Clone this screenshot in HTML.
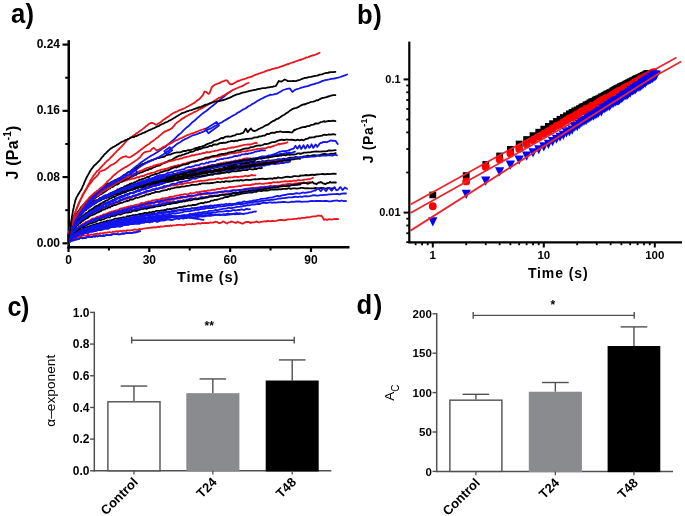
<!DOCTYPE html>
<html><head><meta charset="utf-8"><style>
html,body{margin:0;padding:0;background:#fff;}
svg{display:block;will-change:transform;}
text{font-family:"Liberation Sans",sans-serif;}
</style></head><body>
<svg width="685" height="516" viewBox="0 0 685 516">
<rect width="685" height="516" fill="#fff"/>
<text transform="translate(11.0,22.6) scale(0.9,1)" font-size="28.5" font-weight="bold" letter-spacing="0.4">a)</text>
<text transform="translate(357.0,23.8) scale(0.9,1)" font-size="28.5" font-weight="bold" letter-spacing="0.6">b)</text>
<text transform="translate(7.6,316.4) scale(0.88,1)" font-size="28.5" font-weight="bold" letter-spacing="-0.6">c)</text>
<text transform="translate(356.4,314.4) scale(0.9,1)" font-size="28.5" font-weight="bold" letter-spacing="1.8">d)</text>
<line x1="68.75" y1="40.20" x2="68.75" y2="248.50" stroke="#000" stroke-width="2.5" />
<line x1="67.50" y1="247.20" x2="349.50" y2="247.20" stroke="#000" stroke-width="2.5" />
<line x1="62.50" y1="243.30" x2="68.00" y2="243.30" stroke="#000" stroke-width="2.2" />
<text x="60.00" y="246.90" font-size="12" text-anchor="end" font-weight="bold" fill="#000" >0.00</text>
<line x1="62.50" y1="177.07" x2="68.00" y2="177.07" stroke="#000" stroke-width="2.2" />
<text x="60.00" y="180.67" font-size="12" text-anchor="end" font-weight="bold" fill="#000" >0.08</text>
<line x1="62.50" y1="110.84" x2="68.00" y2="110.84" stroke="#000" stroke-width="2.2" />
<text x="60.00" y="114.44" font-size="12" text-anchor="end" font-weight="bold" fill="#000" >0.16</text>
<line x1="62.50" y1="44.60" x2="68.00" y2="44.60" stroke="#000" stroke-width="2.2" />
<text x="60.00" y="48.20" font-size="12" text-anchor="end" font-weight="bold" fill="#000" >0.24</text>
<line x1="65.20" y1="210.18" x2="68.00" y2="210.18" stroke="#000" stroke-width="2" />
<line x1="65.20" y1="143.95" x2="68.00" y2="143.95" stroke="#000" stroke-width="2" />
<line x1="65.20" y1="77.72" x2="68.00" y2="77.72" stroke="#000" stroke-width="2" />
<line x1="68.50" y1="247.00" x2="68.50" y2="252.00" stroke="#000" stroke-width="2.2" />
<text x="68.50" y="264.20" font-size="12" text-anchor="middle" font-weight="bold" fill="#000" >0</text>
<line x1="149.32" y1="247.00" x2="149.32" y2="252.00" stroke="#000" stroke-width="2.2" />
<text x="149.32" y="264.20" font-size="12" text-anchor="middle" font-weight="bold" fill="#000" >30</text>
<line x1="230.14" y1="247.00" x2="230.14" y2="252.00" stroke="#000" stroke-width="2.2" />
<text x="230.14" y="264.20" font-size="12" text-anchor="middle" font-weight="bold" fill="#000" >60</text>
<line x1="310.96" y1="247.00" x2="310.96" y2="252.00" stroke="#000" stroke-width="2.2" />
<text x="310.96" y="264.20" font-size="12" text-anchor="middle" font-weight="bold" fill="#000" >90</text>
<line x1="108.91" y1="247.00" x2="108.91" y2="250.50" stroke="#000" stroke-width="2" />
<line x1="189.73" y1="247.00" x2="189.73" y2="250.50" stroke="#000" stroke-width="2" />
<line x1="270.55" y1="247.00" x2="270.55" y2="250.50" stroke="#000" stroke-width="2" />
<text x="208.00" y="282.40" font-size="14.6" text-anchor="middle" font-weight="bold" fill="#000" letter-spacing="0.8">Time (s)</text>
<text transform="translate(17.9,179.5) rotate(-90)" font-size="16" font-weight="bold" fill="#000" letter-spacing="0.2">J (Pa<tspan font-size="10" dy="-7">-1</tspan><tspan dy="7">)</tspan></text>
<line x1="409.30" y1="41.60" x2="409.30" y2="243.20" stroke="#000" stroke-width="2.2" />
<line x1="408.50" y1="242.40" x2="682.00" y2="242.40" stroke="#000" stroke-width="2.2" />
<line x1="403.60" y1="79.40" x2="409.00" y2="79.40" stroke="#000" stroke-width="2" />
<text x="400.60" y="82.80" font-size="11" text-anchor="end" font-weight="bold" fill="#000" >0.1</text>
<line x1="403.60" y1="212.60" x2="409.00" y2="212.60" stroke="#000" stroke-width="2" />
<text x="400.60" y="216.00" font-size="11" text-anchor="end" font-weight="bold" fill="#000" >0.01</text>
<line x1="406.30" y1="242.15" x2="409.00" y2="242.15" stroke="#000" stroke-width="1.8" />
<line x1="406.30" y1="233.23" x2="409.00" y2="233.23" stroke="#000" stroke-width="1.8" />
<line x1="406.30" y1="225.51" x2="409.00" y2="225.51" stroke="#000" stroke-width="1.8" />
<line x1="406.30" y1="218.69" x2="409.00" y2="218.69" stroke="#000" stroke-width="1.8" />
<line x1="406.30" y1="172.50" x2="409.00" y2="172.50" stroke="#000" stroke-width="1.8" />
<line x1="406.30" y1="149.05" x2="409.00" y2="149.05" stroke="#000" stroke-width="1.8" />
<line x1="406.30" y1="132.41" x2="409.00" y2="132.41" stroke="#000" stroke-width="1.8" />
<line x1="406.30" y1="119.50" x2="409.00" y2="119.50" stroke="#000" stroke-width="1.8" />
<line x1="406.30" y1="108.95" x2="409.00" y2="108.95" stroke="#000" stroke-width="1.8" />
<line x1="406.30" y1="100.03" x2="409.00" y2="100.03" stroke="#000" stroke-width="1.8" />
<line x1="406.30" y1="92.31" x2="409.00" y2="92.31" stroke="#000" stroke-width="1.8" />
<line x1="406.30" y1="85.49" x2="409.00" y2="85.49" stroke="#000" stroke-width="1.8" />
<line x1="432.80" y1="242.00" x2="432.80" y2="247.50" stroke="#000" stroke-width="2" />
<text x="432.80" y="259.20" font-size="11.5" text-anchor="middle" font-weight="bold" fill="#000" >1</text>
<line x1="543.80" y1="242.00" x2="543.80" y2="247.50" stroke="#000" stroke-width="2" />
<text x="543.80" y="259.20" font-size="11.5" text-anchor="middle" font-weight="bold" fill="#000" >10</text>
<line x1="654.80" y1="242.00" x2="654.80" y2="247.50" stroke="#000" stroke-width="2" />
<text x="654.80" y="259.20" font-size="11.5" text-anchor="middle" font-weight="bold" fill="#000" >100</text>
<line x1="415.61" y1="242.00" x2="415.61" y2="245.20" stroke="#000" stroke-width="1.8" />
<line x1="422.04" y1="242.00" x2="422.04" y2="245.20" stroke="#000" stroke-width="1.8" />
<line x1="427.72" y1="242.00" x2="427.72" y2="245.20" stroke="#000" stroke-width="1.8" />
<line x1="466.21" y1="242.00" x2="466.21" y2="245.20" stroke="#000" stroke-width="1.8" />
<line x1="485.76" y1="242.00" x2="485.76" y2="245.20" stroke="#000" stroke-width="1.8" />
<line x1="499.63" y1="242.00" x2="499.63" y2="245.20" stroke="#000" stroke-width="1.8" />
<line x1="510.39" y1="242.00" x2="510.39" y2="245.20" stroke="#000" stroke-width="1.8" />
<line x1="519.17" y1="242.00" x2="519.17" y2="245.20" stroke="#000" stroke-width="1.8" />
<line x1="526.61" y1="242.00" x2="526.61" y2="245.20" stroke="#000" stroke-width="1.8" />
<line x1="533.04" y1="242.00" x2="533.04" y2="245.20" stroke="#000" stroke-width="1.8" />
<line x1="538.72" y1="242.00" x2="538.72" y2="245.20" stroke="#000" stroke-width="1.8" />
<line x1="577.21" y1="242.00" x2="577.21" y2="245.20" stroke="#000" stroke-width="1.8" />
<line x1="596.76" y1="242.00" x2="596.76" y2="245.20" stroke="#000" stroke-width="1.8" />
<line x1="610.63" y1="242.00" x2="610.63" y2="245.20" stroke="#000" stroke-width="1.8" />
<line x1="621.39" y1="242.00" x2="621.39" y2="245.20" stroke="#000" stroke-width="1.8" />
<line x1="630.17" y1="242.00" x2="630.17" y2="245.20" stroke="#000" stroke-width="1.8" />
<line x1="637.61" y1="242.00" x2="637.61" y2="245.20" stroke="#000" stroke-width="1.8" />
<line x1="644.04" y1="242.00" x2="644.04" y2="245.20" stroke="#000" stroke-width="1.8" />
<line x1="649.72" y1="242.00" x2="649.72" y2="245.20" stroke="#000" stroke-width="1.8" />
<text x="558.20" y="277.90" font-size="14" text-anchor="middle" font-weight="bold" fill="#000" letter-spacing="0.9">Time (s)</text>
<text transform="translate(373.4,163.2) rotate(-90)" font-size="14" font-weight="bold" fill="#000" letter-spacing="0.6">J (Pa<tspan font-size="9" dy="-6" letter-spacing="0.2">-1</tspan><tspan dy="6">)</tspan></text>
<g fill="none" stroke-width="1.8" stroke-linejoin="round" stroke-linecap="round">
<path d="M68.5,243.3L68.6,242.4 68.8,241.5 69.1,240.5 69.3,240.8 69.4,240.5 69.6,240.2 69.8,239.8 70.0,239.6 70.3,238.5 70.3,239.0 70.5,238.5 70.8,238.7 71.1,238.1 71.4,238.0 71.7,237.7 72.0,237.5 72.4,237.5 72.7,237.3 72.8,236.7 73.1,236.9 73.5,236.7 73.9,236.1 74.4,235.6 74.8,235.6 75.3,235.6 75.8,235.2 76.3,234.6 76.8,234.8 77.3,234.3 77.7,234.6 77.9,233.9 78.4,234.0 79.0,233.6 79.6,233.9 80.2,232.9 80.9,233.3 81.5,232.6 82.2,232.4 82.9,232.0 83.6,232.0 84.3,232.1 85.0,232.0 85.8,231.7 86.5,231.1 87.0,230.7 87.3,230.8 88.1,230.7 88.9,230.1 89.7,230.5 90.6,229.5 91.5,229.4 92.3,229.1 93.2,228.9 94.2,228.5 95.1,228.5 96.0,228.3 97.0,228.6 98.0,228.0 99.0,227.9 100.0,227.4 101.0,227.0 102.1,227.1 102.3,227.2 103.1,226.5 104.2,226.8 105.3,226.1 106.4,226.3 107.6,225.8 108.7,225.4 109.9,225.2 111.0,225.5 112.2,225.1 113.5,224.5 114.7,225.0 115.9,224.2 117.2,224.0 118.5,223.5 119.8,223.5 121.1,223.5 122.4,223.6 123.8,222.9 125.1,222.8 126.5,222.2 127.9,222.5 129.3,221.9 130.0,221.9 130.7,221.7 132.2,221.9 133.6,221.8 135.1,220.7 136.6,220.7 138.1,220.1 139.7,220.4 141.2,220.2 142.8,219.1 144.3,219.3 145.9,218.7 147.5,218.5 149.2,218.3 150.8,217.8 152.5,217.8 154.2,217.2 155.9,217.1 157.6,216.7 159.3,216.6 161.0,216.1 162.8,216.2 164.6,215.8 166.4,216.2 168.2,215.9 170.0,215.9 170.0,216.4 171.8,215.7 173.7,216.1 175.6,216.2 177.5,216.4 179.4,216.6 181.3,216.4 183.3,217.1 185.2,217.1 187.2,216.8 189.2,217.5 191.2,217.7 193.2,218.4 195.3,218.5 197.3,218.8 199.4,219.2 201.5,219.6 203.6,219.8" stroke="#1414ee"/>
<path d="M68.5,243.3L68.6,238.9 68.6,238.2 68.6,237.8 68.7,236.3 68.8,235.6 68.9,233.7 69.2,232.5 69.5,230.5 70.0,228.7 70.8,225.9 72.0,223.5 73.9,220.1 75.2,217.9 76.7,216.9 78.2,215.4 79.6,213.1 81.1,212.3 82.5,210.9 84.0,209.6 85.5,208.7 86.9,207.7 88.4,206.3 89.9,205.4 91.3,204.7 92.8,204.3 94.2,203.4 95.7,202.4 97.2,201.3 98.6,201.0 100.1,200.4 101.5,199.5 103.0,198.2 104.5,197.7 105.9,196.9 107.4,196.4 108.8,196.2 110.3,195.3 111.8,194.5 113.2,193.7 114.7,193.1 116.2,193.3 117.6,192.8 119.1,192.2 120.5,190.8 122.0,190.6 123.5,189.9 124.9,189.7 126.4,189.0 127.8,188.8 129.3,188.3 130.8,188.0 132.2,187.4 133.7,186.9 135.2,186.0 136.6,186.5 138.1,185.5 139.5,185.5 141.0,184.6 142.5,183.9 143.9,184.4 145.4,183.5 146.8,182.7 148.3,183.1 149.8,182.7 151.2,181.5 152.7,181.9 154.2,180.7 155.6,180.4 157.1,180.0 158.5,180.4 160.0,179.7 161.5,179.3 162.9,179.1 164.4,178.3 165.8,177.7 167.3,177.4 168.8,177.2 170.2,177.2 171.7,176.4 173.2,176.0 174.6,175.8 176.1,175.3 177.5,175.0 179.0,174.8 180.5,174.4 181.9,174.3 183.4,174.5 184.8,174.0 186.3,173.1 187.8,172.8 189.2,172.8 190.7,172.6 192.2,172.3 193.6,172.1 195.1,171.9 196.5,171.6 198.0,170.9 199.5,170.6 200.9,171.0 202.4,170.3 203.8,170.4 205.3,170.1 206.8,169.7 208.2,169.3 209.7,169.1 211.2,168.4 212.6,168.0 214.1,167.9 215.5,167.4 217.0,167.2 218.5,166.8 219.9,166.6 221.4,166.2 222.8,166.1 224.3,166.4 225.8,165.4 227.2,165.8 228.7,165.6 230.2,164.8 231.6,164.9 233.1,164.7 234.5,164.8 236.0,164.2 237.5,163.5 238.9,163.2 240.4,163.1 241.8,162.8 243.3,163.2 244.8,163.0 246.2,162.0 247.7,162.4 249.2,162.3 250.6,161.4 252.1,161.5 253.5,161.0 255.0,160.9" stroke="#000"/>
<path d="M68.5,243.3L68.6,241.4 69.0,239.6 69.5,238.0 69.7,237.1 69.8,237.0 70.0,236.6 70.2,236.7 70.3,236.3 70.5,236.2 70.7,235.1 71.0,235.1 71.2,234.4 71.4,234.3 71.5,234.4 71.7,233.8 71.9,233.6 72.2,233.7 72.4,233.3 72.7,232.7 73.0,232.7 73.3,232.6 73.6,231.6 74.0,232.0 74.3,231.6 74.6,230.9 75.0,230.4 75.3,230.9 75.6,230.1 75.7,229.8 76.1,229.5 76.5,229.8 76.9,229.3 77.3,229.2 77.7,228.8 78.1,228.3 78.6,228.4 79.0,227.6 79.5,227.4 79.9,227.4 80.4,226.9 80.9,226.8 81.4,226.3 81.9,226.1 82.4,225.2 83.0,225.0 83.5,224.8 83.7,224.5 84.0,224.5 84.6,224.0 85.2,223.9 85.7,223.9 86.3,223.4 86.9,223.1 87.5,222.7 88.1,222.4 88.8,222.7 89.4,222.2 90.0,221.8 90.7,221.2 91.4,221.4 92.0,220.6 92.7,220.5 93.4,220.7 94.1,220.1 94.8,219.8 95.5,219.6 96.3,219.4 97.0,219.1 97.8,218.3 98.5,217.9 99.0,217.9 99.3,217.8 100.1,217.4 100.9,217.8 101.7,217.5 102.5,216.7 103.3,216.7 104.1,216.2 105.0,216.4 105.8,215.7 106.7,215.2 107.5,214.9 108.4,214.9 109.3,214.4 110.2,214.4 111.1,214.4 112.0,213.6 112.9,213.2 113.9,213.6 114.8,212.9 115.8,212.2 116.8,211.9 117.7,211.7 118.7,211.9 119.7,211.7 120.7,211.1 121.7,210.5 122.8,210.5 123.8,210.8 124.3,210.2 124.8,210.5 125.9,210.1 126.9,209.1 128.0,209.4 129.1,209.1 130.2,208.7 131.3,208.2 132.4,208.3 133.5,207.5 134.7,207.5 135.8,207.2 137.0,207.4 138.1,207.1 139.3,206.2 140.5,206.2 141.7,205.6 142.9,206.0 144.1,205.7 145.3,204.9 146.5,204.9 147.8,204.6 149.0,203.9 150.3,204.2 151.5,203.7 152.8,203.7 154.1,203.2 155.4,202.4 156.7,202.4 158.0,201.9 159.3,202.4 160.7,202.1 162.0,201.8 163.4,201.1 164.8,200.6 166.1,201.1 167.5,200.9 168.9,199.8 170.0,200.0 170.3,199.6 171.7,199.9 173.2,199.7 174.6,198.8 176.0,198.9 177.5,198.7 179.0,198.2 180.4,198.5 181.9,197.8 183.4,197.4 184.9,197.4 186.4,197.3 187.9,196.6 189.5,196.5 191.0,196.8 192.6,196.3 194.1,195.8 195.7,195.7 197.3,195.1 198.9,194.9 200.0,194.9 200.5,195.0 202.1,194.4 203.7,194.2 205.3,193.8 207.0,194.1 208.6,193.5 210.3,193.9 211.9,193.6 213.6,192.7 215.3,192.6 217.0,192.8 218.7,192.1 220.4,191.8 222.2,192.3 223.9,191.8 225.6,191.5 227.4,191.5 229.2,191.3 230.9,190.5 232.7,190.2 234.5,190.3 236.3,190.1 238.2,189.9 240.0,189.9 241.8,189.6 243.7,189.7 245.5,188.7 247.4,188.7 249.2,188.4 250.0,188.8 251.1,188.1 253.0,187.9 254.9,187.9 256.8,187.6 258.8,187.3 260.7,187.0 262.6,187.4 264.6,186.7 266.5,186.9 268.5,186.4 270.5,185.7 272.5,186.3 274.5,186.0 276.5,185.9 278.5,185.6 280.6,185.3 282.6,184.5 284.6,184.6 286.7,184.1 288.8,184.0 290.0,183.6 290.9,183.8 292.9,184.1 295.0,183.3 297.1,183.5 299.3,183.0 301.4,182.8 303.5,183.0 305.7,182.9 307.8,182.3 310.0,182.2" stroke="#e8141e"/>
<path d="M68.5,243.3L68.6,240.6 68.7,238.1 69.0,236.1 69.1,234.6 69.2,233.8 69.4,233.9 69.5,232.5 69.7,231.7 69.8,231.5 70.0,230.7 70.0,231.1 70.2,229.8 70.4,229.7 70.6,228.5 70.8,228.1 71.0,227.7 71.3,226.8 71.5,226.3 71.8,225.5 71.9,224.6 72.1,225.0 72.4,224.0 72.7,223.1 73.0,222.4 73.3,222.3 73.6,221.4 74.0,221.1 74.3,220.3 74.7,219.8 75.1,218.8 75.5,218.3 75.8,217.6 75.9,217.3 76.3,217.2 76.7,216.0 77.1,215.8 77.6,215.3 78.0,214.4 78.5,213.3 79.0,213.3 79.5,212.6 80.0,211.5 80.5,210.8 81.0,210.6 81.5,209.5 82.1,209.7 82.6,208.7 83.2,208.1 83.2,208.0 83.8,207.6 84.4,207.2 85.0,206.0 85.6,205.5 86.2,205.1 86.8,204.2 87.5,203.8 88.1,203.2 88.8,202.5 89.5,202.1 90.2,201.4 90.9,200.4 91.6,200.6 92.3,199.4 93.0,198.9 93.8,198.2 94.5,198.1 95.3,197.5 95.5,197.0 96.1,196.4 96.9,195.5 97.7,195.6 98.5,194.3 99.3,194.0 100.1,193.2 101.0,192.5 101.8,191.9 102.7,191.1 103.6,190.3 104.5,190.1 105.4,189.7 106.3,188.9 107.2,187.9 108.1,187.7 109.1,186.6 110.0,186.3 111.0,186.1 112.0,185.6 113.0,184.7 114.0,184.5 115.0,183.8 116.0,183.3 117.0,183.0 117.5,183.1 118.1,182.7 119.1,182.1 120.2,182.0 121.3,181.6 122.4,181.0 123.5,181.1 124.6,180.8 125.7,180.4 126.8,180.4 128.0,179.3 129.1,179.5 130.3,179.4 131.5,178.8 132.7,178.4 133.9,178.6 135.1,178.1 136.3,177.6 137.5,177.1 138.8,177.6 139.4,176.9 140.0,176.5 141.3,176.2 142.6,175.8 143.9,176.0 145.2,174.9 146.5,174.6 147.8,174.0 149.1,173.9 150.5,173.2 151.8,172.9 153.2,172.7 154.6,172.5 156.0,171.9 157.4,170.8 158.8,170.6 160.0,170.7 160.2,169.9 161.7,169.6 163.1,169.5 164.6,169.0 166.0,168.9 167.5,168.4 169.0,167.8 170.5,167.2 172.0,166.7 173.5,166.4 175.1,165.8 176.6,165.9 178.2,165.0 179.7,165.3 181.3,164.6 182.9,163.7 184.5,163.7 186.1,163.4 187.7,162.5 189.4,162.5 191.0,161.7 192.7,161.9 194.3,160.9 196.0,161.0 197.7,161.0 199.4,160.4 200.0,159.8 201.1,159.8 202.9,159.0 204.6,158.8 206.3,158.9 208.1,158.5 209.9,157.4 211.6,157.4 213.4,157.2 215.2,156.4 217.0,156.6 218.9,156.4 220.7,155.7 222.5,155.1 224.4,155.2 226.3,154.6 228.2,153.9 230.0,153.6 231.9,153.2 233.9,153.4 235.8,152.8 237.7,152.6 239.7,152.3 240.0,152.4 241.6,151.4 243.6,151.3 245.6,151.4 247.6,151.0 249.6,150.4 251.6,150.3 253.6,149.6 255.6,149.3 257.7,148.9 259.7,148.9 261.8,148.4 263.9,148.3 266.0,148.3 268.1,147.1 270.0,147.1 270.2,147.3 272.3,146.4 274.5,145.6 276.6,145.0 278.8,143.7 279.3,144.4 280.9,143.8 283.1,143.5 285.3,143.2 287.5,142.2" stroke="#e8141e"/>
<path d="M68.5,243.3L68.6,240.6 69.0,237.9 69.5,235.6 69.7,235.2 69.8,234.5 70.0,234.0 70.1,233.5 70.3,233.6 70.5,232.5 70.7,231.9 70.9,231.6 71.1,231.1 71.3,230.7 71.5,230.2 71.5,230.1 71.8,229.8 72.0,229.4 72.3,229.2 72.5,228.4 72.8,227.9 73.1,227.5 73.4,227.4 73.7,226.8 74.0,226.7 74.3,226.4 74.7,225.6 75.0,224.9 75.3,225.0 75.6,224.7 75.7,224.3 76.1,224.1 76.4,223.3 76.8,223.5 77.2,223.0 77.6,222.5 78.0,222.2 78.4,221.2 78.9,221.0 79.3,220.8 79.7,220.4 80.2,219.6 80.7,219.0 81.1,219.0 81.6,218.1 82.1,218.3 82.6,217.2 83.1,217.2 83.6,216.8 83.7,216.4 84.1,216.4 84.7,216.0 85.2,215.5 85.8,215.6 86.3,215.1 86.9,214.8 87.5,213.8 88.1,213.2 88.7,213.1 89.3,212.4 89.9,212.6 90.5,211.8 91.1,211.2 91.8,211.0 92.4,210.7 93.1,210.6 93.8,209.9 94.4,209.4 95.1,209.3 95.8,208.4 96.5,208.1 97.2,208.2 98.0,207.8 98.7,206.8 99.0,206.7 99.4,206.8 100.2,206.5 100.9,205.6 101.7,205.6 102.5,205.0 103.3,204.5 104.1,204.1 104.9,203.8 105.7,203.6 106.5,202.9 107.3,203.0 108.2,202.8 109.0,202.2 109.9,201.3 110.7,201.4 111.6,201.0 112.5,200.1 113.4,200.0 114.3,199.9 115.2,199.8 116.1,199.4 117.1,198.7 118.0,198.3 118.9,198.2 119.9,197.2 120.9,197.1 121.8,196.3 122.8,196.5 123.8,196.0 124.3,195.4 124.8,195.2 125.8,195.1 126.8,195.0 127.9,194.0 128.9,193.8 130.0,193.6 131.0,193.0 132.1,193.2 133.2,192.6 134.2,192.5 135.3,191.8 136.4,191.5 137.5,190.7 138.6,190.5 139.8,190.1 140.9,189.8 142.1,189.0 143.2,189.3 144.4,188.3 145.5,188.2 146.7,188.3 147.9,187.5 149.1,187.5 150.3,186.5 151.5,186.4 152.8,185.9 154.0,185.5 155.2,185.1 156.5,184.8 157.7,184.8 159.0,184.6 160.3,183.4 161.6,183.5 162.9,183.0 164.2,182.6 165.5,181.8 166.8,181.8 168.2,181.3 169.5,181.0 170.0,181.1 170.9,180.6 172.2,180.2 173.6,179.8 175.0,180.1 176.3,179.2 177.7,179.3 179.1,178.2 180.6,178.3 182.0,177.8 183.4,177.6 184.9,177.0 186.3,177.0 187.8,176.4 189.2,175.5 190.7,175.7 192.2,175.3 193.7,174.6 195.2,174.6 196.7,174.4 198.2,173.5 199.8,173.0 201.3,172.8 202.8,172.7 204.4,172.2 206.0,171.5 207.5,171.5 209.1,171.2 210.0,171.1 210.7,170.7 212.3,170.7 213.9,170.3 215.5,169.6 217.2,169.3 218.8,169.5 220.5,168.5 222.1,168.4 223.8,167.9 225.5,167.8 227.1,167.7 228.8,166.7 230.5,166.4 232.2,166.0 234.0,165.7 235.7,165.8 237.4,165.4 239.2,165.5 240.0,165.0 240.9,164.9 242.7,164.1 244.5,164.0 246.2,163.8 248.0,163.4 249.8,163.6 251.6,163.0 253.5,162.5 255.3,162.6 257.1,162.0 259.0,161.7 260.8,161.9 262.7,161.1 264.6,161.5 266.4,160.9 268.3,160.3 270.0,160.7 270.2,160.9 272.1,160.4 274.0,160.3 276.0,160.1 277.9,159.3 279.8,159.3 281.8,159.3 283.8,158.7 285.7,159.0 287.7,158.3 289.7,157.7 291.7,157.6 293.7,157.6 295.7,157.0 297.7,157.3 299.8,157.5 300.0,157.4 301.8,157.2 303.9,156.4 305.9,156.1 308.0,155.7 310.1,156.3 312.2,155.3 314.3,155.1 316.4,155.4 318.5,155.4 320.6,154.8 322.7,154.2 324.9,154.0 327.0,154.4 329.2,154.1 331.3,153.6 333.5,153.9 335.7,153.1" stroke="#000"/>
<path d="M68.5,243.3L68.6,240.8 69.0,238.4 69.5,236.1 69.7,235.8 69.9,235.5 70.0,234.4 70.2,234.3 70.5,233.8 70.7,233.3 70.9,232.3 71.2,231.7 71.4,231.6 71.5,231.7 71.7,231.0 72.0,230.7 72.3,230.1 72.6,230.1 72.9,229.7 73.3,228.8 73.6,228.8 74.0,227.5 74.3,227.7 74.7,227.3 75.1,226.2 75.5,226.3 75.6,226.0 75.9,226.0 76.4,224.9 76.8,224.7 77.3,224.6 77.7,223.9 78.2,223.2 78.7,222.5 79.2,222.9 79.7,222.0 80.3,222.0 80.8,220.8 81.4,221.0 81.9,220.5 82.5,220.2 83.1,218.9 83.7,218.8 83.7,218.5 84.3,218.7 85.0,217.9 85.6,218.0 86.3,217.0 86.9,217.0 87.6,216.6 88.3,215.6 89.0,215.5 89.7,215.4 90.4,214.6 91.2,214.0 91.9,213.5 92.7,213.5 93.5,212.5 94.2,212.5 95.0,212.0 95.9,211.6 96.7,210.8 97.5,210.8 98.4,210.6 99.0,209.8 99.2,209.7 100.1,209.8 101.0,209.1 101.9,208.4 102.8,207.7 103.7,207.9 104.6,207.2 105.6,206.8 106.5,206.2 107.5,206.2 108.5,205.8 109.5,205.0 110.5,204.4 111.5,204.8 112.6,204.3 113.6,203.1 114.7,203.2 115.7,202.9 116.8,202.2 117.9,202.1 119.0,201.9 120.1,201.1 121.3,200.5 122.4,199.9 123.5,199.6 124.3,199.2 124.7,199.0 125.9,198.7 127.1,198.9 128.3,198.2 129.5,198.0 130.7,197.6 132.0,197.1 133.2,196.0 134.5,196.4 135.8,195.2 137.0,195.4 138.4,195.0 139.7,194.4 141.0,193.7 142.3,193.0 143.7,192.6 145.0,192.7 146.4,191.9 147.8,191.7 149.2,191.1 150.6,190.6 152.0,190.3 153.5,190.2 154.9,189.6 156.4,189.1 157.8,188.8 159.3,188.5 160.8,188.1 162.3,187.7 163.9,187.8 165.4,187.2 166.9,186.4 168.5,186.2 170.0,185.7 170.1,185.9 171.6,185.2 173.2,185.6 174.8,185.1 176.5,184.7 178.1,184.8 179.7,184.0 181.4,183.9 183.1,184.0 184.7,183.3 186.4,183.1 188.1,182.6 189.9,182.9 191.6,182.4 193.3,181.8 195.1,181.6 196.8,181.5 198.6,181.2 200.0,181.0 200.4,180.7 202.2,180.8 204.0,180.6 205.9,180.5 207.7,180.0 209.5,179.7 211.4,179.5 213.3,179.4 215.2,179.1 217.1,178.5 219.0,178.5 220.9,178.9 222.8,178.5 224.8,178.0 226.8,178.1 228.7,177.4 230.0,177.3 230.7,177.4 232.7,177.4 234.7,176.6 236.7,176.8 238.8,177.0 240.8,176.5 242.9,176.7 245.0,175.7 247.0,176.2 249.1,176.0 251.2,175.0 253.4,175.3 255.5,175.3" stroke="#e8141e"/>
<path d="M68.5,243.3L68.6,239.5 68.6,238.8 68.6,238.3 68.7,237.5 68.8,235.6 68.9,235.3 69.2,233.7 69.5,231.2 70.0,230.0 70.8,227.6 72.0,224.2 73.9,221.8 75.2,219.2 76.7,217.4 78.2,216.0 79.6,214.5 81.1,213.1 82.6,211.4 84.1,210.4 85.5,208.9 87.0,207.9 88.5,207.1 89.9,205.7 91.4,205.0 92.9,204.6 94.4,203.1 95.8,202.5 97.3,201.2 98.8,201.2 100.2,199.7 101.7,199.1 103.2,198.9 104.7,197.9 106.1,197.3 107.6,196.7 109.1,195.9 110.5,195.2 112.0,194.3 113.5,193.7 115.0,193.1 116.4,192.6 117.9,192.1 119.4,192.1 120.8,190.8 122.3,190.2 123.8,189.8 125.2,189.1 126.7,189.3 128.2,188.9 129.7,188.2 131.1,187.9 132.6,187.0 134.1,186.4 135.5,185.8 137.0,185.6 138.5,184.8 140.0,184.6 141.4,184.0 142.9,183.8 144.4,183.6 145.8,182.9 147.3,182.0 148.8,182.0 150.3,181.7 151.7,181.1 153.2,180.2 154.7,179.8 156.1,179.9 157.6,179.6 159.1,179.0 160.6,178.8 162.0,178.3 163.5,178.2 165.0,177.2 166.4,177.4 167.9,176.9 169.4,175.9 170.8,175.7 172.3,175.4 173.8,175.5 175.3,175.0 176.7,174.1 178.2,174.4 179.7,173.6 181.1,173.8 182.6,172.9 184.1,172.4 185.6,172.3 187.0,172.1 188.5,171.7 190.0,171.5 191.4,170.7 192.9,170.5 194.4,170.0 195.9,170.6 197.3,169.8 198.8,169.3 200.3,168.8 201.7,169.0 203.2,168.1 204.7,167.9 206.2,168.1 207.6,167.7 209.1,167.5 210.6,167.4 212.0,166.5 213.5,166.7 215.0,166.4 216.5,166.2 217.9,165.6 219.4,165.5 220.9,164.5 222.3,164.4 223.8,164.5 225.3,164.2 226.7,163.9 228.2,163.5 229.7,162.8 231.2,162.8 232.6,162.4 234.1,162.6 235.6,161.9 237.0,162.2 238.5,161.7 240.0,161.3 241.5,161.2 242.9,161.2 244.4,160.4 245.9,159.9 247.3,160.4 248.8,159.6 250.3,159.9 251.8,159.3 253.2,158.9 254.7,159.1 256.2,158.1 257.6,158.6 259.1,157.8 260.6,158.0 262.1,158.0 263.5,157.6 265.0,156.9 266.5,157.2 267.9,156.6 269.4,156.1 270.9,155.9 272.3,155.4 273.8,155.7 275.3,155.3 276.8,155.2 278.2,155.2 279.7,154.6 281.2,153.9 282.6,154.3 284.1,153.5 285.6,153.8 287.1,153.5 288.5,153.2 290.0,153.2" stroke="#1414ee"/>
<path d="M68.5,243.3L68.6,239.9 69.0,236.7 69.6,233.8 69.8,233.3 69.9,232.2 70.1,232.3 70.2,231.1 70.4,231.0 70.6,229.9 70.8,230.0 71.0,228.9 71.2,228.9 71.5,228.4 71.7,227.9 71.8,227.3 71.9,227.5 72.2,227.0 72.5,225.7 72.7,225.6 73.0,225.5 73.3,224.7 73.6,224.0 73.9,223.3 74.2,223.4 74.5,222.1 74.9,222.2 75.2,221.8 75.6,220.7 75.9,220.3 76.3,219.8 76.3,220.0 76.7,219.3 77.1,219.3 77.4,218.8 77.9,217.8 78.3,217.8 78.7,216.6 79.1,216.1 79.6,216.1 80.0,215.8 80.5,215.3 80.9,214.9 81.4,214.3 81.9,213.3 82.4,213.3 82.9,212.9 83.4,211.7 83.9,211.6 84.4,210.8 85.0,210.3 85.2,210.4 85.5,210.3 86.1,210.1 86.6,208.8 87.2,208.7 87.8,208.6 88.4,208.0 89.0,207.3 89.6,206.5 90.2,206.4 90.8,205.6 91.5,205.5 92.1,205.0 92.8,204.3 93.4,204.2 94.1,203.3 94.8,202.9 95.5,202.8 96.2,201.8 96.9,201.3 97.6,201.1 98.3,200.5 99.0,200.5 99.8,199.4 100.5,199.1 101.3,198.3 101.9,198.3 102.1,198.1 102.8,197.7 103.6,197.6 104.4,196.4 105.2,196.8 106.0,196.1 106.9,195.8 107.7,195.0 108.5,194.6 109.4,194.0 110.2,193.5 111.1,192.9 112.0,192.5 112.9,192.1 113.8,191.6 114.7,191.7 115.6,191.1 116.5,190.5 117.4,189.5 118.4,189.3 119.3,189.1 120.3,188.7 121.2,188.0 122.2,187.8 123.2,187.6 124.2,186.5 125.2,186.2 126.2,186.1 127.2,185.2 128.2,185.1 129.3,184.4 129.8,183.8 130.3,184.0 131.4,183.2 132.4,183.4 133.5,183.0 134.6,182.2 135.7,182.1 136.8,181.1 137.9,180.8 139.0,180.1 140.1,179.6 141.3,179.8 142.4,178.7 143.5,179.0 144.7,178.2 145.9,177.9 147.1,176.9 148.2,177.2 149.4,176.7 150.6,175.6 151.9,175.2 153.1,174.8 154.3,174.6 155.6,173.8 156.8,174.0 158.1,173.3 159.3,173.0 160.6,172.2 161.9,172.1 163.2,171.5 164.5,171.2 165.8,170.6 167.1,170.6 168.5,170.1 169.8,169.6 171.1,168.7 172.5,168.1 173.9,167.7 175.2,167.2 176.6,167.5 178.0,166.4 179.4,166.5 180.0,165.8 180.8,165.8 182.2,165.1 183.7,164.7 185.1,164.6 186.6,164.0 188.0,163.9 189.5,162.8 190.9,162.3 192.4,161.7 193.9,161.4 195.4,161.6 196.9,160.8 198.4,160.2 200.0,159.7 201.5,159.6 203.0,159.1 204.6,158.2 206.2,157.6 207.7,157.3 209.3,157.5 210.0,157.2 210.9,156.5 212.5,156.1 214.1,155.8 215.7,155.7 217.3,155.4 219.0,154.5 220.6,154.2 222.3,153.8 223.9,154.0 225.6,153.3 227.3,153.3 229.0,152.3 230.6,152.2 232.4,151.8 234.1,151.7 235.8,150.8 237.5,150.3 239.3,150.5 240.0,150.4 241.0,149.8 242.8,149.2 244.5,148.6 246.3,148.5 248.1,148.5 249.9,147.5 251.7,147.2 253.5,146.9 255.3,146.1 257.1,145.6 259.0,145.5 260.8,145.5 262.7,145.0 264.5,144.0 266.4,144.1 268.3,143.7 270.0,143.1 270.2,142.8 272.1,142.2 274.0,142.1 275.9,141.6 277.8,140.6 279.8,140.1 281.7,139.6 283.7,140.0 285.6,139.9 286.4,139.5 287.6,139.6 289.6,139.9 291.6,139.6 293.4,140.0 293.6,140.0 295.6,140.3 297.6,139.7 299.6,140.3 301.7,139.7 302.7,140.1 303.7,140.3 305.7,139.0 307.8,138.6 309.9,137.4 310.9,137.6 312.0,137.3 314.0,137.3 316.1,136.4 318.2,136.3 320.4,135.8 322.5,135.6 322.6,135.2 324.6,134.7 326.7,135.0 328.9,134.4 331.1,134.7 333.2,134.2 335.4,134.6" stroke="#000"/>
<path d="M68.5,243.3L68.6,241.4 69.0,239.5 69.5,237.7 69.7,237.4 69.8,237.3 70.0,237.0 70.2,236.6 70.4,235.8 70.6,236.0 70.8,235.2 71.0,234.8 71.2,234.2 71.5,234.3 71.5,233.8 71.7,233.7 72.0,233.7 72.2,233.5 72.5,233.2 72.8,232.2 73.1,231.9 73.4,231.7 73.8,231.7 74.1,231.6 74.4,231.2 74.8,231.0 75.1,230.4 75.5,230.1 75.6,229.7 75.9,229.5 76.3,229.1 76.7,229.1 77.1,228.8 77.5,228.4 78.0,228.0 78.4,227.7 78.9,227.2 79.3,227.4 79.8,226.9 80.3,226.7 80.8,226.4 81.3,225.7 81.8,225.2 82.3,225.0 82.9,225.3 83.4,224.9 83.7,224.4 84.0,224.5 84.5,223.8 85.1,224.0 85.7,223.0 86.3,223.3 86.9,223.2 87.5,222.4 88.2,222.1 88.8,221.5 89.5,221.3 90.1,221.0 90.8,220.7 91.5,220.2 92.1,220.1 92.8,219.6 93.6,219.7 94.3,219.3 95.0,218.8 95.7,219.2 96.5,218.3 97.3,218.2 98.0,218.2 98.8,217.8 99.0,217.9 99.6,217.4 100.4,217.3 101.2,216.3 102.0,216.6 102.9,215.9 103.7,215.6 104.6,215.7 105.4,215.4 106.3,214.8 107.2,214.5 108.1,214.1 109.0,214.4 109.9,213.8 110.8,213.2 111.7,213.2 112.7,212.4 113.6,212.3 114.6,212.2 115.6,212.4 116.6,212.0 117.6,211.4 118.6,211.3 119.6,210.6 120.6,210.7 121.6,210.6 122.7,209.6 123.8,210.0 124.3,209.9 124.8,209.2 125.9,209.3 127.0,209.2 128.1,208.1 129.2,208.1 130.3,207.9 131.4,207.8 132.6,207.0 133.7,207.2 134.9,206.8 136.0,206.7 137.2,206.3 138.4,206.1 139.6,205.6 140.8,205.2 142.0,204.8 143.3,204.5 144.5,204.3 145.8,204.0 147.0,203.6 148.3,203.1 149.6,203.0 150.9,203.2 152.2,202.4 153.5,202.7 154.8,202.3 156.1,201.7 157.5,201.2 158.8,201.5 160.2,201.3 161.6,200.4 162.9,200.5 164.3,200.3 165.7,199.9 167.1,199.2 168.6,199.0 170.0,199.2 170.0,199.1 171.4,198.9 172.9,198.3 174.4,198.6 175.8,198.2 177.3,197.7 178.8,197.8 180.3,197.0 181.8,197.0 183.4,196.7 184.9,196.9 186.4,196.6 188.0,195.9 189.6,196.0 191.1,195.3 192.7,195.6 194.3,195.4 195.9,195.0 197.5,194.2 199.2,194.2 200.8,193.9 202.5,193.9 204.1,193.3 205.8,193.1 207.5,192.9 209.1,193.4 210.0,193.1 210.8,193.2 212.6,193.1 214.3,192.6 216.0,192.6 217.7,192.1 219.5,192.1 221.3,191.5 223.0,191.6 224.8,191.1 226.6,191.2 228.4,191.5 230.2,191.4 232.0,191.0 233.9,190.2 235.7,190.9 237.5,190.3 239.4,190.2 240.0,189.9 241.3,190.1 243.2,189.5 245.1,189.1 247.0,189.3 248.9,188.8 250.8,188.6 252.7,188.4 254.7,188.7 256.6,188.5 258.6,187.8 260.6,188.1 262.5,187.3 264.5,187.9 266.5,187.1 268.6,187.1 270.0,186.9 270.6,187.3 272.6,186.7 274.7,186.3 276.7,186.7 278.8,186.3 280.9,185.8 282.9,186.1 285.0,186.0 287.1,185.7 289.3,185.6 291.4,185.0 293.5,184.8 295.7,184.4 297.8,185.0 300.0,184.3" stroke="#1414ee"/>
<path d="M68.5,243.3L68.6,241.3 69.0,239.3 69.5,237.4 69.7,236.9 69.8,236.4 70.0,236.7 70.2,236.1 70.3,235.8 70.5,235.4 70.7,234.9 70.9,234.8 71.2,234.4 71.4,234.2 71.5,233.9 71.6,233.9 71.9,233.2 72.2,232.6 72.4,232.3 72.7,232.4 73.0,231.6 73.3,231.7 73.6,231.3 73.9,230.5 74.3,230.8 74.6,229.8 75.0,230.2 75.3,229.9 75.6,229.1 75.7,229.4 76.1,229.1 76.4,228.2 76.8,228.4 77.2,227.6 77.7,228.0 78.1,227.5 78.5,227.4 79.0,226.2 79.4,226.2 79.9,226.1 80.4,225.8 80.9,225.1 81.4,225.4 81.9,225.0 82.4,224.2 82.9,223.8 83.4,223.9 83.7,223.5 84.0,223.6 84.5,223.1 85.1,222.7 85.7,222.1 86.2,221.9 86.8,221.8 87.4,221.8 88.0,221.2 88.7,221.1 89.3,220.6 89.9,220.6 90.6,220.1 91.2,219.5 91.9,219.0 92.6,218.7 93.3,218.3 94.0,218.8 94.7,218.5 95.4,218.1 96.1,217.2 96.9,217.4 97.6,216.6 98.4,216.9 99.0,216.5 99.1,216.5 99.9,216.1 100.7,215.6 101.5,215.7 102.3,215.5 103.1,214.5 103.9,214.4 104.8,214.4 105.6,214.0 106.5,213.5 107.3,213.2 108.2,213.4 109.1,212.4 110.0,212.1 110.9,212.2 111.8,211.5 112.7,211.8 113.7,211.0 114.6,211.2 115.5,210.4 116.5,210.6 117.5,210.2 118.5,209.9 119.4,209.1 120.4,208.7 121.5,208.3 122.5,208.2 123.5,208.3 124.3,207.5 124.5,207.6 125.6,207.6 126.6,207.0 127.7,206.8 128.8,206.4 129.9,206.5 131.0,205.7 132.1,206.2 133.2,205.6 134.3,205.4 135.5,204.9 136.6,204.6 137.8,204.7 138.9,204.3 140.1,204.0 141.3,202.9 142.5,203.2 143.7,203.2 144.9,202.6 146.1,202.2 147.3,202.0 148.6,201.3 149.8,201.5 151.1,201.3 152.4,200.3 153.6,200.4 154.9,200.2 156.2,199.7 157.5,199.7 158.9,199.7 160.2,199.4 161.5,198.5 162.9,198.1 164.2,198.5 165.6,198.0 167.0,197.9 168.4,197.6 169.8,196.8 170.0,197.1 171.2,196.6 172.6,196.8 174.0,196.4 175.5,195.7 176.9,195.7 178.4,195.5 179.8,195.0 181.3,194.7 182.8,194.7 184.3,194.1 185.8,194.2 187.3,194.3 188.8,194.0 190.4,193.0 191.9,193.5 193.5,193.1 195.0,192.9 196.6,192.0 198.2,192.4 199.8,191.7 200.0,192.2 201.4,191.5 203.0,191.3 204.6,190.9 206.2,191.2 207.9,190.4 209.5,190.7 211.2,190.2 212.8,189.6 214.5,189.8 216.2,189.4 217.9,188.7 219.6,189.1 221.3,188.4 223.1,187.9 224.8,188.3 226.5,188.0 228.3,187.4 230.1,187.0 231.8,187.1 233.6,186.9 235.4,186.7 237.2,186.3 239.0,186.1 240.9,186.0 242.7,185.3 244.5,185.1 246.4,185.1 248.3,185.1 250.1,185.0 251.0,184.9 252.0,184.4 253.9,184.5 255.8,183.7 257.7,183.8 259.6,183.3 261.6,183.8 263.5,183.8 265.5,183.4 267.4,183.3 269.4,182.8 271.4,183.0 273.4,182.2 275.4,182.3 277.4,182.1 279.4,182.4 281.4,181.6 283.5,181.4 285.5,181.1 287.6,181.6 289.6,181.0 291.7,181.3 293.8,180.5 295.9,180.8 298.0,180.0 300.0,180.4 300.1,180.4 302.2,180.1 304.4,179.6 306.5,179.4 308.7,179.1 310.8,178.8 313.0,177.8" stroke="#e8141e"/>
<path d="M68.5,243.3L68.6,242.6 68.6,242.5 68.6,242.0 68.7,241.7 68.8,242.0 68.9,241.2 69.2,241.2 69.5,240.2 70.0,240.5 70.8,239.5 72.0,238.2 73.9,236.9 75.2,237.0 76.7,236.4 78.2,235.3 79.6,234.5 81.1,234.9 82.5,234.4 84.0,233.5 85.4,232.7 86.9,232.9 88.4,232.8 89.8,231.7 91.3,231.4 92.7,231.6 94.2,231.1 95.6,231.0 97.1,230.4 98.6,229.7 100.0,230.1 101.5,229.6 102.9,229.4 104.4,228.6 105.9,228.3 107.3,228.7 108.8,228.4 110.2,227.3 111.7,227.0 113.1,226.8 114.6,227.1 116.1,226.5 117.5,226.1 119.0,226.3 120.4,226.5 121.9,225.8 123.4,225.2 124.8,225.0 126.3,224.9 127.7,224.8 129.2,224.4 130.6,224.1 132.1,224.1 133.6,223.8 135.0,223.6 136.5,223.3 137.9,223.6 139.4,223.6 140.8,223.0 142.3,222.5 143.8,222.6 145.2,222.1 146.7,222.0 148.1,221.9 149.6,222.4 151.1,221.4 152.5,221.6 154.0,221.0 155.4,221.1 156.9,221.6 158.3,221.3 159.8,220.7 161.3,220.4 162.7,220.2 164.2,220.3 165.6,220.0 167.1,219.7 168.6,219.3 170.0,219.9 171.5,220.0 172.9,219.8 174.4,219.2 175.8,218.9 177.3,218.5 178.8,219.2 180.2,218.5 181.7,217.9 183.1,218.7 184.6,218.2 186.1,218.2 187.5,217.8 189.0,217.3 190.4,217.8 191.9,217.6 193.3,217.2 194.8,217.5 196.3,216.6 197.7,217.2 199.2,216.7 200.6,216.1 202.1,216.7 203.5,216.6 205.0,216.4 206.5,215.9 207.9,215.9 209.4,215.8 210.8,215.8 212.3,215.3 213.8,214.9 215.2,215.0 216.7,214.9 218.1,214.4 219.6,214.4 221.0,214.8 222.5,214.5 224.0,214.1 225.4,214.6 226.9,213.7 228.3,213.5 229.8,214.0 231.3,214.1 232.7,214.0 234.2,213.6 235.6,213.3 237.1,213.0 238.5,213.6 240.0,213.2" stroke="#1414ee"/>
<path d="M68.5,243.3L68.5,243.1 68.5,242.9 68.6,242.7 68.7,242.8 68.8,241.9 68.8,242.1 69.0,242.5 69.2,242.1 69.3,241.5 69.4,241.6 69.7,241.9 69.9,241.3 70.2,240.8 70.2,241.6 70.6,240.7 70.9,241.0 71.3,240.8 71.8,240.5 71.9,240.9 72.2,240.1 72.7,240.3 73.3,239.7 73.8,240.3 74.4,239.4 74.7,239.6 75.0,239.8 75.6,239.7 76.3,238.9 77.0,239.4 77.8,239.2 78.5,238.6 79.3,238.8 79.7,238.3 80.1,238.1 81.0,238.0 81.9,238.0 82.8,238.3 83.7,237.8 84.7,238.1 85.7,237.9 86.8,237.2 87.8,237.2 88.9,236.8 90.0,237.1 91.2,237.0 92.4,236.8 93.6,236.2 94.9,236.6 96.1,236.0 97.4,236.5 98.8,236.0 100.1,235.5 101.5,236.2 103.0,236.0 103.0,235.4 104.4,235.8 105.9,235.1 107.4,235.2 109.0,235.1 110.6,235.1 112.2,234.3 113.8,234.1 115.5,234.1 117.2,234.1 118.9,234.3 120.7,234.1 122.5,233.4 124.3,233.7 126.2,233.0 126.4,232.9 128.1,233.1 130.0,233.2 131.9,233.0 133.9,232.3 135.9,232.3 137.9,231.5 140.0,231.2" stroke="#1414ee"/>
<path d="M68.5,243.3L68.6,237.9 68.6,237.1 68.6,236.7 68.7,235.6 68.8,234.2 68.9,232.3 69.2,230.8 69.5,229.4 70.0,227.4 70.8,224.2 72.0,221.6 73.9,219.2 75.2,216.5 76.7,215.3 78.2,213.4 79.6,212.3 81.1,211.2 82.6,209.7 84.0,208.4 85.5,207.3 87.0,206.6 88.5,205.7 89.9,204.5 91.4,203.7 92.9,203.0 94.3,201.9 95.8,201.1 97.3,200.8 98.7,199.6 100.2,199.4 101.7,198.9 103.1,198.3 104.6,197.1 106.1,196.7 107.6,196.6 109.0,195.4 110.5,195.5 112.0,194.2 113.4,194.3 114.9,192.9 116.4,193.1 117.8,192.7 119.3,191.9 120.8,191.5 122.2,191.3 123.7,191.0 125.2,189.7 126.7,189.6 128.1,188.6 129.6,188.5 131.1,187.9 132.5,187.5 134.0,187.5 135.5,186.6 136.9,186.2 138.4,185.7 139.9,186.1 141.3,185.1 142.8,184.6 144.3,184.8 145.7,184.5 147.2,184.0 148.7,183.6 150.2,183.2 151.6,183.0 153.1,182.3 154.6,182.5 156.0,182.0 157.5,181.8 159.0,181.5 160.4,181.1 161.9,180.5 163.4,180.1 164.8,180.0 166.3,179.6 167.8,178.7 169.3,179.3 170.7,178.2 172.2,178.2 173.7,177.9 175.1,177.2 176.6,177.4 178.1,177.1 179.5,177.1 181.0,176.6 182.5,176.0 183.9,176.0 185.4,176.1 186.9,175.5 188.4,175.4 189.8,174.3 191.3,174.7 192.8,174.0 194.2,173.6 195.7,173.5 197.2,173.1 198.6,172.8 200.1,172.6 201.6,172.4 203.0,172.2 204.5,172.4 206.0,171.5 207.4,171.3 208.9,171.0 210.4,171.2 211.9,170.6 213.3,170.7 214.8,170.2 216.3,169.9 217.7,169.9 219.2,169.3 220.7,169.8 222.1,169.3 223.6,168.9 225.1,168.8 226.5,169.0 228.0,168.3 229.5,168.0 231.0,167.6 232.4,167.5 233.9,167.7 235.4,167.3 236.8,166.7 238.3,167.1 239.8,166.2 241.2,166.2 242.7,166.4 244.2,166.3 245.6,165.6 247.1,165.0 248.6,165.3 250.1,165.0 251.5,164.4 253.0,164.5 254.5,164.8 255.9,163.7 257.4,163.7 258.9,163.5 260.3,163.9 261.8,163.2 263.3,163.4 264.7,163.2 266.2,162.3 267.7,162.5 269.1,162.0 270.6,162.5 272.1,162.0 273.6,161.7 275.0,161.9 276.5,161.8 278.0,160.8 279.4,160.7 280.9,160.7 282.4,160.5 283.8,160.4 285.3,160.2 286.8,160.6 288.2,160.1 289.7,160.2 291.2,159.7 292.7,159.1 294.1,159.3 295.6,158.7 297.1,158.9 298.5,158.3 300.0,158.9" stroke="#000"/>
<path d="M68.5,243.3L68.6,240.7 69.0,238.3 69.5,236.0 69.7,235.6 69.8,235.3 70.0,234.3 70.2,234.2 70.4,233.9 70.6,233.5 70.8,232.4 71.0,232.4 71.3,231.9 71.5,231.3 71.5,231.7 71.8,230.9 72.0,230.4 72.3,230.4 72.6,229.7 72.9,228.9 73.2,228.5 73.5,228.2 73.9,227.4 74.2,227.4 74.6,227.1 74.9,226.4 75.3,226.4 75.6,226.1 75.7,225.7 76.1,225.3 76.5,224.4 76.9,223.9 77.3,224.3 77.8,223.3 78.2,222.8 78.7,223.0 79.1,222.4 79.6,221.4 80.1,221.2 80.6,220.7 81.1,220.3 81.6,219.6 82.2,219.7 82.7,219.1 83.3,218.7 83.7,218.2 83.8,218.1 84.4,217.6 85.0,217.9 85.6,217.4 86.2,216.8 86.8,216.0 87.4,215.6 88.1,215.2 88.7,214.9 89.4,214.3 90.0,214.1 90.7,213.6 91.4,213.2 92.1,213.2 92.8,212.6 93.5,212.2 94.3,211.7 95.0,211.5 95.8,211.3 96.5,210.5 97.3,209.8 98.1,209.8 98.9,209.3 99.0,209.6 99.7,208.7 100.5,209.0 101.3,207.8 102.2,207.9 103.0,207.4 103.9,206.9 104.7,207.0 105.6,206.4 106.5,205.5 107.4,205.4 108.3,205.1 109.2,204.2 110.2,203.9 111.1,203.9 112.1,203.7 113.0,203.0 114.0,202.6 115.0,202.3 116.0,201.7 117.0,201.8 118.0,201.5 119.0,200.7 120.1,199.9 121.1,199.8 122.2,199.8 123.3,199.0 124.3,198.4 124.3,198.5 125.4,198.5 126.5,198.1 127.7,197.4 128.8,197.3 129.9,197.0 131.0,196.8 132.2,196.3 133.4,195.6 134.5,195.6 135.7,195.3 136.9,194.8 138.1,194.4 139.4,193.8 140.6,193.4 141.8,193.3 143.1,192.7 144.3,192.4 145.6,191.6 146.9,191.1 148.2,190.9 149.5,190.8 150.8,190.4 152.1,189.7 153.4,189.3 154.8,189.6 156.1,188.4 157.5,188.8 158.9,188.3 160.3,187.7 161.7,187.7 163.1,187.0 164.5,186.0 165.9,186.5 167.4,185.6 168.8,185.7 170.0,185.3 170.3,184.6 171.7,184.1 173.2,183.7 174.7,184.0 176.2,183.6 177.7,182.7 179.3,182.2 180.8,182.0 182.3,182.0 183.9,181.5 185.5,181.2 187.0,180.9 188.6,180.3 190.2,180.0 191.8,178.9 193.4,178.4 195.1,178.8 196.7,178.2 198.4,177.5 200.0,176.9 201.7,176.7 203.4,176.4 205.1,176.1 206.8,175.7 208.5,175.1 210.0,174.6 210.2,174.7 211.9,174.2 213.7,173.8 215.5,173.7 217.2,173.1 219.0,173.3 220.8,172.7 222.6,172.3 224.4,172.1 226.2,171.3 228.0,170.8 229.9,170.5 231.7,170.3 233.6,170.0 235.5,169.6 237.3,169.3 239.2,169.4 240.0,168.6 241.1,168.8 243.1,168.4 245.0,168.0 246.9,168.1 248.9,167.3 250.8,166.8 252.8,166.6 254.8,167.1 256.8,166.2 258.8,165.7 260.8,166.2 262.8,165.6 264.8,165.6 266.9,164.7 268.9,164.9 271.0,163.9 273.0,163.8 275.1,164.0 277.2,163.5 279.3,163.5 281.4,162.9 283.6,163.1 285.7,162.1 287.8,162.4 290.0,161.7" stroke="#1414ee"/>
<path d="M68.5,243.3L68.6,242.5 68.6,242.4 68.6,241.7 68.7,242.3 68.8,241.9 68.9,240.8 69.2,240.9 69.5,240.0 70.0,240.0 70.8,239.2 72.0,237.7 73.9,236.8 75.2,236.0 76.7,235.1 78.1,234.6 79.6,234.0 81.1,233.5 82.5,233.5 84.0,232.7 85.4,231.6 86.9,231.5 88.3,231.6 89.8,231.0 91.3,230.5 92.7,230.1 94.2,229.8 95.6,228.9 97.1,228.8 98.5,228.4 100.0,227.9 101.4,228.1 102.9,227.1 104.4,227.0 105.8,227.2 107.3,227.1 108.7,226.2 110.2,226.5 111.6,226.2 113.1,225.2 114.6,225.7 116.0,224.7 117.5,224.7 118.9,224.1 120.4,223.9 121.8,224.2 123.3,224.1 124.8,223.1 126.2,223.1 127.7,223.2 129.1,222.9 130.6,222.2 132.0,222.6 133.5,221.7 134.9,222.3 136.4,221.9 137.9,221.6 139.3,221.7 140.8,220.8 142.2,220.5 143.7,220.8 145.1,220.8 146.6,220.7 148.1,220.3 149.5,219.9 151.0,219.5 152.4,219.7 153.9,219.4 155.3,219.4 156.8,219.1 158.2,218.7 159.7,218.6 161.2,218.0 162.6,217.9 164.1,218.2 165.5,218.0 167.0,217.1 168.4,217.1 169.9,217.1 171.4,217.1 172.8,216.7 174.3,216.6 175.7,217.0 177.2,216.2 178.6,216.1 180.1,216.4 181.6,215.7 183.0,215.7 184.5,215.2 185.9,215.7 187.4,215.5 188.8,214.8 190.3,215.0 191.7,214.4 193.2,214.9 194.7,214.4 196.1,214.0 197.6,214.5 199.0,213.9 200.5,213.8 201.9,214.1 203.4,213.3 204.9,213.3 206.3,213.6 207.8,212.9 209.2,213.2 210.7,212.8 212.1,213.0 213.6,212.5 215.0,212.7 216.5,212.1 218.0,211.7 219.4,211.7 220.9,211.7 222.3,211.7 223.8,211.4 225.2,211.1 226.7,210.9 228.2,211.0 229.6,211.1 231.1,210.9 232.5,210.1 234.0,210.2 235.4,210.5 236.9,210.2 238.3,209.8 239.8,210.0 241.3,209.3 242.7,209.7 244.2,210.0 245.6,209.2 247.1,208.9 248.5,209.3 250.0,209.1" stroke="#1414ee"/>
<path d="M68.5,243.3L68.6,240.6 69.0,237.9 69.5,235.2 69.7,235.1 69.8,234.6 70.0,234.0 70.1,233.3 70.3,233.4 70.5,233.0 70.7,232.3 70.9,231.8 71.1,231.1 71.3,230.5 71.5,230.4 71.5,230.5 71.8,229.6 72.0,229.9 72.3,228.9 72.5,228.5 72.8,227.9 73.1,228.3 73.4,227.6 73.7,227.3 74.0,226.7 74.3,225.7 74.6,225.5 75.0,225.3 75.3,224.5 75.6,224.9 75.7,224.3 76.0,223.7 76.4,223.9 76.8,222.8 77.1,223.1 77.5,222.3 78.0,221.9 78.4,221.3 78.8,221.0 79.2,220.4 79.7,219.8 80.1,220.1 80.6,219.2 81.0,219.2 81.5,218.3 82.0,218.6 82.5,218.1 83.0,217.6 83.5,217.2 83.7,216.8 84.0,216.7 84.6,215.8 85.1,215.7 85.6,215.6 86.2,214.6 86.8,214.9 87.3,214.4 87.9,213.6 88.5,213.2 89.1,212.8 89.7,212.4 90.3,212.5 91.0,211.6 91.6,210.9 92.3,210.5 92.9,210.7 93.6,210.5 94.2,209.7 94.9,209.3 95.6,208.9 96.3,208.7 97.0,207.9 97.7,207.8 98.5,207.4 99.0,207.2 99.2,206.6 99.9,206.2 100.7,206.0 101.5,206.1 102.2,205.2 103.0,205.0 103.8,204.4 104.6,203.8 105.4,203.4 106.2,203.7 107.0,203.3 107.9,202.5 108.7,202.4 109.6,202.0 110.4,201.8 111.3,201.5 112.2,200.6 113.0,200.7 113.9,200.3 114.8,199.6 115.8,199.5 116.7,198.7 117.6,198.3 118.5,197.8 119.5,197.9 120.4,196.9 121.4,196.4 122.4,196.7 123.4,196.3 124.3,195.7 124.4,196.0 125.4,194.9 126.4,194.7 127.4,194.4 128.4,194.1 129.5,193.5 130.5,193.0 131.6,192.9 132.6,193.1 133.7,192.8 134.8,192.2 135.9,191.6 137.0,191.0 138.1,191.3 139.2,190.6 140.3,190.4 141.4,189.4 142.6,189.2 143.7,189.4 144.9,189.0 146.1,188.7 147.2,188.1 148.4,187.6 149.6,187.4 150.8,187.2 152.1,186.4 153.3,186.2 154.5,185.6 155.7,185.7 157.0,184.6 158.3,184.8 159.5,184.7 160.8,183.4 162.1,183.6 163.4,183.2 164.7,183.0 166.0,182.3 167.3,181.6 168.6,181.3 170.0,181.4 170.0,181.4 171.3,180.2 172.7,179.8 174.1,179.3 175.4,178.8 176.8,178.7 178.2,177.9 179.6,178.1 181.0,177.4 182.4,176.4 183.9,176.2 185.3,175.5 186.7,175.2 188.2,174.4 189.7,173.9 191.1,173.4 192.6,173.1 194.1,172.9 195.6,172.3 197.1,171.4 198.6,171.6 200.0,171.3 200.2,171.2 201.7,170.8 203.2,169.7 204.8,169.7 206.3,169.0 207.9,169.2 209.5,168.3 211.1,168.4 212.7,167.6 214.3,167.7 215.9,167.0 217.5,166.4 219.2,166.3 220.8,165.9 222.4,166.1 224.1,165.2 225.8,165.0 227.4,164.7 229.1,164.7 230.8,163.6 232.5,163.7 234.2,163.2 236.0,163.1 237.7,162.9 239.4,162.0 240.0,162.2 241.2,161.8 242.9,161.4 244.7,160.6 246.5,160.9 248.3,160.7 250.0,159.8 251.8,159.4 253.7,159.7 255.5,158.5 257.3,158.1 259.1,157.7 261.0,158.0 262.8,157.5 264.7,156.8 266.6,156.5 268.5,155.5 270.0,155.6 270.3,155.4 272.2,154.8 274.2,154.0 276.1,153.3 278.0,152.5 279.9,151.6 281.7,151.4 281.9,151.2 283.8,151.2 285.8,151.0 287.8,150.6 289.7,149.9 291.7,149.2 293.4,148.6 293.7,148.4 295.5,145.7 295.7,146.2 297.2,148.6 297.7,148.5 299.5,145.4 299.8,145.8 301.2,149.0 301.8,148.3 303.5,145.1 303.8,145.6 305.2,148.6 305.9,147.9 307.5,144.9 307.9,145.4 309.2,147.8 310.0,147.3 311.5,144.3 312.1,145.4 313.2,147.9 314.2,146.7 315.5,144.5 316.3,145.0 317.2,147.0 318.4,145.5 319.5,143.7 320.5,143.0 322.6,142.6 322.6,142.2 324.7,141.9 326.9,142.1 328.0,141.7 329.0,141.2 331.2,140.4 333.1,140.9 333.3,140.7 335.5,141.0 336.0,141.4 337.7,144.1" stroke="#1414ee"/>
<path d="M68.5,243.3L68.6,240.7 68.7,238.2 69.0,235.7 69.1,235.6 69.2,234.8 69.3,233.6 69.4,233.6 69.6,232.7 69.7,231.6 69.9,231.8 70.0,230.8 70.1,230.6 70.2,230.1 70.4,229.6 70.6,228.6 70.8,228.5 71.0,228.0 71.2,227.1 71.5,226.8 71.7,226.0 71.9,225.7 72.0,225.0 72.2,224.6 72.5,224.1 72.8,223.2 73.1,223.4 73.3,222.5 73.7,221.4 74.0,221.3 74.3,220.5 74.6,219.8 75.0,219.2 75.3,218.8 75.7,217.9 75.8,218.1 76.1,217.7 76.4,216.8 76.8,216.9 77.2,215.6 77.6,215.2 78.0,215.2 78.5,214.1 78.9,213.7 79.4,213.3 79.8,212.6 80.3,212.1 80.7,211.5 81.2,211.0 81.7,210.0 82.2,210.1 82.7,209.1 83.2,208.4 83.3,208.7 83.8,208.5 84.3,207.8 84.9,207.1 85.4,206.5 86.0,205.7 86.6,205.6 87.2,204.8 87.7,204.0 88.4,203.5 89.0,202.9 89.6,202.9 90.2,202.5 90.9,201.9 91.5,200.8 92.2,200.2 92.8,200.4 93.5,199.4 94.2,198.6 94.9,198.5 95.5,198.1 95.6,197.9 96.3,197.3 97.1,196.6 97.8,196.3 98.5,195.7 99.3,195.4 100.0,194.6 100.8,194.0 101.6,194.1 102.4,192.7 103.2,192.8 104.0,192.0 104.8,191.8 105.6,191.2 106.5,190.5 107.3,190.0 108.2,189.2 109.0,188.4 109.9,188.6 110.8,187.6 111.7,187.0 112.6,187.1 113.5,186.3 114.4,185.3 115.4,185.2 116.3,184.4 117.3,184.5 117.5,183.8 118.2,184.0 119.2,183.2 120.2,182.2 121.1,181.9 122.1,181.9 123.1,181.1 124.2,180.1 125.2,179.7 126.2,179.1 127.3,178.4 128.3,178.3 129.4,177.9 130.4,176.9 131.5,176.7 132.6,176.4 133.7,176.0 134.8,174.8 135.0,174.6 135.9,175.0 137.1,173.9 138.2,173.3 139.3,173.4 140.5,172.4 141.6,172.4 142.8,171.9 144.0,171.1 145.2,170.8 146.4,170.1 147.6,170.2 148.8,169.2 150.1,168.7 151.3,168.8 152.5,167.8 153.8,167.4 155.1,167.0 156.3,166.1 157.6,165.8 158.9,165.7 160.0,165.4 160.2,164.8 161.5,164.3 162.9,163.4 164.2,163.1 165.5,162.4 166.9,161.9 168.2,161.1 169.6,160.4 171.0,160.3 172.4,159.5 173.8,158.5 175.2,157.6 176.6,156.9 178.0,156.3 179.4,155.7 180.9,155.6 182.1,155.0 182.3,154.6 183.8,154.7 185.3,153.9 186.8,153.4 188.2,153.1 189.7,152.0 191.2,152.0 192.8,151.6 194.3,151.0 195.8,149.7 197.4,150.0 198.2,149.8 198.9,148.8 200.5,149.0 202.1,148.5 203.7,147.3 205.2,147.5 206.8,147.1 208.5,146.6 210.1,145.6 211.7,146.0 213.3,144.7 215.0,144.3 216.7,144.7 218.3,143.9 220.0,143.2 221.7,143.0 222.3,143.1 223.4,142.6 225.1,142.8 226.8,142.3 228.5,141.7 230.2,141.4 232.0,140.9 233.7,141.4 235.5,140.6 237.3,140.9 239.0,140.2 240.8,140.0 242.6,139.4 244.4,139.4 246.3,138.8 248.1,138.8 249.9,138.7 251.8,138.6 253.6,137.7 255.5,137.3 257.4,137.4 259.2,136.4 260.0,136.3 261.1,136.3 263.0,135.6 264.9,135.5 266.9,134.0 268.8,134.1 270.0,133.5 270.7,133.0 272.7,132.7 274.6,132.9 276.6,131.9 278.6,131.9 280.5,131.4 281.7,131.8 282.5,132.0 284.5,132.1 286.6,131.8 288.6,132.0 290.6,132.4 292.2,132.4 292.6,131.9 294.5,129.6 294.7,130.3 296.8,129.0 298.8,128.5 300.9,127.6 303.0,127.2 305.0,126.8 305.1,127.1 307.2,126.2 309.3,126.1 311.4,124.8 313.6,124.6 315.7,123.4 316.7,123.5 317.8,123.7 320.0,122.4 322.2,121.9 324.4,121.2 324.9,121.9 326.6,121.4 328.7,121.0 331.0,121.1 333.2,120.7 335.4,121.2" stroke="#000"/>
<path d="M68.5,243.3L68.6,239.4 68.6,238.7 68.6,237.7 68.7,237.1 68.8,236.4 68.9,234.8 69.2,233.2 69.5,231.2 70.0,229.0 70.8,227.5 72.0,224.4 73.9,220.6 75.2,219.0 76.7,217.2 78.1,215.7 79.6,213.6 81.1,212.2 82.5,210.8 84.0,209.9 85.4,209.1 86.9,207.8 88.3,206.2 89.8,205.4 91.3,204.1 92.7,203.3 94.2,202.7 95.6,201.5 97.1,200.8 98.5,200.0 100.0,199.4 101.4,199.1 102.9,197.7 104.4,197.4 105.8,196.4 107.3,195.6 108.7,195.0 110.2,194.8 111.6,194.2 113.1,193.5 114.6,193.0 116.0,192.3 117.5,191.2 118.9,190.6 120.4,190.4 121.8,189.8 123.3,189.5 124.8,189.1 126.2,188.4 127.7,188.1 129.1,187.2 130.6,186.7 132.0,186.4 133.5,185.6 134.9,185.4 136.4,185.0 137.9,184.1 139.3,183.5 140.8,183.1 142.2,182.8 143.7,182.3 145.1,181.8 146.6,181.3 148.1,181.2 149.5,180.7 151.0,180.5 152.4,180.1 153.9,178.8 155.3,178.7 156.8,178.7 158.2,178.1 159.7,177.7 161.2,177.0 162.6,176.7 164.1,176.8 165.5,176.2 167.0,176.1 168.4,175.7 169.9,175.4 171.4,174.9 172.8,174.6 174.3,174.2 175.7,173.9 177.2,173.0 178.6,172.7 180.1,172.3 181.6,172.3 183.0,172.2 184.5,171.5 185.9,170.9 187.4,170.3 188.8,170.0 190.3,169.6 191.7,169.3 193.2,168.8 194.7,168.9 196.1,168.5 197.6,168.8 199.0,167.7 200.5,167.3 201.9,167.8 203.4,167.5 204.9,166.8 206.3,166.5 207.8,166.0 209.2,165.8 210.7,165.3 212.1,164.9 213.6,165.4 215.0,165.0 216.5,164.7 218.0,163.7 219.4,163.9 220.9,163.0 222.3,163.4 223.8,162.5 225.2,162.7 226.7,162.0 228.2,162.5 229.6,162.2 231.1,161.4 232.5,161.6 234.0,161.2 235.4,160.3 236.9,160.8 238.3,160.5 239.8,159.6 241.3,159.8 242.7,159.1 244.2,158.6 245.6,158.7 247.1,158.2 248.5,158.6 250.0,158.2" stroke="#e8141e"/>
<path d="M68.5,243.3L68.6,238.8 68.6,238.1 68.6,237.7 68.7,236.2 68.8,235.4 68.9,234.0 69.2,232.0 69.5,230.1 70.0,228.5 70.8,225.6 72.0,223.0 73.9,220.3 75.2,218.3 76.7,215.7 78.2,214.0 79.6,212.6 81.1,211.8 82.6,209.7 84.0,208.7 85.5,207.5 87.0,206.4 88.4,205.8 89.9,204.5 91.3,203.8 92.8,203.2 94.3,202.4 95.7,201.2 97.2,200.8 98.7,199.8 100.1,199.3 101.6,198.0 103.1,197.4 104.5,196.9 106.0,196.6 107.5,195.7 108.9,194.9 110.4,194.0 111.8,193.4 113.3,192.8 114.8,193.0 116.2,192.3 117.7,191.7 119.2,190.8 120.6,190.5 122.1,189.5 123.6,189.2 125.0,188.3 126.5,188.1 128.0,187.4 129.4,186.8 130.9,187.1 132.3,185.8 133.8,186.1 135.3,185.5 136.7,184.4 138.2,184.4 139.7,184.5 141.1,184.0 142.6,183.2 144.1,182.9 145.5,182.5 147.0,181.6 148.5,181.5 149.9,181.1 151.4,180.5 152.8,180.5 154.3,179.8 155.8,179.7 157.2,178.6 158.7,178.6 160.2,177.9 161.6,178.1 163.1,177.9 164.6,177.2 166.0,176.9 167.5,176.6 169.0,175.9 170.4,175.7 171.9,175.5 173.3,175.2 174.8,174.6 176.3,174.4 177.7,173.9 179.2,173.8 180.7,173.6 182.1,172.9 183.6,172.9 185.1,172.8 186.5,172.2 188.0,172.3 189.5,171.3 190.9,171.6 192.4,170.5 193.9,170.4 195.3,170.6 196.8,169.5 198.2,169.8 199.7,169.7 201.2,169.5 202.6,168.9 204.1,168.3 205.6,168.0 207.0,168.0 208.5,167.2 210.0,166.8 211.4,167.4 212.9,166.9 214.4,166.1 215.8,166.1 217.3,165.7 218.7,166.0 220.2,165.2 221.7,165.3 223.1,165.1 224.6,164.4 226.1,164.1 227.5,164.1 229.0,163.7 230.5,163.6 231.9,163.1 233.4,163.3 234.9,162.7 236.3,162.1 237.8,162.5 239.2,162.4 240.7,161.9 242.2,161.5 243.6,161.6 245.1,161.4 246.6,160.3 248.0,160.5 249.5,159.8 251.0,159.9 252.4,159.5 253.9,159.5 255.4,159.5 256.8,159.4 258.3,158.6 259.7,158.1 261.2,158.9 262.7,158.4 264.1,158.0 265.6,157.3 267.1,157.0 268.5,157.7 270.0,157.0" stroke="#1414ee"/>
<path d="M68.5,243.3L68.6,238.8 68.6,238.0 68.6,236.8 68.7,236.1 68.8,235.3 68.9,233.9 69.2,232.3 69.5,230.2 70.0,228.5 70.8,225.8 72.0,222.4 73.9,219.5 75.2,217.1 76.7,216.1 78.2,214.4 79.6,212.3 81.1,210.8 82.6,210.0 84.0,208.2 85.5,207.0 87.0,206.0 88.4,205.1 89.9,204.4 91.4,203.8 92.8,202.1 94.3,202.0 95.7,200.8 97.2,200.3 98.7,199.4 100.1,198.0 101.6,197.8 103.1,196.5 104.5,195.7 106.0,195.4 107.5,195.1 108.9,194.3 110.4,193.3 111.9,193.3 113.3,192.8 114.8,191.5 116.3,191.1 117.7,190.7 119.2,190.4 120.7,189.1 122.1,189.0 123.6,188.9 125.0,188.0 126.5,187.6 128.0,187.2 129.4,186.4 130.9,185.7 132.4,185.5 133.8,185.0 135.3,184.3 136.8,184.4 138.2,183.4 139.7,183.1 141.2,182.9 142.6,182.5 144.1,182.2 145.6,181.5 147.0,180.7 148.5,180.9 150.0,180.5 151.4,179.9 152.9,179.6 154.4,178.9 155.8,178.5 157.3,178.2 158.7,177.4 160.2,177.5 161.7,177.3 163.1,176.3 164.6,176.5 166.1,176.1 167.5,175.1 169.0,174.7 170.5,174.9 171.9,174.2 173.4,173.9 174.9,173.9 176.3,173.6 177.8,173.3 179.3,172.8 180.7,172.2 182.2,171.6 183.7,171.3 185.1,171.1 186.6,171.1 188.0,171.0 189.5,170.2 191.0,170.0 192.4,170.3 193.9,169.4 195.4,169.4 196.8,169.0 198.3,168.7 199.8,168.3 201.2,168.0 202.7,167.9 204.2,167.0 205.6,167.4 207.1,167.2 208.6,166.1 210.0,165.9 211.5,165.7 213.0,165.2 214.4,165.0 215.9,165.2 217.3,164.4 218.8,164.1 220.3,164.7 221.7,163.9 223.2,163.7 224.7,163.4 226.1,163.0 227.6,162.9 229.1,162.3 230.5,162.5 232.0,161.9 233.5,161.5 234.9,161.3 236.4,161.2 237.9,161.5 239.3,160.9 240.8,161.0 242.3,160.2 243.7,159.8 245.2,160.0 246.7,159.3 248.1,159.8 249.6,159.0 251.0,158.6 252.5,158.4 254.0,158.1 255.4,158.5 256.9,158.3 258.4,157.7 259.8,157.1 261.3,156.7 262.8,156.5 264.2,156.5 265.7,156.6 267.2,156.3 268.6,156.3 270.1,156.1 271.6,155.4 273.0,155.5 274.5,155.0 276.0,155.1 277.4,154.3 278.9,154.9 280.3,153.7 281.8,154.1 283.3,153.6 284.7,153.8 286.2,152.9 287.7,153.5 289.1,152.4 290.6,152.9 292.1,152.6 293.5,152.2 295.0,151.7" stroke="#1414ee"/>
<path d="M68.5,243.3L68.6,240.6 69.0,237.9 69.5,235.1 69.7,234.7 69.8,234.3 70.0,234.4 70.1,233.6 70.3,233.3 70.5,232.3 70.7,232.2 70.9,232.1 71.1,231.4 71.3,231.3 71.5,230.8 71.5,230.3 71.8,229.6 72.0,229.8 72.3,228.8 72.5,228.3 72.8,228.5 73.1,228.1 73.4,227.7 73.7,227.4 74.0,226.3 74.3,225.7 74.6,225.3 75.0,225.7 75.3,224.5 75.6,224.2 75.7,224.0 76.0,223.6 76.4,223.1 76.8,223.0 77.2,222.4 77.6,222.1 78.0,222.2 78.4,221.1 78.8,221.3 79.3,220.8 79.7,220.2 80.2,219.8 80.6,219.6 81.1,219.0 81.6,218.3 82.1,218.0 82.6,217.5 83.1,217.2 83.6,217.3 83.7,216.7 84.1,216.1 84.6,216.1 85.2,215.9 85.7,215.2 86.3,215.0 86.9,214.1 87.4,213.6 88.0,213.8 88.6,212.8 89.2,212.7 89.8,212.3 90.4,211.7 91.1,211.2 91.7,210.8 92.4,211.2 93.0,210.6 93.7,210.4 94.4,209.6 95.1,209.6 95.7,209.2 96.4,208.5 97.2,208.1 97.9,207.6 98.6,207.0 99.0,206.9 99.3,207.0 100.1,206.2 100.9,206.4 101.6,205.7 102.4,205.4 103.2,205.2 104.0,204.6 104.8,203.8 105.6,203.5 106.4,202.9 107.2,202.5 108.1,202.9 108.9,202.2 109.8,202.2 110.6,201.6 111.5,200.8 112.4,201.0 113.3,200.6 114.2,199.8 115.1,199.0 116.0,198.9 116.9,198.3 117.9,198.1 118.8,197.5 119.7,197.7 120.7,197.5 121.7,196.5 122.7,196.6 123.7,196.0 124.3,195.7 124.6,195.9 125.7,195.1 126.7,195.1 127.7,194.0 128.7,194.5 129.8,193.4 130.8,192.8 131.9,193.2 133.0,192.7 134.0,192.3 135.1,192.0 136.2,191.2 137.3,190.6 138.4,190.4 139.6,190.6 140.7,190.2 141.8,189.2 143.0,189.0 144.1,188.6 145.3,188.6 146.5,187.4 147.7,187.8 148.9,186.9 150.1,186.8 151.3,186.0 152.5,185.6 153.7,185.9 155.0,185.2 156.2,185.3 157.5,184.8 158.7,184.3 160.0,183.4 161.3,183.4 162.6,183.4 163.9,182.6 165.2,181.9 166.5,181.6 167.8,182.0 169.2,181.6 170.0,180.8 170.5,180.7 171.9,180.7 173.2,180.2 174.6,179.5 176.0,179.9 177.4,179.3 178.8,178.7 180.2,178.0 181.6,178.2 183.0,178.0 184.5,177.2 185.9,176.8 187.4,177.0 188.8,176.9 190.3,176.1 191.8,175.8 193.3,175.7 194.8,175.2 196.3,174.6 197.8,174.4 199.3,174.0 200.9,173.6 202.4,173.2 204.0,173.2 205.5,172.7 207.1,172.9 208.7,172.1 210.0,172.4 210.3,172.2 211.9,171.4 213.5,171.0 215.1,171.0 216.7,170.6 218.3,170.3 220.0,169.6 221.6,169.6 223.3,169.5 224.9,168.9 226.6,168.3 228.3,168.6 230.0,167.7 231.7,168.0 233.4,167.4 235.1,166.5 236.9,166.5 238.6,165.9 240.0,166.3 240.4,165.9 242.1,165.2 243.9,165.7 245.7,165.2 247.4,164.7 249.2,164.4 251.0,163.6 252.9,164.1 254.7,163.2 256.5,163.1 258.3,162.8 260.2,162.4 262.0,161.7 263.9,162.2 265.8,161.6 267.7,161.2 269.6,161.4 270.0,161.3 271.5,161.0 273.4,160.9 275.3,160.1 277.2,159.7 279.2,159.6 281.1,159.6 283.1,159.6 285.0,159.3 287.0,158.9 289.0,158.7 291.0,158.5 293.0,158.2 295.0,157.5 297.0,157.8 299.0,157.4 300.0,157.1 301.0,157.5 303.1,157.5 305.1,156.9 307.2,157.0 309.3,156.8 311.3,156.7 313.4,156.7 315.5,156.4 317.6,155.7 319.8,156.1 321.9,155.7 324.0,155.6 326.2,155.7 328.3,155.1 330.5,155.4 332.6,155.6 334.8,154.7 337.0,155.3" stroke="#1414ee"/>
<path d="M68.5,243.3L68.6,236.8 68.6,236.0 68.6,234.6 68.7,234.2 68.8,233.0 68.9,231.1 69.2,229.4 69.5,227.4 70.0,225.2 70.8,223.0 72.0,220.3 73.9,217.9 75.2,215.5 76.7,213.8 78.2,213.1 79.6,211.8 81.1,209.7 82.5,208.9 84.0,208.5 85.4,206.9 86.9,206.2 88.4,205.5 89.8,204.6 91.3,203.2 92.7,203.1 94.2,202.5 95.7,201.5 97.1,200.7 98.6,200.4 100.0,200.1 101.5,199.4 103.0,198.1 104.4,198.1 105.9,197.3 107.3,197.3 108.8,196.7 110.3,195.8 111.7,195.7 113.2,195.2 114.6,193.9 116.1,193.8 117.5,193.9 119.0,192.7 120.5,192.5 121.9,192.2 123.4,191.6 124.8,191.6 126.3,190.6 127.8,190.6 129.2,190.2 130.7,189.3 132.1,189.7 133.6,189.3 135.1,189.0 136.5,188.0 138.0,188.0 139.4,187.2 140.9,187.5 142.4,187.0 143.8,187.0 145.3,185.9 146.7,185.7 148.2,185.2 149.6,185.7 151.1,185.1 152.6,184.3 154.0,184.6 155.5,184.0 156.9,183.7 158.4,183.8 159.9,183.4 161.3,182.9 162.8,182.4 164.2,182.2 165.7,181.9 167.2,181.5 168.6,181.2 170.1,181.3 171.5,181.4 173.0,180.8 174.5,180.4 175.9,179.7 177.4,180.4 178.8,179.5 180.3,179.2 181.7,179.4 183.2,179.3 184.7,178.3 186.1,178.0 187.6,177.9 189.0,178.5 190.5,177.7 192.0,177.1 193.4,177.4 194.9,177.0 196.3,176.4 197.8,176.1 199.3,176.2 200.7,176.6 202.2,175.8 203.6,176.2 205.1,175.3 206.6,175.1 208.0,174.6 209.5,174.9 210.9,174.3 212.4,174.9 213.8,174.3 215.3,173.5 216.8,173.9 218.2,173.5 219.7,173.5 221.1,173.3 222.6,172.6 224.1,172.8 225.5,172.7 227.0,172.0 228.4,172.6 229.9,172.2 231.4,171.5 232.8,171.2 234.3,171.3 235.7,171.4 237.2,171.2 238.7,170.5 240.1,170.8 241.6,170.5 243.0,170.0 244.5,170.1 245.9,170.1 247.4,170.0 248.9,169.2 250.3,169.0 251.8,169.4 253.2,169.5 254.7,168.9 256.2,169.1 257.6,168.4 259.1,168.0 260.5,168.3 262.0,167.8" stroke="#000"/>
<path d="M68.5,243.3L68.6,241.8 69.0,240.4 69.5,239.4 69.7,238.3 69.8,238.7 70.0,237.9 70.1,238.4 70.3,237.3 70.5,237.8 70.7,237.4 70.9,237.3 71.1,237.2 71.3,236.2 71.5,236.1 71.5,236.4 71.8,235.8 72.0,235.5 72.3,235.2 72.6,235.6 72.8,235.3 73.1,235.0 73.4,234.3 73.7,234.7 74.0,234.1 74.3,233.6 74.7,233.5 75.0,233.3 75.4,232.7 75.6,233.0 75.7,232.7 76.1,232.7 76.5,232.8 76.8,232.3 77.2,231.8 77.6,232.0 78.0,231.9 78.5,231.2 78.9,231.4 79.3,230.3 79.8,230.2 80.2,230.0 80.7,230.5 81.2,230.0 81.7,229.8 82.1,229.2 82.6,229.2 83.2,229.3 83.7,228.4 83.7,228.3 84.2,228.1 84.7,228.2 85.3,228.3 85.8,227.9 86.4,227.5 87.0,227.4 87.6,226.9 88.1,227.3 88.7,226.6 89.4,226.2 90.0,226.1 90.6,226.3 91.2,225.6 91.9,225.9 92.5,225.2 93.2,225.1 93.9,224.5 94.5,225.1 95.2,224.7 95.9,224.2 96.6,223.7 97.4,223.8 98.1,223.5 98.8,223.7 99.0,223.7 99.6,223.4 100.3,222.8 101.1,222.3 101.9,222.9 102.6,222.7 103.4,221.8 104.2,221.9 105.0,221.6 105.8,221.9 106.7,220.8 107.5,220.6 108.3,221.1 109.2,220.6 110.1,220.3 110.9,220.4 111.8,220.0 112.7,219.9 113.6,219.3 114.5,218.9 115.4,218.6 116.3,218.7 117.3,218.8 118.2,218.3 119.2,218.1 120.1,218.1 121.1,218.0 122.1,217.7 123.1,217.2 124.1,217.4 124.3,217.4 125.1,217.3 126.1,217.1 127.1,216.1 128.1,216.5 129.2,216.0 130.2,215.8 131.3,215.7 132.4,215.2 133.4,215.1 134.5,215.5 135.6,214.7 136.7,215.1 137.8,214.7 139.0,214.1 140.1,213.9 141.2,214.0 142.4,213.9 143.5,213.3 144.7,212.9 145.9,212.8 147.1,213.2 148.3,212.9 149.5,212.1 150.7,212.6 151.9,212.1 153.1,211.7 154.4,212.0 155.6,211.1 156.9,210.9 158.2,210.9 159.4,211.0 160.7,210.6 162.0,210.3 163.3,210.5 164.6,209.8 166.0,210.0 167.3,209.0 168.6,209.5 170.0,208.7 170.0,209.1 171.3,209.1 172.7,208.7 174.1,208.4 175.5,208.1 176.8,208.0 178.3,207.5 179.7,207.1 181.1,207.1 182.5,206.9 184.0,206.2 185.4,206.4 186.9,206.0 188.3,205.5 189.8,205.7 191.3,205.5 192.8,204.9 194.3,205.0 195.8,204.9 197.3,204.3 198.8,203.7 200.0,203.4 200.4,203.2 201.9,203.0 203.5,203.3 205.0,202.1 206.6,202.5 208.2,201.9 209.8,201.6 211.4,200.6 213.0,200.7 214.6,199.9 216.2,199.9 217.9,199.5 219.5,199.0 221.2,198.4 222.8,198.3 224.5,197.3 226.2,196.8 227.9,197.0 229.6,195.9 231.3,195.8 233.0,195.4 234.8,195.5 236.5,194.6 238.2,194.5 240.0,194.1 241.7,193.7 243.5,193.4 243.8,193.4 245.3,193.2 247.1,192.8 248.9,192.5 250.7,192.7 252.5,192.5 254.3,191.6 256.2,191.9 258.0,190.9 259.9,190.9 261.7,191.2 263.6,190.3 265.5,190.6 267.4,190.7 269.3,190.2 270.0,190.0 271.2,189.5 273.1,189.7 275.0,189.5 277.0,189.7 278.9,189.1 280.9,189.4 282.8,188.9 284.8,188.9 286.8,188.9 288.8,188.2 290.8,188.8 292.8,188.3 294.8,188.3 296.8,188.7 298.8,188.3 300.0,188.2 300.9,187.9 302.9,187.9 305.0,188.4 307.1,188.2 309.1,188.3 311.2,188.4 313.3,188.4 315.4,188.0 317.6,188.5 319.7,188.2 321.8,187.9 324.0,188.5 326.1,188.6 328.3,187.9 330.4,188.5 332.6,188.4 334.8,188.0" stroke="#000"/>
<path d="M68.5,243.3L68.6,238.4 68.6,237.6 68.6,236.4 68.7,235.8 68.8,234.2 68.9,233.5 69.2,231.8 69.5,229.8 70.0,228.0 70.8,225.6 72.0,222.3 73.9,219.7 75.2,217.9 76.7,216.1 78.2,214.9 79.6,213.3 81.1,211.6 82.5,210.3 84.0,209.1 85.5,208.7 86.9,207.6 88.4,206.6 89.9,205.5 91.3,204.7 92.8,203.6 94.2,203.1 95.7,202.0 97.2,201.7 98.6,201.0 100.1,200.3 101.6,199.3 103.0,198.5 104.5,198.1 105.9,197.8 107.4,197.0 108.9,196.7 110.3,195.8 111.8,195.2 113.3,195.2 114.7,193.9 116.2,193.4 117.7,193.3 119.1,192.8 120.6,192.1 122.0,191.8 123.5,191.2 125.0,190.9 126.4,190.7 127.9,190.2 129.4,189.6 130.8,189.0 132.3,189.0 133.7,188.1 135.2,187.8 136.7,187.7 138.1,187.1 139.6,186.4 141.1,186.3 142.5,185.8 144.0,185.7 145.4,185.1 146.9,184.6 148.4,184.7 149.8,183.9 151.3,183.4 152.8,183.6 154.2,183.2 155.7,182.1 157.1,181.6 158.6,182.1 160.1,181.8 161.5,180.9 163.0,180.5 164.5,180.6 165.9,180.5 167.4,179.5 168.8,179.4 170.3,179.3 171.8,178.5 173.2,178.4 174.7,177.8 176.2,177.9 177.6,177.3 179.1,176.9 180.5,176.9 182.0,176.3 183.5,176.0 184.9,175.8 186.4,175.7 187.9,175.4 189.3,175.5 190.8,174.9 192.2,174.5 193.7,174.1 195.2,174.0 196.6,174.1 198.1,173.3 199.6,173.3 201.0,173.4 202.5,173.2 203.9,172.5 205.4,172.7 206.9,172.2 208.3,171.5 209.8,171.1 211.3,171.0 212.7,171.3 214.2,170.7 215.6,170.9 217.1,170.8 218.6,170.5 220.0,169.8 221.5,169.1 223.0,169.1 224.4,168.8 225.9,169.0 227.3,168.8 228.8,168.8 230.3,168.4 231.7,168.4 233.2,167.8 234.7,167.5 236.1,167.6 237.6,166.8 239.0,167.1 240.5,166.8 242.0,166.7 243.4,165.7 244.9,165.6 246.4,166.2 247.8,165.1 249.3,165.2 250.7,165.2 252.2,164.8 253.7,165.0 255.1,164.9 256.6,164.1 258.1,163.6 259.5,164.2 261.0,163.5 262.4,163.1 263.9,162.8 265.4,162.5 266.8,162.9 268.3,162.4 269.8,162.4 271.2,162.6 272.7,162.0 274.1,162.2 275.6,161.2 277.1,161.6 278.5,161.4 280.0,161.5" stroke="#e8141e"/>
<path d="M68.5,243.3L68.6,242.2 68.6,242.0 68.6,241.7 68.7,241.6 68.8,241.1 68.9,240.7 69.2,240.4 69.5,239.5 70.0,238.1 70.8,237.2 72.0,236.2 73.9,234.7 75.2,234.3 76.7,233.2 78.1,232.2 79.6,231.3 81.0,230.6 82.5,230.3 83.9,230.0 85.4,228.7 86.8,228.5 88.3,227.8 89.7,227.6 91.2,226.8 92.6,226.1 94.1,226.3 95.5,225.5 96.9,225.4 98.4,225.3 99.8,224.5 101.3,224.5 102.7,224.0 104.2,222.9 105.6,222.7 107.1,222.8 108.5,222.2 110.0,221.4 111.4,221.9 112.9,221.4 114.3,220.9 115.8,220.6 117.2,220.0 118.7,220.1 120.1,219.4 121.6,219.6 123.0,219.6 124.5,218.6 125.9,218.3 127.4,218.3 128.8,218.4 130.2,217.4 131.7,217.4 133.1,217.3 134.6,216.6 136.0,216.2 137.5,216.7 138.9,216.3 140.4,216.0 141.8,215.7 143.3,215.0 144.7,215.2 146.2,214.9 147.6,214.7 149.1,214.1 150.5,213.8 152.0,214.0 153.4,214.0 154.9,213.7 156.3,213.8 157.8,213.0 159.2,212.8 160.6,212.5 162.1,212.5 163.5,212.4 165.0,212.4 166.4,211.4 167.9,211.7 169.3,211.7 170.8,211.5 172.2,210.9 173.7,210.4 175.1,210.4 176.6,210.5 178.0,210.5 179.5,209.7 180.9,209.6 182.4,209.5 183.8,209.0 185.3,209.7 186.7,208.9 188.2,208.8 189.6,209.1 191.0,208.8 192.5,208.1 193.9,208.6 195.4,208.3 196.8,207.8 198.3,207.5 199.7,207.7 201.2,207.6 202.6,207.2 204.1,206.7 205.5,207.1 207.0,206.7 208.4,206.8 209.9,206.5 211.3,206.2 212.8,206.2 214.2,205.6 215.7,205.6 217.1,205.6 218.6,205.1 220.0,204.6" stroke="#1414ee"/>
<path d="M68.5,243.3L68.6,240.9 69.0,238.6 69.5,236.2 69.7,236.2 69.8,235.5 70.0,235.0 70.1,234.8 70.3,234.4 70.5,234.0 70.7,233.6 70.9,233.0 71.1,232.6 71.3,232.7 71.5,231.9 71.5,232.2 71.8,232.0 72.0,231.7 72.3,231.3 72.6,230.3 72.8,229.9 73.1,230.0 73.4,229.5 73.7,228.8 74.0,228.8 74.3,228.6 74.7,228.2 75.0,227.3 75.3,227.0 75.6,226.4 75.7,227.2 76.1,226.2 76.4,226.3 76.8,225.7 77.2,225.4 77.6,225.0 78.0,224.9 78.4,224.3 78.9,223.7 79.3,223.1 79.7,223.1 80.2,223.1 80.7,222.1 81.1,222.2 81.6,221.8 82.1,221.0 82.6,220.7 83.1,220.8 83.6,220.2 83.7,220.1 84.1,219.9 84.7,219.2 85.2,219.4 85.8,218.9 86.3,218.5 86.9,218.0 87.5,218.0 88.1,217.7 88.7,217.1 89.3,216.3 89.9,216.0 90.5,215.7 91.2,215.3 91.8,215.4 92.5,215.0 93.1,214.3 93.8,214.6 94.5,214.0 95.1,213.8 95.8,213.5 96.5,213.0 97.3,212.5 98.0,212.6 98.7,211.5 99.0,211.9 99.5,211.8 100.2,211.1 101.0,211.1 101.7,210.2 102.5,210.0 103.3,209.6 104.1,209.3 104.9,209.3 105.7,208.4 106.5,208.2 107.4,208.4 108.2,207.5 109.1,207.0 109.9,207.5 110.8,206.7 111.7,205.9 112.5,206.1 113.4,205.3 114.3,205.0 115.2,205.2 116.2,204.8 117.1,204.3 118.0,204.0 119.0,203.7 119.9,203.3 120.9,202.6 121.9,202.9 122.9,202.5 123.9,201.9 124.3,201.7 124.9,201.7 125.9,201.3 126.9,200.9 127.9,201.0 129.0,200.6 130.0,199.6 131.1,199.3 132.1,199.5 133.2,199.3 134.3,198.8 135.4,198.0 136.5,197.5 137.6,197.8 138.7,197.5 139.8,197.0 141.0,196.7 142.1,196.5 143.3,195.8 144.4,195.8 145.6,194.9 146.8,194.4 148.0,194.7 149.2,194.2 150.4,194.0 151.6,193.1 152.8,192.9 154.1,192.8 155.3,192.0 156.6,191.9 157.8,191.9 159.1,191.9 160.4,191.4 161.7,190.8 163.0,190.5 164.3,190.3 165.6,190.2 166.9,190.1 168.2,188.9 169.6,189.5 170.0,189.3 170.9,188.4 172.3,188.3 173.7,188.1 175.0,187.7 176.4,187.4 177.8,187.1 179.2,187.3 180.6,186.8 182.1,186.3 183.5,186.7 184.9,186.4 186.4,185.7 187.8,185.9 189.3,185.6 190.8,185.2 192.3,184.6 193.8,184.9 195.3,184.8 196.8,184.6 198.3,184.5 199.8,183.6 200.0,184.3 201.4,183.4 202.9,183.4 204.5,183.4 206.1,183.4 207.6,183.1 209.2,183.3 210.8,183.0 212.4,183.0 214.0,182.7 215.7,182.3 217.3,181.8 218.9,182.2 220.6,182.3 222.2,181.5 223.9,182.1 225.6,181.1 227.3,181.3 229.0,181.5 230.7,181.4 232.4,181.1 234.1,180.7 235.8,180.6 237.6,180.4 239.3,180.7 240.0,180.1 241.1,180.1 242.8,180.5 244.6,180.1 246.4,179.6 248.2,179.9 250.0,180.2 251.8,179.7 253.6,179.4 255.4,179.2 257.3,179.4 259.1,179.0 261.0,178.9 262.8,178.6 264.7,179.0 266.6,179.0 268.5,178.6 270.0,178.6 270.4,178.3 272.3,178.8 274.2,178.0 276.1,178.4 278.1,177.4 280.0,177.8 282.0,177.8 283.9,177.3 285.9,176.8 287.9,176.6 289.9,177.1 291.9,176.9 293.9,176.1 295.9,176.1 297.9,176.3 299.9,176.1 300.0,175.4 302.0,175.7 304.0,175.3 306.1,175.0 308.2,175.4 310.2,175.0 312.3,174.7 314.4,175.0 316.5,174.5 318.7,174.3 320.8,174.2 322.9,174.0 325.1,174.4 327.2,173.8 329.4,174.2 331.5,173.9 333.7,173.6 335.9,173.9" stroke="#000"/>
<path d="M68.5,243.3L68.6,242.0 69.0,240.8 69.5,239.6 69.7,239.5 69.8,239.3 70.0,238.6 70.1,238.3 70.3,238.4 70.5,238.1 70.7,238.4 70.9,238.1 71.1,237.8 71.3,237.6 71.5,237.4 71.5,236.9 71.7,237.0 72.0,236.6 72.2,237.0 72.5,236.1 72.7,236.6 73.0,235.7 73.3,236.0 73.6,235.5 73.9,235.4 74.2,235.6 74.5,234.6 74.9,234.5 75.2,235.1 75.5,234.5 75.6,234.1 75.9,234.7 76.2,234.5 76.6,233.6 77.0,233.6 77.4,233.2 77.8,233.1 78.2,233.2 78.6,232.6 79.0,232.9 79.4,232.1 79.9,232.1 80.3,232.4 80.8,231.9 81.3,231.7 81.7,231.7 82.2,231.4 82.7,231.1 83.2,230.6 83.7,231.0 83.7,231.2 84.2,231.1 84.8,230.6 85.3,230.1 85.8,229.9 86.4,230.1 87.0,229.9 87.5,229.2 88.1,229.1 88.7,229.0 89.3,229.0 89.9,229.0 90.5,228.6 91.1,228.0 91.7,228.5 92.4,228.0 93.0,227.9 93.7,227.4 94.4,227.4 95.0,227.2 95.7,227.3 96.4,226.6 97.1,226.8 97.8,226.3 98.5,226.5 99.0,225.8 99.2,226.0 100.0,225.9 100.7,225.9 101.5,225.2 102.2,225.4 103.0,225.0 103.8,224.9 104.6,224.9 105.4,225.1 106.2,224.5 107.0,224.8 107.8,223.9 108.6,224.4 109.5,223.7 110.3,223.4 111.2,223.7 112.0,223.7 112.9,222.7 113.8,222.7 114.7,223.0 115.6,222.4 116.5,222.2 117.4,221.8 118.3,221.6 119.2,222.0 120.2,222.1 121.1,221.9 122.1,221.3 123.1,220.7 124.0,220.8 124.3,221.2 125.0,221.1 126.0,220.7 127.0,220.2 128.0,220.3 129.0,220.1 130.1,220.0 131.1,219.5 132.1,220.0 133.2,219.8 134.3,218.9 135.3,218.9 136.4,219.2 137.5,218.5 138.6,219.0 139.7,218.4 140.8,218.4 141.9,218.3 143.1,217.6 144.2,217.5 145.4,217.3 146.5,217.6 147.7,217.4 148.9,216.7 150.0,217.2 151.2,216.6 152.4,216.3 153.6,216.3 154.9,216.6 156.1,216.1 157.3,216.0 158.6,216.0 159.8,215.9 161.1,215.5 162.4,215.0 163.6,215.0 164.9,215.1 166.2,214.8 167.5,214.4 168.8,214.0 170.0,213.9 170.2,214.2 171.5,213.8 172.8,213.1 174.2,213.6 175.5,213.5 176.9,213.2 178.3,213.1 179.6,212.9 181.0,212.3 182.4,212.3 183.8,211.7 185.3,211.3 186.7,211.3 188.1,211.0 189.6,211.4 191.0,210.9 192.5,210.6 193.9,210.4 195.4,209.7 196.9,209.9 198.4,209.8 199.9,209.3 200.0,209.2 201.4,209.1 202.9,208.8 204.5,208.9 206.0,208.2 207.6,208.0 209.1,208.0 210.7,208.1 212.2,208.0 213.8,207.7 215.4,207.7 217.0,207.0 218.6,206.5 220.2,206.7 221.9,206.4 223.5,206.0 225.1,206.2 226.8,205.7 228.4,205.4 230.1,205.2 231.8,205.6 233.5,204.5 235.2,204.6 236.9,204.3 238.6,204.0 240.0,204.0 240.3,203.8 242.0,204.2 243.8,203.6 245.5,203.5 247.3,202.8 249.0,202.8 250.8,202.7 252.6,202.6 254.4,201.8 256.2,201.8 258.0,201.8 259.8,201.6 261.6,200.8 263.4,200.8 265.3,200.7 267.1,200.1 269.0,200.1 270.9,199.8 272.7,199.9 274.6,199.3 276.5,199.1 278.4,198.6 280.3,198.7 282.2,198.1 284.2,198.1 286.1,197.8 288.0,197.5 288.2,197.4 290.0,197.3 292.0,197.4 293.9,197.0 295.9,196.6 297.9,197.1 299.9,196.5 301.9,196.9 303.9,196.4 305.9,196.1 308.0,196.3 310.0,196.2 312.1,195.5 314.1,195.2 316.2,195.5 318.2,195.6 320.3,195.2 322.4,195.2 324.5,194.8 326.6,194.8 328.7,194.4 330.9,194.4 333.0,194.2 335.2,194.1 337.3,194.0 339.5,194.3 341.6,193.6 343.8,193.5 346.0,193.5" stroke="#1414ee"/>
<path d="M68.5,243.3L68.6,242.2 69.0,241.1 69.5,240.1 69.7,240.0 69.8,240.1 70.0,239.5 70.1,239.4 70.3,239.3 70.5,238.7 70.7,238.8 70.9,238.8 71.1,238.7 71.3,237.9 71.5,237.9 71.5,237.7 71.7,238.2 72.0,237.9 72.2,237.2 72.5,237.8 72.7,237.7 73.0,237.2 73.3,237.0 73.6,236.4 73.9,236.1 74.2,236.4 74.5,235.8 74.9,235.8 75.2,235.6 75.5,235.3 75.6,235.6 75.9,235.5 76.2,235.7 76.6,235.2 77.0,235.1 77.4,234.8 77.8,234.8 78.2,234.5 78.6,234.1 79.0,234.6 79.4,234.5 79.9,234.2 80.3,233.9 80.8,233.3 81.3,233.1 81.7,233.0 82.2,232.6 82.7,233.1 83.2,232.6 83.7,232.8 83.7,232.4 84.2,232.8 84.8,232.5 85.3,231.6 85.8,231.6 86.4,232.1 87.0,231.5 87.5,231.8 88.1,231.1 88.7,230.7 89.3,231.0 89.9,231.0 90.5,230.4 91.1,230.1 91.7,230.1 92.4,230.5 93.0,230.2 93.7,229.4 94.4,229.4 95.0,229.1 95.7,228.9 96.4,229.4 97.1,228.7 97.8,228.9 98.5,228.6 99.0,228.3 99.2,228.7 100.0,228.0 100.7,228.3 101.5,227.7 102.2,227.8 103.0,227.5 103.8,227.4 104.6,227.8 105.4,227.5 106.2,226.9 107.0,227.3 107.8,226.5 108.6,226.5 109.5,226.8 110.3,226.5 111.2,225.8 112.0,226.5 112.9,225.6 113.8,225.5 114.7,225.8 115.6,225.2 116.5,225.1 117.4,224.7 118.3,224.6 119.2,224.9 120.2,224.4 121.1,224.6 122.1,224.2 123.1,224.1 124.0,224.4 124.3,224.0 125.0,223.9 126.0,224.0 127.0,223.3 128.0,223.1 129.0,223.6 130.1,223.4 131.1,222.8 132.1,222.6 133.2,222.9 134.3,223.0 135.3,222.2 136.4,222.7 137.5,222.5 138.6,222.1 139.7,221.8 140.8,221.4 141.9,221.2 143.1,221.9 144.2,221.1 145.4,221.4 146.5,220.9 147.7,221.2 148.9,220.9 150.0,220.5 151.2,220.2 152.4,220.5 153.6,219.8 154.9,219.8 156.1,219.9 157.3,220.1 158.6,219.7 159.8,219.2 161.1,219.6 162.4,218.8 163.6,218.5 164.9,218.5 166.2,218.5 167.5,218.0 168.8,217.9 170.0,217.9 170.2,218.0 171.5,217.4 172.8,217.4 174.2,217.7 175.5,217.5 176.9,217.0 178.3,216.8 179.6,216.4 181.0,215.7 182.4,215.4 183.8,215.1 185.3,215.6 186.7,215.1 188.1,215.1 189.6,214.0 191.0,214.2 192.5,213.8 193.9,213.8 195.4,213.1 196.9,213.5 198.4,212.4 199.9,212.6 200.0,212.7 201.4,212.6 202.9,212.2 204.5,211.9 206.0,211.8 207.6,211.6 209.1,210.9 210.7,210.9 212.2,210.9 213.8,210.6 215.4,210.0 217.0,210.1 218.6,209.9 220.2,209.4 221.9,209.2 223.5,208.7 225.1,208.7 226.8,208.4 228.4,207.7 230.1,208.0 231.8,208.1 233.5,207.7 235.2,207.4 236.9,206.8 238.6,206.9 240.0,206.6 240.3,206.4 242.0,206.5 243.8,205.6 245.5,205.9 247.3,205.0 249.0,205.3 250.8,204.9 252.6,204.4 254.4,204.5 256.2,204.1 258.0,203.9 259.8,204.0 261.6,203.2 263.4,202.7 265.3,202.8 267.1,203.0 269.0,202.4 270.9,202.3 272.0,202.9 272.7,202.6 274.6,202.3 276.5,202.7 278.4,202.1 280.3,202.3 282.2,201.8 284.2,202.0 286.1,202.2 288.0,202.3 290.0,202.2 292.0,201.7 293.9,201.8 295.9,201.5 297.9,201.3 299.9,201.5 301.9,201.8 303.9,201.7 305.9,201.6 308.0,201.7 310.0,201.1 312.1,200.9 314.1,201.2 316.2,201.0 318.2,200.9 320.3,201.0 322.4,201.2 324.5,201.0 326.6,200.8 328.7,201.3 330.9,201.4 333.0,200.9 335.2,200.6 337.3,200.5 339.5,201.2 341.6,200.5 343.8,201.1 346.0,201.0" stroke="#1414ee"/>
<path d="M68.5,243.3L68.6,240.3 68.6,239.7 68.6,238.8 68.7,238.2 68.8,237.3 68.9,235.7 69.2,234.8 69.5,233.6 70.0,231.2 70.8,228.8 72.0,226.3 73.9,222.7 75.2,220.5 76.7,219.1 78.2,216.6 79.6,215.8 81.1,214.3 82.5,212.6 84.0,211.2 85.5,209.5 86.9,208.5 88.4,207.9 89.8,206.8 91.3,205.7 92.8,204.2 94.2,203.8 95.7,203.1 97.1,202.1 98.6,201.0 100.1,200.0 101.5,199.1 103.0,198.0 104.4,197.1 105.9,197.3 107.3,196.0 108.8,195.2 110.3,194.6 111.7,194.4 113.2,193.6 114.6,192.7 116.1,192.1 117.6,191.2 119.0,190.7 120.5,190.2 121.9,189.5 123.4,188.2 124.9,188.0 126.3,187.6 127.8,187.1 129.2,186.7 130.7,186.0 132.2,185.1 133.6,184.6 135.1,184.4 136.5,183.8 138.0,182.9 139.5,182.4 140.9,182.1 142.4,181.4 143.8,181.1 145.3,180.8 146.8,179.8 148.2,179.5 149.7,178.6 151.1,178.8 152.6,178.2 154.1,177.6 155.5,176.9 157.0,176.2 158.4,175.9 159.9,175.4 161.4,175.5 162.8,174.8 164.3,174.7 165.7,174.3 167.2,173.2 168.7,172.7 170.1,172.8 171.6,172.1 173.0,172.1 174.5,171.3 176.0,170.6 177.4,170.9 178.9,170.3 180.3,170.0 181.8,169.5 183.3,169.3 184.7,168.8 186.2,167.6 187.6,167.3 189.1,166.8 190.6,167.2 192.0,166.5 193.5,166.4 194.9,165.4 196.4,165.1 197.9,165.4 199.3,164.8 200.8,163.9 202.2,163.5 203.7,163.9 205.2,163.5 206.6,162.5 208.1,163.0 209.5,161.8 211.0,161.7 212.4,161.6 213.9,161.4 215.4,161.1 216.8,159.9 218.3,159.8 219.7,159.4 221.2,159.0 222.7,159.2 224.1,158.3 225.6,158.3 227.0,158.2 228.5,158.0 230.0,157.4 231.4,157.3 232.9,156.9 234.3,156.1 235.8,155.8 237.3,156.2 238.7,155.2 240.2,155.6 241.6,154.4 243.1,154.3 244.6,154.4 246.0,153.6 247.5,154.1 248.9,153.4 250.4,153.4 251.9,152.8 253.3,152.7 254.8,151.7 256.2,151.6 257.7,151.2 259.2,151.1 260.6,150.5 262.1,150.2 263.5,150.3 265.0,150.4" stroke="#1414ee"/>
<path d="M68.5,243.3L68.6,240.4 69.0,237.6 69.5,235.3 69.7,234.6 69.8,234.2 70.0,233.8 70.1,232.7 70.3,232.6 70.5,232.4 70.7,231.8 70.9,231.1 71.1,230.3 71.3,230.0 71.5,230.1 71.5,229.3 71.8,229.0 72.0,229.1 72.3,228.2 72.5,227.5 72.8,227.1 73.1,227.2 73.4,226.2 73.7,225.8 74.0,225.5 74.3,225.2 74.7,224.5 75.0,223.7 75.3,223.7 75.6,222.8 75.7,222.8 76.1,222.4 76.4,222.4 76.8,221.6 77.2,221.5 77.6,220.6 78.0,220.1 78.4,219.6 78.9,219.7 79.3,219.4 79.7,218.4 80.2,218.0 80.7,217.4 81.1,217.5 81.6,216.7 82.1,216.1 82.6,216.2 83.1,215.7 83.6,215.1 83.7,214.8 84.1,214.8 84.7,214.3 85.2,213.8 85.8,213.1 86.3,213.4 86.9,212.9 87.5,212.3 88.1,212.1 88.7,211.3 89.3,210.7 89.9,210.1 90.5,210.1 91.1,209.6 91.8,209.1 92.4,209.1 93.1,208.6 93.8,207.5 94.4,207.8 95.1,206.5 95.8,206.7 96.5,206.0 97.2,205.9 98.0,205.7 98.7,204.9 99.0,205.0 99.4,204.1 100.2,204.2 100.9,203.3 101.7,203.2 102.5,202.6 103.3,202.0 104.1,202.2 104.9,201.2 105.7,200.9 106.5,200.3 107.3,200.4 108.2,199.7 109.0,199.0 109.9,198.6 110.7,198.4 111.6,198.2 112.5,197.3 113.4,196.9 114.3,197.1 115.2,196.6 116.1,195.8 117.1,195.5 118.0,195.0 118.9,194.7 119.9,194.4 120.9,193.8 121.8,193.4 122.8,193.0 123.8,192.7 124.3,192.7 124.8,192.8 125.8,192.2 126.8,191.6 127.9,190.8 128.9,190.5 130.0,190.5 131.0,189.9 132.1,189.9 133.2,189.5 134.2,188.6 135.3,188.2 136.4,187.8 137.5,187.7 138.6,186.8 139.8,186.5 140.9,186.6 142.1,185.8 143.2,185.9 144.4,185.0 145.5,185.0 146.7,184.2 147.9,183.5 149.1,183.5 150.3,182.8 151.5,183.0 152.8,182.4 154.0,181.9 155.2,181.8 156.5,181.1 157.7,181.1 159.0,180.5 160.3,179.6 161.6,179.3 162.9,179.4 164.2,178.3 165.5,178.7 166.8,177.5 168.2,177.8 169.5,177.2 170.0,176.9 170.9,176.8 172.2,176.5 173.6,175.9 175.0,175.4 176.3,174.8 177.7,175.0 179.1,174.8 180.6,174.0 182.0,174.1 183.4,173.3 184.9,172.8 186.3,172.9 187.8,172.6 189.2,171.5 190.7,171.8 192.2,171.0 193.7,171.0 195.2,170.2 196.7,170.5 198.2,169.5 199.8,169.1 201.3,168.6 202.8,168.3 204.4,167.9 206.0,168.2 207.5,167.1 209.1,166.8 210.0,166.8 210.7,166.5 212.3,166.7 213.9,165.7 215.5,165.9 217.2,165.3 218.8,164.8 220.5,164.5 222.1,164.4 223.8,163.8 225.5,163.6 227.1,163.2 228.8,163.0 230.5,162.9 232.2,162.2 234.0,162.1 235.7,161.9 237.4,161.2 239.2,161.4 240.0,160.6 240.9,160.8 242.7,160.4 244.5,160.0 246.2,160.2 248.0,160.1 249.8,159.5 251.6,159.2 253.5,159.4 255.3,159.3 257.1,158.7 259.0,158.4 260.8,158.3 262.7,158.1 264.6,157.8 266.4,157.5 268.3,157.4 270.0,157.2 270.2,157.1 272.1,156.8 274.0,156.4 276.0,156.0 277.9,156.0 279.8,155.6 281.8,155.5 283.8,155.0 285.7,155.5 287.7,154.5 289.7,155.0 291.7,154.5 293.7,154.5 295.7,154.3 297.7,153.4 299.8,153.3 300.0,153.9 301.8,153.5 303.9,152.7 305.9,152.7 308.0,152.3 310.1,152.3 312.2,151.9 314.3,151.7 316.4,151.5 318.5,151.7 320.6,151.7 322.7,151.3 324.9,151.3 327.0,151.1 329.2,150.4 331.3,150.7 333.5,150.4 335.7,150.1" stroke="#000"/>
<path d="M68.5,243.3L68.6,238.0 68.6,237.2 68.6,236.7 68.7,235.2 68.8,234.4 68.9,233.2 69.2,231.0 69.5,229.7 70.0,227.2 70.8,224.7 72.0,222.2 73.9,219.4 75.2,217.0 76.7,215.8 78.2,213.9 79.6,212.3 81.1,211.3 82.6,210.1 84.0,209.1 85.5,208.4 87.0,207.5 88.5,205.9 89.9,205.8 91.4,204.6 92.9,204.1 94.3,203.2 95.8,202.1 97.3,201.1 98.7,201.1 100.2,200.5 101.7,199.5 103.1,198.4 104.6,198.5 106.1,197.8 107.5,197.3 109.0,196.9 110.5,196.3 112.0,195.5 113.4,194.7 114.9,194.3 116.4,193.7 117.8,193.5 119.3,192.9 120.8,192.6 122.2,191.8 123.7,191.4 125.2,191.4 126.6,190.7 128.1,190.4 129.6,189.8 131.1,188.8 132.5,188.7 134.0,188.1 135.5,187.7 136.9,187.2 138.4,186.7 139.9,186.7 141.3,186.7 142.8,186.4 144.3,186.1 145.7,185.3 147.2,184.4 148.7,184.2 150.1,183.7 151.6,184.2 153.1,183.3 154.6,183.4 156.0,182.8 157.5,182.6 159.0,182.5 160.4,182.0 161.9,181.1 163.4,181.3 164.8,180.7 166.3,181.0 167.8,180.0 169.2,179.7 170.7,180.1 172.2,179.2 173.6,178.6 175.1,179.0 176.6,178.9 178.1,178.1 179.5,177.5 181.0,178.0 182.5,177.1 183.9,176.8 185.4,176.3 186.9,176.9 188.3,175.9 189.8,175.5 191.3,175.5 192.7,175.6 194.2,175.6 195.7,174.6 197.2,174.7 198.6,174.1 200.1,174.5 201.6,173.8 203.0,173.8 204.5,173.7 206.0,173.1 207.4,172.8 208.9,172.1 210.4,172.0 211.8,172.3 213.3,172.1 214.8,171.7 216.2,170.9 217.7,171.4 219.2,171.3 220.7,171.1 222.1,170.7 223.6,170.4 225.1,169.9 226.5,169.6 228.0,169.3 229.5,169.5 230.9,169.0 232.4,169.2 233.9,168.4 235.3,168.2 236.8,167.8 238.3,167.8 239.7,168.1 241.2,167.9 242.7,167.8 244.2,166.7 245.6,167.2 247.1,166.8 248.6,166.4 250.0,166.8 251.5,166.3 253.0,165.7 254.4,166.1 255.9,165.5 257.4,165.3 258.8,165.1 260.3,164.9 261.8,164.3 263.2,164.9 264.7,164.1 266.2,164.1 267.7,163.6 269.1,163.8 270.6,163.1 272.1,162.9 273.5,162.9 275.0,163.4" stroke="#000"/>
<path d="M68.5,243.3L68.6,241.6 68.6,241.2 68.6,241.2 68.7,240.1 68.8,240.3 68.9,239.2 69.2,238.3 69.5,237.5 70.0,235.9 70.8,234.6 72.0,233.2 73.9,231.1 75.2,230.4 76.7,229.0 78.2,228.0 79.6,226.9 81.1,226.0 82.6,225.7 84.0,225.1 85.5,223.9 87.0,223.6 88.4,222.5 89.9,222.3 91.4,221.2 92.8,221.0 94.3,220.2 95.8,220.2 97.2,219.5 98.7,218.4 100.2,217.9 101.6,217.8 103.1,217.0 104.6,216.6 106.0,216.9 107.5,216.4 109.0,215.1 110.4,214.7 111.9,214.9 113.4,214.8 114.8,214.3 116.3,213.7 117.8,213.4 119.2,212.8 120.7,212.4 122.2,212.4 123.6,211.3 125.1,211.5 126.6,211.2 128.0,210.3 129.5,210.6 131.0,209.7 132.4,210.1 133.9,209.6 135.4,209.0 136.8,208.8 138.3,208.9 139.8,208.0 141.2,207.5 142.7,207.7 144.2,207.6 145.6,206.6 147.1,206.9 148.6,206.2 150.0,206.3 151.5,205.8 153.0,206.0 154.4,205.3 155.9,205.4 157.4,205.2 158.8,204.1 160.3,204.6 161.8,204.2 163.2,203.3 164.7,203.5 166.2,202.9 167.6,202.4 169.1,202.2 170.6,202.2 172.0,202.5 173.5,201.5 174.9,201.7 176.4,201.8 177.9,201.0 179.3,201.2 180.8,200.8 182.3,200.7 183.7,200.2 185.2,200.5 186.7,199.7 188.1,199.3 189.6,199.0 191.1,198.9 192.5,198.5 194.0,199.1 195.5,198.1 196.9,198.6 198.4,198.3 199.9,197.8 201.3,197.1 202.8,197.1 204.3,197.6 205.7,196.9 207.2,197.0 208.7,196.2 210.1,195.9 211.6,196.0 213.1,195.8 214.5,195.4 216.0,195.7 217.5,195.4 218.9,195.2 220.4,194.8 221.9,194.7 223.3,194.3 224.8,194.4 226.3,194.1 227.7,194.1 229.2,194.2 230.7,193.4 232.1,193.5 233.6,192.8 235.1,193.4 236.5,192.9 238.0,192.8 239.5,192.5 240.9,191.9 242.4,192.5 243.9,191.4 245.3,191.4 246.8,191.6 248.3,191.8 249.7,191.4 251.2,191.4 252.7,190.7 254.1,190.7 255.6,190.6 257.1,190.1 258.5,189.8 260.0,189.8" stroke="#1414ee"/>
<path d="M68.5,243.3L68.5,240.8 68.7,238.4 68.9,236.3 68.9,235.1 69.0,234.4 69.1,234.0 69.3,232.8 69.4,232.7 69.5,232.0 69.6,231.1 69.7,231.2 69.8,230.4 70.0,229.8 70.2,229.4 70.3,228.8 70.5,227.6 70.7,227.3 70.9,226.5 71.0,226.5 71.2,225.2 71.4,225.3 71.6,224.0 71.9,223.3 72.1,223.0 72.4,222.6 72.7,222.0 73.0,220.8 73.3,220.6 73.6,219.2 73.9,219.4 73.9,218.8 74.2,218.4 74.5,217.4 74.9,216.7 75.2,216.0 75.6,215.9 76.0,215.2 76.3,214.8 76.7,214.2 77.1,213.2 77.5,212.9 77.9,211.7 78.4,211.7 78.8,210.5 79.3,210.5 79.3,210.0 79.7,209.4 80.2,208.9 80.6,207.8 81.1,207.2 81.6,207.0 82.1,206.6 82.6,205.3 83.2,205.1 83.7,204.4 84.2,204.2 84.8,203.7 85.3,202.3 85.9,202.1 86.5,201.1 87.1,201.1 87.7,200.6 88.2,199.9 88.3,199.7 88.9,198.6 89.5,198.0 90.2,197.6 90.8,196.8 91.5,196.2 92.1,196.3 92.8,195.2 93.5,195.1 94.2,194.3 94.9,193.7 95.6,193.2 96.3,192.4 97.0,191.5 97.8,191.0 98.5,190.3 99.3,189.4 100.0,188.8 100.8,188.7 101.6,188.1 102.4,188.0 103.2,187.1 104.0,186.7 104.4,186.2 104.8,186.0 105.7,185.7 106.5,184.5 107.4,184.0 108.2,183.9 109.1,183.4 110.0,183.0 110.9,182.3 111.8,181.9 112.7,181.4 113.6,181.4 114.5,180.4 115.5,179.9 116.4,180.0 117.4,179.2 117.5,178.8 118.3,179.1 119.3,178.1 120.3,177.9 121.3,177.1 122.3,176.3 123.3,175.6 124.3,174.7 125.4,174.8 126.4,173.6 127.4,172.8 128.5,172.0 129.6,171.8 130.7,171.5 131.7,170.3 132.8,170.0 134.0,169.3 135.0,168.5 135.1,168.6 136.2,168.1 137.3,167.6 138.5,166.2 139.6,165.7 140.8,165.1 142.0,164.4 143.1,163.9 144.3,163.5 145.5,162.7 146.8,162.4 148.0,161.4 149.2,161.7 150.0,161.2 150.4,160.5 151.7,160.1 153.0,160.1 154.2,159.1 155.5,159.2 156.8,158.1 158.1,158.2 159.4,157.8 160.7,157.3 162.0,157.1 163.4,156.8 164.7,156.5 166.1,155.2 167.4,155.2 168.8,154.5 170.2,154.7 171.6,153.8 173.0,153.4 174.1,153.0 174.4,152.9 175.8,152.7 177.2,152.3 178.7,152.3 180.1,152.3 181.6,151.8 183.0,151.2 184.5,150.8 186.0,151.0 187.5,150.2 189.0,150.2 190.5,150.2 192.0,149.5 193.6,149.0 195.1,148.2 196.6,148.0 198.2,148.2 198.2,147.4 199.8,146.9 201.4,146.8 202.9,146.0 204.5,145.6 206.2,144.6 207.8,143.9 209.4,143.2 211.0,142.8 212.7,142.1 214.3,140.8 216.0,140.7 217.7,140.0 219.4,139.1 221.0,138.2 222.3,137.8 222.8,138.5 224.5,137.2 226.2,136.7 227.9,136.3 229.7,136.7 231.4,136.4 233.2,135.7 234.9,135.4 235.0,135.3 236.7,134.2 238.5,134.1 240.3,133.9 242.1,133.2 243.1,132.8 243.9,131.9 245.7,128.7 246.0,128.9 247.6,132.1 248.0,132.1 249.4,130.1 251.0,128.4 251.3,129.0 253.0,130.8 253.1,130.6 255.0,131.0 256.9,130.1 258.8,128.9 260.0,128.5 260.7,128.0 262.6,127.4 264.5,126.0 266.4,125.1 268.4,124.3 270.0,123.1 270.3,122.7 272.3,121.4 274.3,120.7 276.2,119.2 278.2,118.7 279.3,117.8 280.2,117.2 282.2,115.8 284.2,114.8 286.3,113.2 288.3,111.9 290.3,110.4 292.4,109.1 293.4,108.6 294.4,108.3 296.5,107.8 298.6,106.9 300.7,105.6 302.8,104.7 304.9,104.1 305.0,104.5 307.0,103.3 309.1,102.8 311.3,101.8 313.4,101.7 315.6,100.8 316.7,100.2 317.7,100.4 319.9,99.1 322.1,98.0 324.3,97.6 326.5,97.1 328.4,96.3 328.7,96.5 330.9,95.7 333.2,95.1 335.4,95.1" stroke="#000"/>
<path d="M68.5,243.3L68.6,242.2 68.9,241.1 69.3,240.2 69.5,240.1 69.6,239.8 69.8,239.7 70.0,238.9 70.2,239.3 70.4,238.7 70.6,238.6 70.8,238.4 70.9,238.5 71.1,237.7 71.3,237.6 71.6,237.7 71.9,237.3 72.2,237.2 72.5,236.7 72.8,237.0 73.2,235.9 73.5,236.3 73.9,235.8 74.2,235.2 74.2,235.8 74.6,235.0 75.0,234.9 75.4,234.8 75.8,234.4 76.3,234.2 76.7,233.9 77.2,234.4 77.6,233.5 78.1,233.3 78.6,233.0 79.1,233.6 79.6,233.0 80.2,233.0 80.7,233.0 80.7,232.5 81.2,232.2 81.8,232.0 82.4,231.7 83.0,231.8 83.6,231.9 84.2,231.2 84.8,231.3 85.5,231.2 86.1,230.9 86.8,230.5 87.5,230.2 88.2,229.6 88.9,229.6 89.6,229.9 90.3,229.3 91.0,229.3 91.8,228.7 92.6,228.8 93.0,228.3 93.3,228.7 94.1,228.6 94.9,227.6 95.7,228.0 96.6,227.3 97.4,227.8 98.2,226.9 99.1,226.7 100.0,227.2 100.9,226.7 101.8,226.0 102.7,226.2 103.6,226.3 104.5,225.5 105.5,225.8 106.4,225.2 107.4,225.1 108.4,224.9 109.4,224.3 110.4,224.4 111.4,224.4 112.5,224.2 113.3,224.0 113.5,223.6 114.6,223.8 115.6,223.3 116.7,223.7 117.8,222.7 118.9,223.1 120.1,222.3 121.2,222.5 122.3,222.0 123.5,221.9 124.7,221.9 125.8,221.8 127.0,220.8 128.2,221.4 129.5,220.9 130.7,220.2 131.9,220.5 133.2,220.4 134.5,219.8 135.7,220.1 137.0,219.2 138.3,219.3 139.7,218.9 141.0,219.3 142.3,218.6 143.7,218.4 145.1,218.9 146.4,218.2 147.8,218.2 149.2,218.2 150.0,217.7 150.6,218.2 152.1,218.0 153.5,217.7 155.0,217.9 156.4,217.9 157.9,217.1 159.4,217.8 160.9,217.3 162.4,217.4 163.9,217.2 165.5,217.4 167.0,217.2 168.6,216.6 170.2,216.4 171.8,216.6 173.4,216.4 175.0,216.3 176.6,216.5 178.2,216.4 179.9,216.2 181.6,216.5 183.2,215.9 184.9,216.1 186.6,216.0 188.3,216.1 190.1,216.3 191.8,215.9 193.5,215.3 195.3,215.8 197.1,215.5 198.9,215.5 200.0,215.6 200.7,215.2 202.5,215.7 204.3,215.2 206.1,215.1 208.0,215.2 209.8,214.7 211.7,214.9 213.6,215.5 215.5,214.7 217.4,214.8 219.3,215.1 221.2,214.8 223.2,214.9 225.2,215.0 227.1,214.9 229.1,214.5 231.1,214.3 233.1,214.0 235.1,214.5 237.2,213.9 239.2,214.0 241.3,213.6 243.3,214.0 244.8,213.7 245.4,213.3 247.5,213.4 249.6,212.5 251.7,212.3 253.9,211.7 256.0,211.5" stroke="#1414ee"/>
<path d="M68.5,243.3L68.6,241.9 69.0,240.6 69.5,239.0 69.7,239.3 69.8,239.0 70.0,239.1 70.1,238.2 70.3,238.0 70.5,238.2 70.7,237.9 70.8,237.4 71.1,237.5 71.3,237.0 71.5,237.1 71.5,236.5 71.7,236.4 72.0,236.8 72.2,236.1 72.5,235.8 72.7,236.1 73.0,235.7 73.3,235.1 73.6,235.2 73.9,235.1 74.2,234.4 74.5,234.7 74.8,234.0 75.2,234.0 75.5,233.5 75.6,233.6 75.9,234.1 76.2,233.4 76.6,233.7 77.0,233.0 77.4,233.0 77.8,233.0 78.2,232.6 78.6,231.9 79.0,232.1 79.4,231.9 79.9,231.3 80.3,231.1 80.8,231.5 81.2,231.0 81.7,230.5 82.2,230.6 82.7,230.1 83.2,230.5 83.7,230.0 83.7,229.6 84.2,230.1 84.7,229.2 85.2,229.2 85.8,228.8 86.3,229.2 86.9,228.4 87.5,228.6 88.0,228.0 88.6,228.2 89.2,228.2 89.8,227.8 90.4,227.6 91.0,227.4 91.7,227.1 92.3,227.1 92.9,226.4 93.6,226.6 94.3,226.2 94.9,226.5 95.6,226.4 96.3,225.4 97.0,225.3 97.7,225.6 98.4,225.3 99.0,224.7 99.1,225.2 99.9,225.2 100.6,224.6 101.3,224.3 102.1,224.3 102.9,224.5 103.6,223.7 104.4,223.5 105.2,223.2 106.0,223.4 106.8,223.1 107.6,222.7 108.5,222.6 109.3,222.1 110.1,222.2 111.0,222.6 111.9,222.0 112.7,221.6 113.6,222.0 114.5,221.3 115.4,221.0 116.3,220.6 117.2,220.5 118.1,220.3 119.0,220.2 120.0,220.6 120.9,219.8 121.9,219.6 122.8,219.8 123.8,219.9 124.3,219.2 124.8,219.5 125.8,219.0 126.8,219.0 127.8,218.8 128.8,218.9 129.8,218.6 130.9,218.2 131.9,218.3 132.9,217.7 134.0,217.5 135.1,217.9 136.1,217.3 137.2,217.3 138.3,216.8 139.4,217.1 140.5,216.7 141.6,216.2 142.8,216.6 143.9,216.0 145.1,215.7 146.2,215.4 147.4,215.1 148.5,215.0 149.7,215.3 150.9,214.6 152.1,214.5 153.3,214.5 154.5,214.4 155.7,214.1 157.0,214.3 158.2,213.6 159.5,213.5 160.7,213.4 162.0,212.9 163.2,212.8 164.5,212.5 165.8,212.9 167.1,212.1 168.4,212.4 169.7,211.8 170.0,212.1 171.1,212.0 172.4,211.5 173.7,211.8 175.1,211.3 176.4,211.0 177.8,210.3 179.2,210.4 180.6,210.1 182.0,210.0 183.4,210.2 184.8,209.9 186.2,208.9 187.6,209.2 189.1,209.2 190.5,208.7 192.0,208.0 193.4,208.5 194.9,207.9 196.4,208.1 197.9,207.8 199.4,207.6 200.0,207.6 200.9,206.7 202.4,207.1 203.9,206.5 205.4,206.2 207.0,206.2 208.5,206.2 210.1,205.5 211.6,205.7 213.2,205.9 214.8,205.4 216.4,205.3 218.0,204.9 219.6,205.3 221.2,204.5 222.8,204.7 224.5,204.5 226.1,203.7 227.8,204.5 229.4,203.6 231.1,204.1 232.8,203.8 234.5,203.6 236.2,203.3 237.9,202.7 239.6,202.5 240.0,202.4 241.3,202.7 243.0,201.7 244.8,201.5 246.5,202.0 248.3,201.6 250.0,201.2 251.8,201.1 253.6,200.4 255.4,200.4 257.2,199.8 259.0,199.9 260.8,198.8 262.6,198.8 264.5,198.6 266.3,198.5 268.1,197.8 270.0,197.7 271.9,197.7 273.7,196.8 275.6,196.3 277.5,195.8 279.4,196.3 281.3,195.6 283.3,195.2 285.2,195.0 287.1,194.3 288.2,194.2 289.1,194.1 291.0,193.9 293.0,194.2 294.9,193.5 296.9,193.1 298.9,193.6 300.9,193.2 302.9,192.5 304.9,192.8 306.9,192.5 309.0,192.1 311.0,191.8 313.1,191.0 315.1,190.3 315.5,190.6 317.2,188.8 318.0,188.4 319.3,189.4 320.5,191.1 321.3,190.7 323.4,187.7 323.5,187.9 325.5,190.7 326.0,191.2 327.6,188.9 329.0,187.6 329.8,188.6 331.5,190.6 331.9,190.4 334.0,187.8 334.5,187.1 336.2,190.0 337.0,190.3 338.3,189.5 340.0,187.2 340.5,187.1 342.5,190.0 342.6,190.1 344.8,187.5 345.0,187.6 347.0,188.7" stroke="#1414ee"/>
<path d="M68.5,243.3L68.5,243.0 68.6,242.7 68.6,242.2 68.7,242.5 68.7,242.3 68.8,242.3 68.8,241.6 68.9,241.6 69.0,241.4 69.1,241.3 69.2,241.6 69.3,240.9 69.3,241.3 69.4,240.8 69.6,240.8 69.7,240.8 69.9,241.0 70.0,240.6 70.2,240.0 70.2,240.2 70.4,239.9 70.6,240.5 70.8,240.3 71.0,240.1 71.3,240.0 71.5,239.8 71.7,239.9 72.0,239.6 72.0,239.1 72.3,239.5 72.5,239.0 72.8,239.1 73.1,238.8 73.4,238.6 73.7,238.4 74.1,238.3 74.4,238.1 74.7,237.8 74.8,238.4 75.1,238.3 75.5,238.3 75.8,237.9 76.2,237.7 76.6,237.7 77.0,237.0 77.4,237.4 77.8,237.0 78.3,236.7 78.7,236.6 79.2,236.7 79.6,236.4 80.0,236.5 80.1,236.6 80.6,236.3 81.0,235.9 81.5,236.2 82.1,235.8 82.6,235.7 83.1,235.6 83.6,235.6 84.2,235.3 84.7,235.7 85.3,235.9 85.9,235.3 86.5,235.5 87.1,235.6 87.7,234.7 88.3,234.7 88.9,235.2 89.5,235.1 90.2,234.9 90.8,234.4 91.5,234.5 92.2,234.8 92.9,234.7 93.5,234.6 94.3,233.9 95.0,234.4 95.7,233.9 96.4,234.1 97.2,233.5 97.9,234.2 98.7,233.8 99.4,233.8 100.0,233.2 100.2,233.6 101.0,233.4 101.8,233.4 102.6,233.1 103.4,233.3 104.3,232.9 105.1,232.7 105.9,232.5 106.8,232.9 107.7,232.3 108.5,232.3 109.4,232.0 110.3,232.5 111.2,232.3 112.1,232.2 113.1,231.6 114.0,231.9 115.0,231.7 115.9,231.4 116.9,231.2 117.8,232.0 118.8,231.1 119.8,231.2 120.8,231.0 121.8,231.2 122.9,230.7 123.9,230.9 124.9,230.7 126.0,231.0 127.0,230.2 128.1,230.4 129.2,230.4 130.0,230.7 130.3,230.3 131.4,230.1 132.5,230.2 133.6,229.7 134.7,229.3 135.9,229.6 137.0,229.9 138.2,229.6 139.3,229.0 140.5,229.2 141.7,229.2 142.9,228.6 144.1,228.7 145.3,228.4 146.6,228.1 147.8,228.0 149.0,227.8 150.3,227.8 151.6,227.3 152.8,227.5 154.1,227.1 155.4,227.5 156.7,227.2 158.0,226.6 159.3,227.1 160.7,226.4 162.0,226.6 163.4,226.5 164.7,226.2 166.1,226.0 167.5,226.0 168.0,225.7 168.9,226.2 170.3,225.4 171.7,226.0 173.1,225.3 174.5,225.3 176.0,225.2 177.4,224.8 178.9,224.8 180.4,224.9 181.8,224.8 183.3,225.1 184.8,225.1 186.3,224.1 187.8,224.5 189.4,224.0 190.9,224.5 192.4,223.9 194.0,224.3 195.6,223.9 197.1,223.4 198.7,223.2 200.0,223.3 200.3,223.8 201.9,223.0 203.5,223.2 205.2,223.0 206.8,222.9 208.4,223.2 210.1,222.5 211.8,222.7 212.0,222.6 213.4,222.6 215.1,221.7 216.0,222.0 216.8,221.8 218.5,222.9 219.0,223.0 220.2,223.0 221.9,222.4 223.0,221.5 223.7,221.6 225.4,222.7 227.0,223.5 227.1,223.2 228.9,222.3 230.7,222.1 231.0,221.5 232.5,221.7 234.2,222.5 235.0,222.6 236.0,222.9 237.8,221.6 238.0,222.1 239.7,222.6 241.5,223.4 243.0,223.6 243.3,223.2 245.2,222.4 247.0,221.9 247.0,221.8 248.9,222.0 250.8,223.1 251.0,222.5 252.7,222.4 254.6,222.3 256.0,221.6 256.5,221.4 258.4,222.4 260.0,222.4 260.3,221.9 262.2,221.7 264.2,221.4 266.0,221.1 266.1,221.7 268.1,220.9 270.0,221.3 270.1,221.3 272.0,220.8 274.0,221.1 276.0,220.8 278.0,220.4 280.1,220.0 282.1,220.0 284.1,220.3 286.2,219.8 288.2,219.3 290.3,219.3 292.4,219.2 294.5,218.8 296.6,218.9 298.7,218.2 300.0,218.8 300.8,218.1 302.9,217.8 305.1,217.9 307.2,217.2 309.4,217.3 311.5,216.6 313.7,216.3 315.9,216.3 318.1,215.5 320.3,215.8 321.4,215.7 322.5,217.1 324.0,219.9 324.7,219.1 327.0,219.8 329.2,219.2 331.5,219.7 333.7,219.1 336.0,218.9 338.3,219.1" stroke="#e8141e"/>
<path d="M68.5,243.3L68.6,237.5 68.6,236.7 68.6,235.8 68.7,234.3 68.8,233.8 68.9,232.4 69.2,230.3 69.5,228.6 70.0,226.0 70.8,223.6 72.0,220.9 73.9,218.1 75.2,215.8 76.7,214.8 78.2,212.3 79.6,211.0 81.1,209.6 82.6,209.1 84.1,207.6 85.5,206.6 87.0,205.5 88.5,204.9 89.9,203.7 91.4,202.7 92.9,202.1 94.4,201.2 95.8,200.3 97.3,200.3 98.8,199.4 100.2,198.7 101.7,198.3 103.2,197.2 104.7,196.5 106.1,196.0 107.6,195.4 109.1,195.1 110.5,193.9 112.0,193.8 113.5,193.3 115.0,192.6 116.4,191.8 117.9,192.0 119.4,190.8 120.8,190.9 122.3,190.0 123.8,189.4 125.2,189.1 126.7,188.5 128.2,188.2 129.7,188.3 131.1,187.9 132.6,187.1 134.1,187.0 135.5,186.4 137.0,186.1 138.5,186.1 140.0,185.1 141.4,185.3 142.9,184.7 144.4,184.4 145.8,183.3 147.3,183.0 148.8,182.6 150.3,182.6 151.7,182.8 153.2,182.4 154.7,182.1 156.1,181.0 157.6,181.3 159.1,181.0 160.6,180.7 162.0,180.4 163.5,179.4 165.0,179.1 166.4,179.4 167.9,179.1 169.4,178.9 170.8,178.2 172.3,178.3 173.8,177.3 175.3,177.8 176.7,177.4 178.2,176.6 179.7,176.1 181.1,176.3 182.6,176.1 184.1,175.5 185.6,174.9 187.0,174.9 188.5,175.2 190.0,174.2 191.4,174.7 192.9,173.8 194.4,173.5 195.9,173.1 197.3,173.7 198.8,173.4 200.3,172.6 201.7,172.1 203.2,172.4 204.7,172.4 206.2,171.3 207.6,171.7 209.1,171.6 210.6,171.0 212.0,170.9 213.5,170.9 215.0,170.1 216.5,169.9 217.9,170.0 219.4,169.7 220.9,169.4 222.3,169.0 223.8,169.4 225.3,168.5 226.7,168.7 228.2,168.7 229.7,168.0 231.2,167.4 232.6,167.3 234.1,167.0 235.6,166.8 237.0,166.6 238.5,166.6 240.0,166.4 241.5,166.3 242.9,166.3 244.4,166.1 245.9,165.9 247.3,165.4 248.8,165.5 250.3,165.2 251.8,164.5 253.2,164.7 254.7,164.3 256.2,164.5 257.6,164.3 259.1,163.6 260.6,163.6 262.1,163.5 263.5,163.1 265.0,162.7 266.5,162.5 267.9,163.2 269.4,162.8 270.9,162.3 272.3,162.4 273.8,161.8 275.3,162.0 276.8,162.1 278.2,161.7 279.7,161.2 281.2,161.6 282.6,161.3 284.1,160.3 285.6,160.4 287.1,160.3 288.5,160.0 290.0,160.1" stroke="#000"/>
<path d="M68.5,243.3L68.6,241.6 69.0,239.9 69.5,238.2 69.7,238.0 69.8,237.7 70.0,237.4 70.1,237.1 70.3,237.0 70.5,236.4 70.7,236.4 70.9,235.6 71.1,235.6 71.3,235.3 71.5,234.9 71.5,235.4 71.8,234.7 72.0,234.9 72.3,234.8 72.6,233.9 72.8,234.2 73.1,233.8 73.4,233.4 73.7,232.6 74.0,232.7 74.3,232.5 74.7,232.0 75.0,231.6 75.3,231.5 75.6,231.2 75.7,231.6 76.1,230.9 76.4,230.7 76.8,230.7 77.2,230.7 77.6,229.8 78.0,229.3 78.4,229.9 78.9,229.5 79.3,229.2 79.7,228.7 80.2,228.2 80.7,227.9 81.1,227.7 81.6,227.6 82.1,227.0 82.6,227.3 83.1,227.1 83.6,226.2 83.7,226.9 84.1,226.3 84.7,226.5 85.2,225.8 85.8,225.8 86.3,225.3 86.9,225.2 87.5,224.8 88.1,224.1 88.7,224.0 89.3,223.8 89.9,223.7 90.5,223.4 91.2,223.3 91.8,223.2 92.5,222.7 93.1,222.4 93.8,222.3 94.5,222.4 95.1,222.0 95.8,221.7 96.5,221.6 97.3,220.8 98.0,220.4 98.7,220.2 99.0,220.1 99.5,219.8 100.2,220.1 101.0,220.1 101.7,219.2 102.5,219.4 103.3,219.4 104.1,219.0 104.9,218.2 105.7,218.4 106.5,217.8 107.4,217.5 108.2,217.1 109.1,217.3 109.9,217.4 110.8,216.4 111.7,216.2 112.5,216.2 113.4,215.6 114.3,215.8 115.2,215.8 116.2,215.3 117.1,214.7 118.0,214.4 119.0,214.3 119.9,214.5 120.9,214.5 121.9,213.9 122.9,213.3 123.9,213.1 124.3,213.2 124.9,212.8 125.9,212.6 126.9,212.6 127.9,212.7 129.0,211.9 130.0,212.3 131.1,212.0 132.1,211.4 133.2,211.0 134.3,210.7 135.4,210.9 136.5,210.8 137.6,210.6 138.7,209.8 139.8,209.8 141.0,209.2 142.1,209.2 143.3,208.9 144.4,208.6 145.6,208.3 146.8,208.9 148.0,208.0 149.2,208.0 150.4,207.7 151.6,207.5 152.8,207.3 154.1,207.0 155.3,206.8 156.6,206.2 157.8,206.4 159.1,206.2 160.4,206.0 161.7,205.4 163.0,205.3 164.3,205.4 165.6,205.0 166.9,204.2 168.2,204.2 169.6,203.8 170.0,204.2 170.9,203.7 172.3,203.5 173.7,203.1 175.0,203.0 176.4,203.0 177.8,202.6 179.2,202.0 180.6,201.9 182.1,201.8 183.5,201.1 184.9,201.5 186.4,200.5 187.8,200.8 189.3,200.1 190.8,200.5 192.3,200.0 193.8,199.3 195.3,199.3 196.8,199.4 198.3,199.1 199.8,198.7 200.0,198.6 201.4,198.5 202.9,198.4 204.5,197.8 206.1,197.6 207.6,197.5 209.2,197.0 210.8,196.5 212.4,196.6 214.0,196.1 215.7,196.2 217.3,196.0 218.9,195.9 220.6,194.9 222.2,194.6 223.9,195.1 225.6,194.7 227.3,194.7 229.0,194.3 230.7,194.2 232.4,193.2 234.1,193.0 235.8,193.1 237.6,193.0 239.3,192.2 241.1,192.7 242.8,191.8 244.6,191.5 246.4,191.5 248.2,191.0 250.0,190.6 250.0,190.6 251.8,190.3 253.6,190.2 255.4,190.4 257.3,190.2 259.1,190.0 261.0,189.4 262.8,189.5 264.7,188.6 266.6,189.0 268.5,188.4 270.4,187.9 272.3,187.8 274.2,187.4 276.1,187.6 278.1,187.1 280.0,186.5 282.0,186.4 283.9,186.0 285.9,186.5 287.9,185.7 289.9,185.8 290.0,185.6 291.9,185.2 293.9,185.2 295.9,184.8 297.9,184.0 299.9,184.5 300.0,183.9 302.0,183.3 304.0,182.4 304.0,182.9 306.1,183.1 308.0,183.8 308.2,183.8 310.2,182.8 312.0,182.3 312.3,182.0 314.4,183.7 316.0,183.7 316.5,184.3 318.7,182.4 320.0,182.5 320.8,182.0 322.9,183.3 325.0,183.9 325.1,184.2 327.2,183.1 329.4,182.7 330.0,181.9 331.5,182.7 333.7,182.4 335.9,182.5" stroke="#000"/>
<path d="M68.5,243.3L68.6,239.9 68.9,236.7 69.3,234.1 69.5,233.3 69.6,232.5 69.8,231.1 70.0,230.8 70.2,229.9 70.4,229.3 70.6,228.2 70.8,227.6 70.9,227.5 71.1,226.9 71.4,226.4 71.6,225.3 71.9,224.6 72.2,224.5 72.5,223.5 72.8,222.9 73.2,222.4 73.5,221.4 73.9,220.5 74.2,220.5 74.2,220.2 74.6,219.6 75.0,218.9 75.4,218.6 75.9,217.3 76.3,217.0 76.7,216.0 77.2,215.5 77.7,214.9 78.1,213.9 78.6,213.1 79.1,212.8 79.7,212.3 80.2,211.5 80.7,210.8 80.7,210.9 81.3,209.9 81.9,209.2 82.4,208.7 83.0,208.5 83.6,207.2 84.3,206.5 84.9,205.9 85.5,205.2 86.2,204.7 86.9,204.4 87.5,203.9 88.2,202.8 88.9,202.2 89.7,201.5 90.4,200.9 91.1,200.7 91.9,199.8 92.6,198.9 93.0,198.6 93.4,198.8 94.2,198.1 95.0,197.6 95.8,196.4 96.7,196.0 97.5,195.7 98.4,194.8 99.2,194.5 100.1,193.2 101.0,193.3 101.9,191.8 102.8,191.5 103.7,190.6 104.7,190.6 105.6,189.9 106.6,189.5 107.6,188.8 108.6,188.3 109.6,187.3 110.6,187.1 111.6,186.2 112.6,185.3 113.3,185.4 113.7,184.7 114.8,183.9 115.8,183.2 116.9,182.9 118.0,182.0 119.1,182.0 120.3,181.4 121.4,180.1 122.5,179.3 123.7,179.1 124.9,178.1 126.1,177.8 127.3,177.4 128.5,176.3 129.7,175.8 130.9,175.6 132.2,174.5 133.5,173.8 134.7,173.7 136.0,173.0 137.3,172.5 138.6,171.7 140.0,170.9 141.3,170.5 142.6,170.1 144.0,169.4 145.4,168.5 146.8,168.0 148.2,167.6 149.6,167.4 150.0,167.1 151.0,166.7 152.4,166.5 153.9,165.4 155.3,165.4 156.8,164.7 158.3,164.5 159.8,164.3 161.3,163.4 162.8,163.6 164.3,162.4 165.9,162.4 167.4,162.0 169.0,161.3 170.6,161.2 172.2,160.7 173.8,160.3 175.0,160.2 175.4,159.4 177.1,159.3 178.7,159.3 180.4,158.3 182.0,158.5 183.7,157.5 185.4,157.4 187.1,156.6 188.8,156.4 190.6,155.9 192.3,155.2 194.1,155.3 195.8,154.7 197.6,154.5 198.2,154.2 199.4,154.0 201.2,153.6 203.0,153.0 204.9,153.1 206.7,152.0 208.6,152.4 210.4,152.0 212.3,151.3 214.2,151.2 216.1,150.7 218.0,150.3 220.0,149.7 221.9,149.3 222.3,149.3 223.8,148.9 225.8,149.1 227.8,148.2 229.8,147.9 231.8,147.5 233.8,147.5 235.8,146.8 237.9,146.5 239.9,145.8 242.0,145.5 244.1,144.9 246.2,144.7 248.3,144.3 250.4,144.5 252.5,143.8 254.6,143.0 256.8,143.0" stroke="#e8141e"/>
<path d="M68.5,243.3L68.6,242.4 68.8,241.5 69.1,240.5 69.3,240.8 69.4,240.5 69.6,240.2 69.8,239.8 70.0,239.6 70.3,238.5 70.3,239.0 70.5,238.5 70.8,238.7 71.1,238.1 71.4,238.0 71.7,237.7 72.0,237.5 72.4,237.5 72.7,237.3 72.8,236.7 73.1,236.9 73.5,236.7 73.9,236.1 74.4,235.6 74.8,235.6 75.3,235.6 75.8,235.2 76.3,234.6 76.8,234.8 77.3,234.3 77.7,234.6 77.9,233.9 78.4,234.0 79.0,233.6 79.6,233.9 80.2,232.9 80.9,233.3 81.5,232.6 82.2,232.4 82.9,232.0 83.6,232.0 84.3,232.1 85.0,232.0 85.8,231.7 86.5,231.1 87.0,230.7 87.3,230.8 88.1,230.7 88.9,230.1 89.7,230.5 90.6,229.5 91.5,229.4 92.3,229.1 93.2,228.9 94.2,228.5 95.1,228.5 96.0,228.3 97.0,228.6 98.0,228.0 99.0,227.9 100.0,227.4 101.0,227.0 102.1,227.1 102.3,227.2 103.1,226.5 104.2,226.8 105.3,226.1 106.4,226.3 107.6,225.8 108.7,225.4 109.9,225.2 111.0,225.5 112.2,225.1 113.5,224.5 114.7,225.0 115.9,224.2 117.2,224.0 118.5,223.5 119.8,223.5 121.1,223.5 122.4,223.6 123.8,222.9 125.1,222.8 126.5,222.2 127.9,222.5 129.3,221.9 130.0,221.9 130.7,221.7 132.2,221.9 133.6,221.8 135.1,220.7 136.6,220.7 138.1,220.1 139.7,220.4 141.2,220.2 142.8,219.1 144.3,219.3 145.9,218.7 147.5,218.5 149.2,218.3 150.8,217.8 152.5,217.8 154.2,217.2 155.9,217.1 157.6,216.7 159.3,216.6 161.0,216.1 162.8,216.2 164.6,215.8" stroke="#1414ee"/>
<path d="M68.5,243.3L68.6,239.5 68.6,238.8 68.6,238.3 68.7,237.5 68.8,235.6 68.9,235.3 69.2,233.7 69.5,231.2 70.0,230.0 70.8,227.6 72.0,224.2 73.9,221.8 75.2,219.2 76.7,217.4 78.2,216.0 79.6,214.5 81.1,213.1 82.6,211.4 84.1,210.4 85.5,208.9 87.0,207.9 88.5,207.1 89.9,205.7 91.4,205.0 92.9,204.6 94.4,203.1 95.8,202.5 97.3,201.2 98.8,201.2 100.2,199.7 101.7,199.1 103.2,198.9 104.7,197.9 106.1,197.3 107.6,196.7 109.1,195.9 110.5,195.2 112.0,194.3 113.5,193.7 115.0,193.1 116.4,192.6 117.9,192.1 119.4,192.1 120.8,190.8 122.3,190.2 123.8,189.8 125.2,189.1 126.7,189.3 128.2,188.9 129.7,188.2 131.1,187.9 132.6,187.0 134.1,186.4 135.5,185.8 137.0,185.6 138.5,184.8 140.0,184.6 141.4,184.0 142.9,183.8 144.4,183.6 145.8,182.9 147.3,182.0 148.8,182.0 150.3,181.7 151.7,181.1 153.2,180.2 154.7,179.8 156.1,179.9 157.6,179.6 159.1,179.0 160.6,178.8 162.0,178.3 163.5,178.2 165.0,177.2" stroke="#1414ee"/>
<path d="M68.5,243.3L68.6,241.4 69.0,239.5 69.5,237.7 69.7,237.4 69.8,237.3 70.0,237.0 70.2,236.6 70.4,235.8 70.6,236.0 70.8,235.2 71.0,234.8 71.2,234.2 71.5,234.3 71.5,233.8 71.7,233.7 72.0,233.7 72.2,233.5 72.5,233.2 72.8,232.2 73.1,231.9 73.4,231.7 73.8,231.7 74.1,231.6 74.4,231.2 74.8,231.0 75.1,230.4 75.5,230.1 75.6,229.7 75.9,229.5 76.3,229.1 76.7,229.1 77.1,228.8 77.5,228.4 78.0,228.0 78.4,227.7 78.9,227.2 79.3,227.4 79.8,226.9 80.3,226.7 80.8,226.4 81.3,225.7 81.8,225.2 82.3,225.0 82.9,225.3 83.4,224.9 83.7,224.4 84.0,224.5 84.5,223.8 85.1,224.0 85.7,223.0 86.3,223.3 86.9,223.2 87.5,222.4 88.2,222.1 88.8,221.5 89.5,221.3 90.1,221.0 90.8,220.7 91.5,220.2 92.1,220.1 92.8,219.6 93.6,219.7 94.3,219.3 95.0,218.8 95.7,219.2 96.5,218.3 97.3,218.2 98.0,218.2 98.8,217.8 99.0,217.9 99.6,217.4 100.4,217.3 101.2,216.3 102.0,216.6 102.9,215.9 103.7,215.6 104.6,215.7 105.4,215.4 106.3,214.8 107.2,214.5 108.1,214.1 109.0,214.4 109.9,213.8 110.8,213.2 111.7,213.2 112.7,212.4 113.6,212.3 114.6,212.2 115.6,212.4 116.6,212.0 117.6,211.4 118.6,211.3 119.6,210.6 120.6,210.7 121.6,210.6 122.7,209.6 123.8,210.0 124.3,209.9 124.8,209.2 125.9,209.3 127.0,209.2 128.1,208.1 129.2,208.1 130.3,207.9 131.4,207.8 132.6,207.0 133.7,207.2 134.9,206.8 136.0,206.7 137.2,206.3 138.4,206.1 139.6,205.6 140.8,205.2 142.0,204.8 143.3,204.5 144.5,204.3 145.8,204.0 147.0,203.6 148.3,203.1 149.6,203.0 150.9,203.2 152.2,202.4 153.5,202.7 154.8,202.3 156.1,201.7 157.5,201.2 158.8,201.5 160.2,201.3 161.6,200.4 162.9,200.5 164.3,200.3" stroke="#1414ee"/>
<path d="M68.5,243.3L68.6,242.6 68.6,242.5 68.6,242.0 68.7,241.7 68.8,242.0 68.9,241.2 69.2,241.2 69.5,240.2 70.0,240.5 70.8,239.5 72.0,238.2 73.9,236.9 75.2,237.0 76.7,236.4 78.2,235.3 79.6,234.5 81.1,234.9 82.5,234.4 84.0,233.5 85.4,232.7 86.9,232.9 88.4,232.8 89.8,231.7 91.3,231.4 92.7,231.6 94.2,231.1 95.6,231.0 97.1,230.4 98.6,229.7 100.0,230.1 101.5,229.6 102.9,229.4 104.4,228.6 105.9,228.3 107.3,228.7 108.8,228.4 110.2,227.3 111.7,227.0 113.1,226.8 114.6,227.1 116.1,226.5 117.5,226.1 119.0,226.3 120.4,226.5 121.9,225.8 123.4,225.2 124.8,225.0 126.3,224.9 127.7,224.8 129.2,224.4 130.6,224.1 132.1,224.1 133.6,223.8 135.0,223.6 136.5,223.3 137.9,223.6 139.4,223.6 140.8,223.0 142.3,222.5 143.8,222.6 145.2,222.1 146.7,222.0 148.1,221.9 149.6,222.4 151.1,221.4 152.5,221.6 154.0,221.0 155.4,221.1 156.9,221.6 158.3,221.3 159.8,220.7 161.3,220.4 162.7,220.2 164.2,220.3" stroke="#1414ee"/>
<path d="M68.5,243.3L68.5,243.1 68.5,242.9 68.6,242.7 68.7,242.8 68.8,241.9 68.8,242.1 69.0,242.5 69.2,242.1 69.3,241.5 69.4,241.6 69.7,241.9 69.9,241.3 70.2,240.8 70.2,241.6 70.6,240.7 70.9,241.0 71.3,240.8 71.8,240.5 71.9,240.9 72.2,240.1 72.7,240.3 73.3,239.7 73.8,240.3 74.4,239.4 74.7,239.6 75.0,239.8 75.6,239.7 76.3,238.9 77.0,239.4 77.8,239.2 78.5,238.6 79.3,238.8 79.7,238.3 80.1,238.1 81.0,238.0 81.9,238.0 82.8,238.3 83.7,237.8 84.7,238.1 85.7,237.9 86.8,237.2 87.8,237.2 88.9,236.8 90.0,237.1 91.2,237.0 92.4,236.8 93.6,236.2 94.9,236.6 96.1,236.0 97.4,236.5 98.8,236.0 100.1,235.5 101.5,236.2 103.0,236.0 103.0,235.4 104.4,235.8 105.9,235.1 107.4,235.2 109.0,235.1 110.6,235.1 112.2,234.3 113.8,234.1 115.5,234.1 117.2,234.1 118.9,234.3 120.7,234.1 122.5,233.4 124.3,233.7 126.2,233.0 126.4,232.9 128.1,233.1 130.0,233.2 131.9,233.0 133.9,232.3 135.9,232.3 137.9,231.5 140.0,231.2" stroke="#1414ee"/>
<path d="M68.5,243.3L68.6,240.7 69.0,238.3 69.5,236.0 69.7,235.6 69.8,235.3 70.0,234.3 70.2,234.2 70.4,233.9 70.6,233.5 70.8,232.4 71.0,232.4 71.3,231.9 71.5,231.3 71.5,231.7 71.8,230.9 72.0,230.4 72.3,230.4 72.6,229.7 72.9,228.9 73.2,228.5 73.5,228.2 73.9,227.4 74.2,227.4 74.6,227.1 74.9,226.4 75.3,226.4 75.6,226.1 75.7,225.7 76.1,225.3 76.5,224.4 76.9,223.9 77.3,224.3 77.8,223.3 78.2,222.8 78.7,223.0 79.1,222.4 79.6,221.4 80.1,221.2 80.6,220.7 81.1,220.3 81.6,219.6 82.2,219.7 82.7,219.1 83.3,218.7 83.7,218.2 83.8,218.1 84.4,217.6 85.0,217.9 85.6,217.4 86.2,216.8 86.8,216.0 87.4,215.6 88.1,215.2 88.7,214.9 89.4,214.3 90.0,214.1 90.7,213.6 91.4,213.2 92.1,213.2 92.8,212.6 93.5,212.2 94.3,211.7 95.0,211.5 95.8,211.3 96.5,210.5 97.3,209.8 98.1,209.8 98.9,209.3 99.0,209.6 99.7,208.7 100.5,209.0 101.3,207.8 102.2,207.9 103.0,207.4 103.9,206.9 104.7,207.0 105.6,206.4 106.5,205.5 107.4,205.4 108.3,205.1 109.2,204.2 110.2,203.9 111.1,203.9 112.1,203.7 113.0,203.0 114.0,202.6 115.0,202.3 116.0,201.7 117.0,201.8 118.0,201.5 119.0,200.7 120.1,199.9 121.1,199.8 122.2,199.8 123.3,199.0 124.3,198.4 124.3,198.5 125.4,198.5 126.5,198.1 127.7,197.4 128.8,197.3 129.9,197.0 131.0,196.8 132.2,196.3 133.4,195.6 134.5,195.6 135.7,195.3 136.9,194.8 138.1,194.4 139.4,193.8 140.6,193.4 141.8,193.3 143.1,192.7 144.3,192.4 145.6,191.6 146.9,191.1 148.2,190.9 149.5,190.8 150.8,190.4 152.1,189.7 153.4,189.3 154.8,189.6 156.1,188.4 157.5,188.8 158.9,188.3 160.3,187.7 161.7,187.7 163.1,187.0 164.5,186.0" stroke="#1414ee"/>
<path d="M68.5,243.3L68.6,242.5 68.6,242.4 68.6,241.7 68.7,242.3 68.8,241.9 68.9,240.8 69.2,240.9 69.5,240.0 70.0,240.0 70.8,239.2 72.0,237.7 73.9,236.8 75.2,236.0 76.7,235.1 78.1,234.6 79.6,234.0 81.1,233.5 82.5,233.5 84.0,232.7 85.4,231.6 86.9,231.5 88.3,231.6 89.8,231.0 91.3,230.5 92.7,230.1 94.2,229.8 95.6,228.9 97.1,228.8 98.5,228.4 100.0,227.9 101.4,228.1 102.9,227.1 104.4,227.0 105.8,227.2 107.3,227.1 108.7,226.2 110.2,226.5 111.6,226.2 113.1,225.2 114.6,225.7 116.0,224.7 117.5,224.7 118.9,224.1 120.4,223.9 121.8,224.2 123.3,224.1 124.8,223.1 126.2,223.1 127.7,223.2 129.1,222.9 130.6,222.2 132.0,222.6 133.5,221.7 134.9,222.3 136.4,221.9 137.9,221.6 139.3,221.7 140.8,220.8 142.2,220.5 143.7,220.8 145.1,220.8 146.6,220.7 148.1,220.3 149.5,219.9 151.0,219.5 152.4,219.7 153.9,219.4 155.3,219.4 156.8,219.1 158.2,218.7 159.7,218.6 161.2,218.0 162.6,217.9 164.1,218.2" stroke="#1414ee"/>
<path d="M68.5,243.3L68.6,240.6 69.0,237.9 69.5,235.2 69.7,235.1 69.8,234.6 70.0,234.0 70.1,233.3 70.3,233.4 70.5,233.0 70.7,232.3 70.9,231.8 71.1,231.1 71.3,230.5 71.5,230.4 71.5,230.5 71.8,229.6 72.0,229.9 72.3,228.9 72.5,228.5 72.8,227.9 73.1,228.3 73.4,227.6 73.7,227.3 74.0,226.7 74.3,225.7 74.6,225.5 75.0,225.3 75.3,224.5 75.6,224.9 75.7,224.3 76.0,223.7 76.4,223.9 76.8,222.8 77.1,223.1 77.5,222.3 78.0,221.9 78.4,221.3 78.8,221.0 79.2,220.4 79.7,219.8 80.1,220.1 80.6,219.2 81.0,219.2 81.5,218.3 82.0,218.6 82.5,218.1 83.0,217.6 83.5,217.2 83.7,216.8 84.0,216.7 84.6,215.8 85.1,215.7 85.6,215.6 86.2,214.6 86.8,214.9 87.3,214.4 87.9,213.6 88.5,213.2 89.1,212.8 89.7,212.4 90.3,212.5 91.0,211.6 91.6,210.9 92.3,210.5 92.9,210.7 93.6,210.5 94.2,209.7 94.9,209.3 95.6,208.9 96.3,208.7 97.0,207.9 97.7,207.8 98.5,207.4 99.0,207.2 99.2,206.6 99.9,206.2 100.7,206.0 101.5,206.1 102.2,205.2 103.0,205.0 103.8,204.4 104.6,203.8 105.4,203.4 106.2,203.7 107.0,203.3 107.9,202.5 108.7,202.4 109.6,202.0 110.4,201.8 111.3,201.5 112.2,200.6 113.0,200.7 113.9,200.3 114.8,199.6 115.8,199.5 116.7,198.7 117.6,198.3 118.5,197.8 119.5,197.9 120.4,196.9 121.4,196.4 122.4,196.7 123.4,196.3 124.3,195.7 124.4,196.0 125.4,194.9 126.4,194.7 127.4,194.4 128.4,194.1 129.5,193.5 130.5,193.0 131.6,192.9 132.6,193.1 133.7,192.8 134.8,192.2 135.9,191.6 137.0,191.0 138.1,191.3 139.2,190.6 140.3,190.4 141.4,189.4 142.6,189.2 143.7,189.4 144.9,189.0 146.1,188.7 147.2,188.1 148.4,187.6 149.6,187.4 150.8,187.2 152.1,186.4 153.3,186.2 154.5,185.6 155.7,185.7 157.0,184.6 158.3,184.8 159.5,184.7 160.8,183.4 162.1,183.6 163.4,183.2 164.7,183.0" stroke="#1414ee"/>
<path d="M68.5,243.3L68.6,238.8 68.6,238.1 68.6,237.7 68.7,236.2 68.8,235.4 68.9,234.0 69.2,232.0 69.5,230.1 70.0,228.5 70.8,225.6 72.0,223.0 73.9,220.3 75.2,218.3 76.7,215.7 78.2,214.0 79.6,212.6 81.1,211.8 82.6,209.7 84.0,208.7 85.5,207.5 87.0,206.4 88.4,205.8 89.9,204.5 91.3,203.8 92.8,203.2 94.3,202.4 95.7,201.2 97.2,200.8 98.7,199.8 100.1,199.3 101.6,198.0 103.1,197.4 104.5,196.9 106.0,196.6 107.5,195.7 108.9,194.9 110.4,194.0 111.8,193.4 113.3,192.8 114.8,193.0 116.2,192.3 117.7,191.7 119.2,190.8 120.6,190.5 122.1,189.5 123.6,189.2 125.0,188.3 126.5,188.1 128.0,187.4 129.4,186.8 130.9,187.1 132.3,185.8 133.8,186.1 135.3,185.5 136.7,184.4 138.2,184.4 139.7,184.5 141.1,184.0 142.6,183.2 144.1,182.9 145.5,182.5 147.0,181.6 148.5,181.5 149.9,181.1 151.4,180.5 152.8,180.5 154.3,179.8 155.8,179.7 157.2,178.6 158.7,178.6 160.2,177.9 161.6,178.1 163.1,177.9 164.6,177.2" stroke="#1414ee"/>
<path d="M68.5,243.3L68.6,238.8 68.6,238.0 68.6,236.8 68.7,236.1 68.8,235.3 68.9,233.9 69.2,232.3 69.5,230.2 70.0,228.5 70.8,225.8 72.0,222.4 73.9,219.5 75.2,217.1 76.7,216.1 78.2,214.4 79.6,212.3 81.1,210.8 82.6,210.0 84.0,208.2 85.5,207.0 87.0,206.0 88.4,205.1 89.9,204.4 91.4,203.8 92.8,202.1 94.3,202.0 95.7,200.8 97.2,200.3 98.7,199.4 100.1,198.0 101.6,197.8 103.1,196.5 104.5,195.7 106.0,195.4 107.5,195.1 108.9,194.3 110.4,193.3 111.9,193.3 113.3,192.8 114.8,191.5 116.3,191.1 117.7,190.7 119.2,190.4 120.7,189.1 122.1,189.0 123.6,188.9 125.0,188.0 126.5,187.6 128.0,187.2 129.4,186.4 130.9,185.7 132.4,185.5 133.8,185.0 135.3,184.3 136.8,184.4 138.2,183.4 139.7,183.1 141.2,182.9 142.6,182.5 144.1,182.2 145.6,181.5 147.0,180.7 148.5,180.9 150.0,180.5 151.4,179.9 152.9,179.6 154.4,178.9 155.8,178.5 157.3,178.2 158.7,177.4 160.2,177.5 161.7,177.3 163.1,176.3 164.6,176.5" stroke="#1414ee"/>
<path d="M68.5,243.3L68.6,240.6 69.0,237.9 69.5,235.1 69.7,234.7 69.8,234.3 70.0,234.4 70.1,233.6 70.3,233.3 70.5,232.3 70.7,232.2 70.9,232.1 71.1,231.4 71.3,231.3 71.5,230.8 71.5,230.3 71.8,229.6 72.0,229.8 72.3,228.8 72.5,228.3 72.8,228.5 73.1,228.1 73.4,227.7 73.7,227.4 74.0,226.3 74.3,225.7 74.6,225.3 75.0,225.7 75.3,224.5 75.6,224.2 75.7,224.0 76.0,223.6 76.4,223.1 76.8,223.0 77.2,222.4 77.6,222.1 78.0,222.2 78.4,221.1 78.8,221.3 79.3,220.8 79.7,220.2 80.2,219.8 80.6,219.6 81.1,219.0 81.6,218.3 82.1,218.0 82.6,217.5 83.1,217.2 83.6,217.3 83.7,216.7 84.1,216.1 84.6,216.1 85.2,215.9 85.7,215.2 86.3,215.0 86.9,214.1 87.4,213.6 88.0,213.8 88.6,212.8 89.2,212.7 89.8,212.3 90.4,211.7 91.1,211.2 91.7,210.8 92.4,211.2 93.0,210.6 93.7,210.4 94.4,209.6 95.1,209.6 95.7,209.2 96.4,208.5 97.2,208.1 97.9,207.6 98.6,207.0 99.0,206.9 99.3,207.0 100.1,206.2 100.9,206.4 101.6,205.7 102.4,205.4 103.2,205.2 104.0,204.6 104.8,203.8 105.6,203.5 106.4,202.9 107.2,202.5 108.1,202.9 108.9,202.2 109.8,202.2 110.6,201.6 111.5,200.8 112.4,201.0 113.3,200.6 114.2,199.8 115.1,199.0 116.0,198.9 116.9,198.3 117.9,198.1 118.8,197.5 119.7,197.7 120.7,197.5 121.7,196.5 122.7,196.6 123.7,196.0 124.3,195.7 124.6,195.9 125.7,195.1 126.7,195.1 127.7,194.0 128.7,194.5 129.8,193.4 130.8,192.8 131.9,193.2 133.0,192.7 134.0,192.3 135.1,192.0 136.2,191.2 137.3,190.6 138.4,190.4 139.6,190.6 140.7,190.2 141.8,189.2 143.0,189.0 144.1,188.6 145.3,188.6 146.5,187.4 147.7,187.8 148.9,186.9 150.1,186.8 151.3,186.0 152.5,185.6 153.7,185.9 155.0,185.2 156.2,185.3 157.5,184.8 158.7,184.3 160.0,183.4 161.3,183.4 162.6,183.4 163.9,182.6" stroke="#1414ee"/>
<path d="M68.5,243.3L68.6,242.2 68.6,242.0 68.6,241.7 68.7,241.6 68.8,241.1 68.9,240.7 69.2,240.4 69.5,239.5 70.0,238.1 70.8,237.2 72.0,236.2 73.9,234.7 75.2,234.3 76.7,233.2 78.1,232.2 79.6,231.3 81.0,230.6 82.5,230.3 83.9,230.0 85.4,228.7 86.8,228.5 88.3,227.8 89.7,227.6 91.2,226.8 92.6,226.1 94.1,226.3 95.5,225.5 96.9,225.4 98.4,225.3 99.8,224.5 101.3,224.5 102.7,224.0 104.2,222.9 105.6,222.7 107.1,222.8 108.5,222.2 110.0,221.4 111.4,221.9 112.9,221.4 114.3,220.9 115.8,220.6 117.2,220.0 118.7,220.1 120.1,219.4 121.6,219.6 123.0,219.6 124.5,218.6 125.9,218.3 127.4,218.3 128.8,218.4 130.2,217.4 131.7,217.4 133.1,217.3 134.6,216.6 136.0,216.2 137.5,216.7 138.9,216.3 140.4,216.0 141.8,215.7 143.3,215.0 144.7,215.2 146.2,214.9 147.6,214.7 149.1,214.1 150.5,213.8 152.0,214.0 153.4,214.0 154.9,213.7 156.3,213.8 157.8,213.0 159.2,212.8 160.6,212.5 162.1,212.5 163.5,212.4 165.0,212.4" stroke="#1414ee"/>
<path d="M68.5,243.3L68.6,242.0 69.0,240.8 69.5,239.6 69.7,239.5 69.8,239.3 70.0,238.6 70.1,238.3 70.3,238.4 70.5,238.1 70.7,238.4 70.9,238.1 71.1,237.8 71.3,237.6 71.5,237.4 71.5,236.9 71.7,237.0 72.0,236.6 72.2,237.0 72.5,236.1 72.7,236.6 73.0,235.7 73.3,236.0 73.6,235.5 73.9,235.4 74.2,235.6 74.5,234.6 74.9,234.5 75.2,235.1 75.5,234.5 75.6,234.1 75.9,234.7 76.2,234.5 76.6,233.6 77.0,233.6 77.4,233.2 77.8,233.1 78.2,233.2 78.6,232.6 79.0,232.9 79.4,232.1 79.9,232.1 80.3,232.4 80.8,231.9 81.3,231.7 81.7,231.7 82.2,231.4 82.7,231.1 83.2,230.6 83.7,231.0 83.7,231.2 84.2,231.1 84.8,230.6 85.3,230.1 85.8,229.9 86.4,230.1 87.0,229.9 87.5,229.2 88.1,229.1 88.7,229.0 89.3,229.0 89.9,229.0 90.5,228.6 91.1,228.0 91.7,228.5 92.4,228.0 93.0,227.9 93.7,227.4 94.4,227.4 95.0,227.2 95.7,227.3 96.4,226.6 97.1,226.8 97.8,226.3 98.5,226.5 99.0,225.8 99.2,226.0 100.0,225.9 100.7,225.9 101.5,225.2 102.2,225.4 103.0,225.0 103.8,224.9 104.6,224.9 105.4,225.1 106.2,224.5 107.0,224.8 107.8,223.9 108.6,224.4 109.5,223.7 110.3,223.4 111.2,223.7 112.0,223.7 112.9,222.7 113.8,222.7 114.7,223.0 115.6,222.4 116.5,222.2 117.4,221.8 118.3,221.6 119.2,222.0 120.2,222.1 121.1,221.9 122.1,221.3 123.1,220.7 124.0,220.8 124.3,221.2 125.0,221.1 126.0,220.7 127.0,220.2 128.0,220.3 129.0,220.1 130.1,220.0 131.1,219.5 132.1,220.0 133.2,219.8 134.3,218.9 135.3,218.9 136.4,219.2 137.5,218.5 138.6,219.0 139.7,218.4 140.8,218.4 141.9,218.3 143.1,217.6 144.2,217.5 145.4,217.3 146.5,217.6 147.7,217.4 148.9,216.7 150.0,217.2 151.2,216.6 152.4,216.3 153.6,216.3 154.9,216.6 156.1,216.1 157.3,216.0 158.6,216.0 159.8,215.9 161.1,215.5 162.4,215.0 163.6,215.0 164.9,215.1" stroke="#1414ee"/>
<path d="M68.5,243.3L68.6,242.2 69.0,241.1 69.5,240.1 69.7,240.0 69.8,240.1 70.0,239.5 70.1,239.4 70.3,239.3 70.5,238.7 70.7,238.8 70.9,238.8 71.1,238.7 71.3,237.9 71.5,237.9 71.5,237.7 71.7,238.2 72.0,237.9 72.2,237.2 72.5,237.8 72.7,237.7 73.0,237.2 73.3,237.0 73.6,236.4 73.9,236.1 74.2,236.4 74.5,235.8 74.9,235.8 75.2,235.6 75.5,235.3 75.6,235.6 75.9,235.5 76.2,235.7 76.6,235.2 77.0,235.1 77.4,234.8 77.8,234.8 78.2,234.5 78.6,234.1 79.0,234.6 79.4,234.5 79.9,234.2 80.3,233.9 80.8,233.3 81.3,233.1 81.7,233.0 82.2,232.6 82.7,233.1 83.2,232.6 83.7,232.8 83.7,232.4 84.2,232.8 84.8,232.5 85.3,231.6 85.8,231.6 86.4,232.1 87.0,231.5 87.5,231.8 88.1,231.1 88.7,230.7 89.3,231.0 89.9,231.0 90.5,230.4 91.1,230.1 91.7,230.1 92.4,230.5 93.0,230.2 93.7,229.4 94.4,229.4 95.0,229.1 95.7,228.9 96.4,229.4 97.1,228.7 97.8,228.9 98.5,228.6 99.0,228.3 99.2,228.7 100.0,228.0 100.7,228.3 101.5,227.7 102.2,227.8 103.0,227.5 103.8,227.4 104.6,227.8 105.4,227.5 106.2,226.9 107.0,227.3 107.8,226.5 108.6,226.5 109.5,226.8 110.3,226.5 111.2,225.8 112.0,226.5 112.9,225.6 113.8,225.5 114.7,225.8 115.6,225.2 116.5,225.1 117.4,224.7 118.3,224.6 119.2,224.9 120.2,224.4 121.1,224.6 122.1,224.2 123.1,224.1 124.0,224.4 124.3,224.0 125.0,223.9 126.0,224.0 127.0,223.3 128.0,223.1 129.0,223.6 130.1,223.4 131.1,222.8 132.1,222.6 133.2,222.9 134.3,223.0 135.3,222.2 136.4,222.7 137.5,222.5 138.6,222.1 139.7,221.8 140.8,221.4 141.9,221.2 143.1,221.9 144.2,221.1 145.4,221.4 146.5,220.9 147.7,221.2 148.9,220.9 150.0,220.5 151.2,220.2 152.4,220.5 153.6,219.8 154.9,219.8 156.1,219.9 157.3,220.1 158.6,219.7 159.8,219.2 161.1,219.6 162.4,218.8 163.6,218.5 164.9,218.5" stroke="#1414ee"/>
<path d="M68.5,243.3L68.6,240.3 68.6,239.7 68.6,238.8 68.7,238.2 68.8,237.3 68.9,235.7 69.2,234.8 69.5,233.6 70.0,231.2 70.8,228.8 72.0,226.3 73.9,222.7 75.2,220.5 76.7,219.1 78.2,216.6 79.6,215.8 81.1,214.3 82.5,212.6 84.0,211.2 85.5,209.5 86.9,208.5 88.4,207.9 89.8,206.8 91.3,205.7 92.8,204.2 94.2,203.8 95.7,203.1 97.1,202.1 98.6,201.0 100.1,200.0 101.5,199.1 103.0,198.0 104.4,197.1 105.9,197.3 107.3,196.0 108.8,195.2 110.3,194.6 111.7,194.4 113.2,193.6 114.6,192.7 116.1,192.1 117.6,191.2 119.0,190.7 120.5,190.2 121.9,189.5 123.4,188.2 124.9,188.0 126.3,187.6 127.8,187.1 129.2,186.7 130.7,186.0 132.2,185.1 133.6,184.6 135.1,184.4 136.5,183.8 138.0,182.9 139.5,182.4 140.9,182.1 142.4,181.4 143.8,181.1 145.3,180.8 146.8,179.8 148.2,179.5 149.7,178.6 151.1,178.8 152.6,178.2 154.1,177.6 155.5,176.9 157.0,176.2 158.4,175.9 159.9,175.4 161.4,175.5 162.8,174.8 164.3,174.7" stroke="#1414ee"/>
<path d="M68.5,243.3L68.6,241.6 68.6,241.2 68.6,241.2 68.7,240.1 68.8,240.3 68.9,239.2 69.2,238.3 69.5,237.5 70.0,235.9 70.8,234.6 72.0,233.2 73.9,231.1 75.2,230.4 76.7,229.0 78.2,228.0 79.6,226.9 81.1,226.0 82.6,225.7 84.0,225.1 85.5,223.9 87.0,223.6 88.4,222.5 89.9,222.3 91.4,221.2 92.8,221.0 94.3,220.2 95.8,220.2 97.2,219.5 98.7,218.4 100.2,217.9 101.6,217.8 103.1,217.0 104.6,216.6 106.0,216.9 107.5,216.4 109.0,215.1 110.4,214.7 111.9,214.9 113.4,214.8 114.8,214.3 116.3,213.7 117.8,213.4 119.2,212.8 120.7,212.4 122.2,212.4 123.6,211.3 125.1,211.5 126.6,211.2 128.0,210.3 129.5,210.6 131.0,209.7 132.4,210.1 133.9,209.6 135.4,209.0 136.8,208.8 138.3,208.9 139.8,208.0 141.2,207.5 142.7,207.7 144.2,207.6 145.6,206.6 147.1,206.9 148.6,206.2 150.0,206.3 151.5,205.8 153.0,206.0 154.4,205.3 155.9,205.4 157.4,205.2 158.8,204.1 160.3,204.6 161.8,204.2 163.2,203.3 164.7,203.5" stroke="#1414ee"/>
<path d="M68.5,243.3L68.6,242.2 68.9,241.1 69.3,240.2 69.5,240.1 69.6,239.8 69.8,239.7 70.0,238.9 70.2,239.3 70.4,238.7 70.6,238.6 70.8,238.4 70.9,238.5 71.1,237.7 71.3,237.6 71.6,237.7 71.9,237.3 72.2,237.2 72.5,236.7 72.8,237.0 73.2,235.9 73.5,236.3 73.9,235.8 74.2,235.2 74.2,235.8 74.6,235.0 75.0,234.9 75.4,234.8 75.8,234.4 76.3,234.2 76.7,233.9 77.2,234.4 77.6,233.5 78.1,233.3 78.6,233.0 79.1,233.6 79.6,233.0 80.2,233.0 80.7,233.0 80.7,232.5 81.2,232.2 81.8,232.0 82.4,231.7 83.0,231.8 83.6,231.9 84.2,231.2 84.8,231.3 85.5,231.2 86.1,230.9 86.8,230.5 87.5,230.2 88.2,229.6 88.9,229.6 89.6,229.9 90.3,229.3 91.0,229.3 91.8,228.7 92.6,228.8 93.0,228.3 93.3,228.7 94.1,228.6 94.9,227.6 95.7,228.0 96.6,227.3 97.4,227.8 98.2,226.9 99.1,226.7 100.0,227.2 100.9,226.7 101.8,226.0 102.7,226.2 103.6,226.3 104.5,225.5 105.5,225.8 106.4,225.2 107.4,225.1 108.4,224.9 109.4,224.3 110.4,224.4 111.4,224.4 112.5,224.2 113.3,224.0 113.5,223.6 114.6,223.8 115.6,223.3 116.7,223.7 117.8,222.7 118.9,223.1 120.1,222.3 121.2,222.5 122.3,222.0 123.5,221.9 124.7,221.9 125.8,221.8 127.0,220.8 128.2,221.4 129.5,220.9 130.7,220.2 131.9,220.5 133.2,220.4 134.5,219.8 135.7,220.1 137.0,219.2 138.3,219.3 139.7,218.9 141.0,219.3 142.3,218.6 143.7,218.4 145.1,218.9 146.4,218.2 147.8,218.2 149.2,218.2 150.0,217.7 150.6,218.2 152.1,218.0 153.5,217.7 155.0,217.9 156.4,217.9 157.9,217.1 159.4,217.8 160.9,217.3 162.4,217.4 163.9,217.2" stroke="#1414ee"/>
<path d="M68.5,243.3L68.6,241.9 69.0,240.6 69.5,239.0 69.7,239.3 69.8,239.0 70.0,239.1 70.1,238.2 70.3,238.0 70.5,238.2 70.7,237.9 70.8,237.4 71.1,237.5 71.3,237.0 71.5,237.1 71.5,236.5 71.7,236.4 72.0,236.8 72.2,236.1 72.5,235.8 72.7,236.1 73.0,235.7 73.3,235.1 73.6,235.2 73.9,235.1 74.2,234.4 74.5,234.7 74.8,234.0 75.2,234.0 75.5,233.5 75.6,233.6 75.9,234.1 76.2,233.4 76.6,233.7 77.0,233.0 77.4,233.0 77.8,233.0 78.2,232.6 78.6,231.9 79.0,232.1 79.4,231.9 79.9,231.3 80.3,231.1 80.8,231.5 81.2,231.0 81.7,230.5 82.2,230.6 82.7,230.1 83.2,230.5 83.7,230.0 83.7,229.6 84.2,230.1 84.7,229.2 85.2,229.2 85.8,228.8 86.3,229.2 86.9,228.4 87.5,228.6 88.0,228.0 88.6,228.2 89.2,228.2 89.8,227.8 90.4,227.6 91.0,227.4 91.7,227.1 92.3,227.1 92.9,226.4 93.6,226.6 94.3,226.2 94.9,226.5 95.6,226.4 96.3,225.4 97.0,225.3 97.7,225.6 98.4,225.3 99.0,224.7 99.1,225.2 99.9,225.2 100.6,224.6 101.3,224.3 102.1,224.3 102.9,224.5 103.6,223.7 104.4,223.5 105.2,223.2 106.0,223.4 106.8,223.1 107.6,222.7 108.5,222.6 109.3,222.1 110.1,222.2 111.0,222.6 111.9,222.0 112.7,221.6 113.6,222.0 114.5,221.3 115.4,221.0 116.3,220.6 117.2,220.5 118.1,220.3 119.0,220.2 120.0,220.6 120.9,219.8 121.9,219.6 122.8,219.8 123.8,219.9 124.3,219.2 124.8,219.5 125.8,219.0 126.8,219.0 127.8,218.8 128.8,218.9 129.8,218.6 130.9,218.2 131.9,218.3 132.9,217.7 134.0,217.5 135.1,217.9 136.1,217.3 137.2,217.3 138.3,216.8 139.4,217.1 140.5,216.7 141.6,216.2 142.8,216.6 143.9,216.0 145.1,215.7 146.2,215.4 147.4,215.1 148.5,215.0 149.7,215.3 150.9,214.6 152.1,214.5 153.3,214.5 154.5,214.4 155.7,214.1 157.0,214.3 158.2,213.6 159.5,213.5 160.7,213.4 162.0,212.9 163.2,212.8 164.5,212.5" stroke="#1414ee"/>
<path d="M68.5,243.3L68.5,242.0 68.6,240.9 68.6,239.8 68.7,239.2 68.8,238.7 68.8,238.0 68.8,237.8 68.9,237.5 69.0,236.8 69.1,236.2 69.2,236.1 69.2,235.6 69.3,235.4 69.5,234.6 69.6,233.9 69.8,233.7 69.8,233.3 69.9,232.9 70.1,232.6 70.3,232.1 70.4,231.6 70.6,231.0 70.8,230.6 71.0,229.9 71.0,230.1 71.3,229.5 71.5,228.8 71.7,228.5 72.0,227.9 72.3,227.5 72.5,227.0 72.8,226.4 73.0,225.8 73.1,225.8 73.4,225.2 73.7,224.7 74.0,224.2 74.3,223.5 74.7,222.8 75.0,222.0 75.4,221.5 75.7,220.7 76.1,220.3 76.5,219.3 76.9,219.0 77.3,217.9 77.7,217.6 78.0,216.9 78.1,216.9 78.5,216.2 79.0,215.5 79.4,215.0 79.9,214.5 80.3,213.7 80.8,213.2 81.3,212.7 81.8,211.9 82.3,211.4 82.8,210.9 83.3,210.3 83.9,209.5 84.4,209.1 84.9,208.4 85.5,207.6 86.1,207.1 86.7,206.3 87.2,205.8 87.8,205.0 88.0,204.9 88.4,204.5 89.1,203.8 89.7,202.9 90.3,202.2 91.0,201.4 91.6,200.6 92.3,199.9 92.9,198.8 93.6,198.2 94.3,197.3 95.0,196.6 95.7,195.7 96.4,194.7 97.2,193.9 97.9,193.5 98.6,192.6 99.4,192.0 100.0,191.3 100.2,191.4 100.9,190.7 101.7,190.2 102.5,189.5 103.3,189.3 104.1,188.8 104.9,188.2 105.8,187.7 106.6,187.0 107.5,186.5 108.3,186.3 109.2,185.7 110.1,185.2 110.9,184.9 111.8,184.2 112.7,184.0 113.7,183.1 114.6,182.9 115.0,182.4 115.5,182.1 116.4,181.6 117.4,181.3 118.4,180.4 119.3,180.1 120.3,179.6 121.3,178.7 122.3,178.4 123.3,177.7 124.3,177.2 125.3,176.8 126.4,176.0 127.4,175.3 128.5,174.7 129.5,174.3 130.6,173.4 130.6,173.6 131.7,173.0 132.8,172.2 133.9,171.5 135.0,170.4 136.1,169.8 137.2,169.0 138.4,167.9 139.5,167.3 140.7,166.4 141.8,165.5 143.0,164.9 144.2,164.0 145.4,163.6 145.5,163.3 146.6,162.8 147.8,162.3 149.0,161.4 150.3,161.2 151.5,160.6 152.7,159.9 154.0,159.4 155.3,158.9 156.5,158.2 157.8,157.4 159.1,157.1 160.0,156.3 160.4,156.2 161.7,155.4 163.1,154.7 164.4,153.6 165.7,152.8 167.1,151.7 168.5,150.9 169.3,150.1 169.8,149.7 171.2,148.7 172.6,147.5 174.0,146.4 175.0,145.7 175.4,145.2 176.8,144.1 178.2,143.3 179.7,142.4 181.1,141.5 182.6,140.4 184.0,139.8 185.5,138.8 187.0,138.3 188.5,137.6 190.0,136.7 190.1,136.6 191.5,136.0 193.0,135.2 194.6,134.8 196.1,134.3 197.6,133.8 199.2,133.2 200.8,132.6 202.3,132.2 203.9,131.3 205.5,130.7 207.0,130.3 207.1,129.9 208.7,129.2 210.4,128.6 212.0,127.8 213.6,126.8 215.3,125.7 216.9,125.0 218.6,123.8 219.0,123.7 220.3,123.0 222.0,122.2 223.7,121.0 225.4,120.1 227.1,119.1 228.8,118.1 230.3,117.2 230.5,117.1 232.3,116.0 234.0,115.0 235.8,114.2 237.6,112.8 239.4,111.9 241.2,110.7 243.0,109.6 244.8,108.8 246.4,107.8 246.6,107.8 248.4,106.3 250.2,105.5 252.1,104.1 253.9,103.2 255.8,102.0 257.7,100.8 259.6,99.9 260.0,99.5 261.5,98.8 263.4,97.9 265.3,96.8 267.2,96.0 269.1,95.4 270.1,94.7 271.1,94.8 273.0,94.6 275.0,94.1 276.9,93.7 277.0,93.8 278.9,92.6 280.9,91.4 282.8,90.3 282.9,90.0 284.9,89.5 286.9,88.9 288.9,88.6 289.9,88.5 291.0,89.9 292.2,91.8 293.0,91.6 295.1,89.8 295.7,89.5 297.1,89.1 299.2,88.5 301.3,87.6 303.4,87.2 305.0,86.7 305.5,86.6 307.6,86.1 309.7,85.3 311.8,84.7 313.9,84.1 316.1,83.3 316.7,83.2 318.2,82.8 320.4,81.9 322.6,80.9 324.8,80.3 324.9,80.2 327.0,79.8 329.2,79.4 331.4,78.9 333.6,78.6 334.2,78.7 335.8,78.1 338.1,77.6 340.3,77.0 342.6,76.1 344.8,75.3 347.1,74.5" stroke="#1414ee"/>
<path d="M68.5,243.3L68.5,242.0 68.6,240.9 68.6,239.6 68.7,238.8 68.8,238.3 68.8,237.9 68.9,237.3 69.0,236.8 69.1,236.0 69.2,235.8 69.3,235.3 69.5,234.8 69.6,233.8 69.8,233.2 69.8,233.0 70.0,232.5 70.3,231.8 70.5,231.4 70.8,230.5 71.0,230.3 71.0,229.8 71.3,229.4 71.6,228.6 71.9,228.1 72.3,227.4 72.6,226.6 73.0,225.9 73.0,226.1 73.4,225.1 73.8,224.3 74.2,223.9 74.6,223.0 75.0,222.1 75.5,221.4 76.0,220.7 76.5,219.6 77.0,218.7 77.5,218.0 78.0,217.0 78.6,216.2 79.1,215.2 79.7,214.6 80.0,214.1 80.3,213.5 80.9,212.6 81.5,211.6 82.2,210.9 82.8,209.9 83.5,208.8 84.2,207.6 84.9,206.5 85.6,205.8 86.3,204.5 87.1,203.7 87.8,202.6 88.6,201.5 89.4,200.6 90.0,200.2 90.2,199.7 91.1,198.9 91.9,197.9 92.8,196.9 93.6,196.0 94.5,195.2 95.4,194.2 96.3,193.2 97.3,192.3 98.2,191.5 99.2,190.6 100.0,190.1 100.1,189.8 101.1,189.3 102.1,188.4 103.2,187.7 104.2,187.3 105.3,186.3 106.3,185.8 107.4,185.2 108.5,184.6 109.6,184.1 110.8,183.4 111.9,182.6 113.0,181.8 113.1,182.1 114.3,181.2 115.5,180.5 116.7,179.7 117.9,179.0 119.1,178.2 120.4,177.5 121.7,176.9 122.9,176.0 124.2,175.3 125.6,174.5 126.3,173.7 126.9,173.6 128.2,172.4 129.6,171.7 131.0,170.6 132.4,169.4 133.8,168.2 135.2,167.1 136.6,166.1 138.1,165.0 139.6,163.7 141.0,162.5 142.5,161.4 143.8,160.6 144.1,160.2 145.6,159.4 147.1,158.2 148.7,157.3 150.3,156.3 151.9,155.3 153.5,154.5 155.1,153.5 156.7,152.5 158.4,151.4 160.1,150.3 161.8,149.1 163.5,148.0 165.2,147.0 166.0,146.3 166.9,145.4 168.6,144.0 170.4,142.4 172.2,140.9 174.0,139.5 175.8,137.7 177.6,135.8 179.4,134.3 181.3,132.6 182.1,131.8 183.2,130.6 185.1,128.9 187.0,127.2 188.9,125.8 190.8,123.8 192.7,121.9 194.7,120.5 196.7,118.6 198.2,117.2 198.7,116.9 200.7,115.1 202.7,113.4 204.7,112.1 206.8,110.5 208.9,108.7 211.0,107.1 213.1,105.6 214.2,104.3 215.2,103.9 217.3,101.9 219.4,100.2 221.6,98.4 223.8,96.7 226.0,94.9 228.2,93.1 230.4,91.4" stroke="#1414ee"/>
<path d="M68.5,243.3L68.5,241.8 68.6,240.3 68.6,238.9 68.7,237.8 68.8,237.1 68.8,236.8 68.9,236.0 69.1,234.9 69.2,234.2 69.2,234.2 69.4,233.0 69.6,232.2 69.8,231.2 69.8,230.8 70.0,230.6 70.2,229.4 70.5,228.6 70.7,227.7 71.0,227.1 71.0,226.8 71.3,225.8 71.7,225.1 72.0,224.2 72.4,223.5 72.8,222.5 73.0,221.9 73.2,221.7 73.6,220.7 74.0,219.9 74.5,218.9 74.9,218.1 75.4,217.4 75.9,216.4 76.4,215.6 77.0,214.7 77.5,213.8 78.1,212.9 78.7,211.9 79.3,211.0 80.0,210.2 80.0,209.8 80.6,209.3 81.3,208.1 82.0,207.0 82.7,206.0 83.4,205.1 84.1,203.9 84.9,203.1 85.6,202.1 86.4,201.1 87.2,200.1 88.1,199.3 88.9,198.2 89.8,197.2 90.0,197.1 90.6,196.4 91.5,195.7 92.4,194.8 93.4,194.1 94.3,193.0 95.3,192.3 96.3,191.8 97.3,190.7 98.3,190.2 99.3,189.4 100.4,188.2 101.5,187.3 102.6,186.7 102.6,186.7 103.7,185.6 104.8,184.5 106.0,183.3 107.1,181.9 108.3,180.6 109.5,179.6 110.7,178.6 110.7,178.6 111.9,177.3 113.2,175.9 114.5,174.8 115.8,173.8 117.1,172.6 118.4,171.5 118.8,171.3 119.7,170.7 121.1,169.7 122.5,168.9 123.9,168.1 125.3,167.2 126.7,166.6 128.1,165.7 128.1,165.5 129.6,164.7 131.1,163.8 132.6,162.6 134.1,161.7 135.6,160.8 137.2,159.6 138.8,158.3 139.8,157.5 140.4,156.8 142.0,154.6 143.6,152.9 144.0,152.7 145.2,152.0 146.9,151.7 148.6,151.4 150.0,151.2 150.3,150.8 152.0,149.0 153.4,147.9 153.7,147.9 155.5,149.4 156.9,150.4 157.2,150.2 159.0,149.7 160.8,148.6 162.6,147.4 164.5,146.3 165.1,146.1 166.3,145.6 168.2,144.3 170.1,143.6 172.0,142.6 173.9,141.5 174.1,141.3 175.9,140.4 177.9,139.8 179.8,138.5 181.8,137.8 183.9,136.9 185.9,135.8 187.9,134.9 190.0,134.3 190.1,134.0 192.1,133.4 194.2,132.8 196.3,131.8 198.5,131.0 200.0,130.3 200.6,130.2 202.8,129.5 205.0,128.6" stroke="#e8141e"/>
<path d="M68.5,243.3L68.5,242.1 68.5,240.9 68.6,239.8 68.6,238.8 68.7,238.0 68.7,238.0 68.8,237.0 68.9,236.1 68.9,236.1 69.0,235.4 69.1,234.6 69.2,233.6 69.2,233.7 69.4,232.9 69.6,231.8 69.7,230.9 69.9,230.3 69.9,230.4 70.1,229.5 70.4,228.8 70.6,228.1 70.8,227.1 71.0,226.5 71.1,226.0 71.4,225.0 71.7,224.3 72.0,223.1 72.3,222.1 72.6,220.9 73.0,219.7 73.3,218.5 73.7,217.5 74.1,215.9 74.5,214.9 74.9,213.6 75.0,213.6 75.4,212.7 75.8,211.2 76.3,209.9 76.7,208.8 77.2,207.5 77.7,206.5 78.2,205.1 78.8,203.9 79.3,202.5 79.9,201.4 80.4,200.0 80.5,200.1 81.0,198.9 81.6,197.9 82.2,196.7 82.9,195.3 83.5,193.9 84.2,193.0 84.8,191.9 85.5,190.5 86.2,189.4 86.9,188.4 87.4,187.4 87.6,187.0 88.4,186.1 89.1,185.0 89.9,184.0 90.7,183.0 91.5,181.9 92.3,180.8 93.1,179.7 94.0,178.8 94.4,178.3 94.8,177.9 95.7,177.2 96.6,176.4 97.4,175.4 97.9,174.9 98.4,174.3 99.3,172.5 100.2,171.5 100.2,171.4 101.2,171.0 102.1,170.5 103.1,170.3 104.1,170.1 104.9,169.9 105.1,169.6 106.1,168.9 107.2,168.3 108.2,167.3 109.3,166.6 110.3,165.7 110.7,165.6 111.4,165.0 112.5,164.5 113.7,164.0 114.8,163.3 115.9,162.3 116.5,162.1 117.1,161.4 118.3,160.4 119.5,159.0 120.0,158.7 120.7,158.1 121.9,157.7 123.1,156.8 124.3,156.6 125.6,156.3 125.8,156.1 126.9,156.7 128.2,157.3 129.3,157.3 129.5,157.4 130.8,157.0 132.1,156.1 133.4,155.2 134.8,154.4 135.1,154.0 136.2,153.4 137.6,152.3 139.0,151.2 140.4,150.1 141.7,149.2 141.8,148.9 143.2,147.9 144.7,146.8 146.2,145.7 147.6,144.8 149.1,143.9 149.9,143.2 150.6,142.5 152.2,141.4 153.7,140.4 155.3,139.1 156.8,137.9 158.4,136.9 159.2,136.0 160.0,135.4 161.6,134.1 163.2,132.8 164.9,131.5 165.1,131.6 166.5,130.8 168.2,130.1 169.9,129.4 171.6,128.5 172.1,128.0 173.3,126.6 175.0,124.6 175.0,124.4 176.7,122.8 178.5,121.6 180.2,120.2 182.0,118.8 182.1,118.9 183.8,117.9 185.6,116.6 187.4,115.8 189.3,114.6 191.1,113.7 193.0,112.8 194.8,111.8 196.7,111.0 198.2,110.1 198.6,109.8 200.5,108.9 202.5,107.9 204.4,106.8 206.4,105.4 208.4,104.4 210.0,103.3 210.3,103.4 212.3,102.1 214.4,100.7 216.4,99.8 216.4,99.4 218.4,98.2 220.5,97.4 222.6,96.1 224.6,95.1 226.7,93.8 226.9,93.6 228.9,92.5 231.0,91.3 233.1,89.8 235.0,89.1 235.3,88.8 237.4,88.0 239.6,87.0 241.8,86.3 242.0,86.1 244.0,85.1 246.3,83.7 248.5,82.7" stroke="#e8141e"/>
<path d="M68.5,243.3L68.5,242.0 68.5,240.9 68.6,239.5 68.6,238.7 68.7,238.0 68.7,238.1 68.7,237.1 68.8,236.3 68.9,235.8 68.9,235.8 69.0,234.8 69.1,234.3 69.2,233.5 69.2,233.1 69.4,232.7 69.5,231.9 69.6,231.1 69.8,230.6 69.9,229.9 70.0,229.5 70.1,229.2 70.3,228.3 70.5,227.5 70.7,226.8 71.0,226.1 71.0,226.2 71.2,225.2 71.4,224.3 71.7,223.6 72.0,222.6 72.2,221.8 72.5,220.8 72.8,219.6 73.1,218.6 73.4,217.8 73.8,216.9 74.1,215.4 74.4,214.7 74.8,213.7 75.0,213.1 75.2,212.4 75.5,211.6 75.9,210.5 76.3,209.3 76.7,208.4 77.2,207.1 77.6,205.9 78.0,204.9 78.5,203.8 78.9,202.8 79.4,201.8 79.9,200.8 80.4,199.8 80.5,199.5 80.9,198.7 81.4,197.6 81.9,196.4 82.4,195.3 83.0,194.4 83.5,193.4 84.1,192.4 84.7,191.2 85.3,190.2 85.9,189.4 86.5,188.2 87.1,187.1 87.4,186.3 87.7,185.9 88.3,184.9 89.0,183.6 89.7,182.5 90.3,180.9 91.0,179.7 91.7,178.7 92.4,177.4 93.1,176.4 93.3,176.0 93.8,175.1 94.6,174.2 95.3,173.6 96.0,172.4 96.8,171.5 97.6,170.7 98.4,170.1 99.2,169.3 100.0,168.3 100.8,167.5 101.6,166.8 102.4,165.7 102.6,165.5 103.3,164.9 104.1,164.1 105.0,162.9 105.9,162.1 106.8,161.2 107.7,160.5 108.6,159.6 109.5,158.8 110.4,157.8 110.7,157.3 111.4,156.9 112.3,156.0 113.3,154.8 114.2,153.7 115.2,152.8 116.2,151.8 116.5,151.5 117.2,150.7 118.2,149.8 119.2,149.1 120.3,147.7 121.3,146.9 122.3,145.7 122.4,145.6 123.4,144.7 124.5,143.2 125.6,141.8 126.7,140.7 127.7,139.8 127.8,139.6 128.9,138.8 130.0,137.8 131.2,137.1 132.3,136.4 133.5,135.5 134.6,134.9 135.8,134.0 135.9,133.8 137.0,133.0 138.2,132.3 139.4,131.4 140.6,130.6 141.9,129.6 143.1,128.7 144.0,127.9 144.3,127.9 145.6,126.6 146.9,125.7 148.2,124.5 149.4,123.7 150.8,123.0 152.1,122.8 152.2,122.9 153.4,123.3 154.7,124.1 155.7,124.6 156.1,124.6 157.4,124.3 158.8,123.3 160.2,122.5 161.5,121.6 162.9,120.2 164.3,119.1 165.1,118.8 165.8,118.2 167.2,117.3 168.6,116.4 170.1,115.3 171.5,114.2 173.0,113.3 174.5,112.5 175.0,112.4 176.0,111.8 177.5,111.3 179.0,110.4 180.5,109.9 182.0,109.4 182.1,109.3 183.6,108.6 185.1,108.0 186.7,107.0 188.3,106.2 189.8,105.3 191.4,104.6 193.0,103.5 194.7,102.6 196.3,101.2 196.6,101.0 197.9,100.1 199.6,98.9 201.2,97.0 202.9,95.1 203.0,94.8 204.6,91.4 204.7,91.5 206.3,92.0 207.9,93.5 208.8,93.8 209.7,92.8 211.4,88.3 212.3,86.5 213.1,86.1 214.8,84.8 216.6,84.0 218.4,83.4 218.7,83.4 220.1,82.6 221.9,81.7 223.7,81.1 225.5,80.4 226.9,80.3 227.3,80.5 229.1,83.2 230.4,84.3 231.0,84.3 232.8,84.0 234.7,82.8 236.5,81.9 238.4,80.8 238.5,81.1 240.3,80.3 242.2,79.5 244.1,79.2 246.0,78.5 247.9,77.6 249.0,77.3 249.9,77.1 251.8,76.6 253.8,75.5 255.7,74.7 257.7,74.1 258.4,73.7 259.7,73.4 261.7,72.7 263.7,72.0 265.7,71.1 267.8,70.4 269.8,70.0 270.1,69.8 271.8,69.2 273.9,68.6 276.0,68.1 278.1,67.6 280.2,66.9 281.7,66.4 282.3,66.1 284.4,65.3 286.5,64.5 288.6,64.0 290.8,63.0 292.9,62.4 293.4,62.4 295.1,61.5 297.3,60.8 299.5,60.0 301.7,59.5 303.9,58.6 305.0,58.2 306.1,57.5 308.3,57.1 310.5,56.2 312.8,55.4 315.1,54.8 316.7,54.1 317.3,53.9 319.6,52.7" stroke="#e8141e"/>
<path d="M68.5,243.3L68.5,242.0 68.5,240.8 68.6,239.6 68.6,239.1 68.7,238.4 68.7,238.1 68.8,237.6 68.9,236.9 68.9,236.4 68.9,236.4 69.0,235.4 69.1,234.7 69.3,234.4 69.3,234.2 69.4,233.7 69.5,232.9 69.7,232.4 69.8,231.8 69.9,231.3 70.0,231.1 70.2,230.0 70.4,228.4 70.6,227.0 70.8,225.7 71.0,224.2 71.2,222.3 71.4,220.5 71.7,218.8 71.9,216.9 72.2,215.3 72.5,213.8 72.8,212.2 72.8,211.9 73.0,210.6 73.4,209.1 73.7,207.7 74.0,206.1 74.3,204.5 74.7,203.3 75.0,201.9 75.4,200.6 75.7,199.3 75.8,199.5 76.1,198.6 76.5,197.4 76.9,196.6 77.3,196.0 77.8,195.2 78.2,194.6 78.6,193.7 79.1,193.2 79.5,192.4 80.0,191.5 80.5,190.8 81.0,190.1 81.5,189.2 81.6,188.8 82.0,188.1 82.5,186.7 83.0,185.6 83.6,184.6 84.1,183.1 84.7,181.7 85.2,180.6 85.8,179.3 86.4,178.0 87.0,176.7 87.4,176.0 87.6,175.6 88.2,174.6 88.9,173.4 89.5,172.3 90.1,171.2 90.8,170.0 91.5,169.0 92.1,168.3 92.8,167.5 93.3,166.7 93.5,166.4 94.2,165.5 94.9,164.9 95.7,164.4 96.4,163.6 97.1,162.9 97.9,162.3 98.7,161.3 99.1,160.9 99.4,160.7 100.2,159.7 101.0,158.6 101.8,157.6 102.6,156.7 103.4,155.8 104.3,154.5 104.9,154.1 105.1,153.9 106.0,153.1 106.8,152.2 107.7,151.3 108.6,150.4 109.5,149.7 110.4,148.9 110.7,148.5 111.3,148.4 112.2,147.7 113.1,147.0 114.1,146.6 115.0,146.1 116.0,145.5 116.5,145.1 116.9,144.9 117.9,144.4 118.9,143.7 119.9,143.1 120.9,142.3 121.9,141.8 122.3,141.6 123.0,141.4 124.0,141.0 125.1,140.4 126.1,139.9 127.2,139.5 128.0,138.9 128.3,139.0 129.3,138.5 130.4,137.9 131.5,137.5 132.7,137.2 133.8,137.1 134.9,136.5 135.9,136.0 136.1,136.2 137.2,135.6 138.4,135.0 139.6,134.5 140.7,134.1 141.9,133.5 143.1,132.9 144.4,132.6 145.6,131.9 146.8,131.3 147.6,131.0 148.1,130.6 149.3,130.2 150.6,129.6 151.9,129.0 153.1,128.4 154.4,128.1 155.7,127.3 157.0,126.6 158.4,126.1 159.2,125.8 159.7,125.3 161.0,124.6 162.4,124.0 163.7,123.6 165.1,122.6 166.5,122.1 167.4,121.7 167.9,121.4 169.3,120.5 170.7,120.1 172.1,119.2 173.5,118.3 175.0,117.4 175.0,117.6 176.4,116.6 177.9,115.7 179.4,114.7 180.8,114.0 182.1,113.1 182.3,113.1 183.8,112.7 185.3,112.1 186.9,111.3 188.4,111.0 189.9,110.3 191.5,110.1 193.0,109.5 194.6,108.9 196.2,108.3 197.8,107.7 198.2,107.9 199.3,107.1 201.0,106.8 202.6,106.2 204.2,105.4 205.8,104.6 207.5,104.3 209.1,103.7 210.8,103.1 212.5,102.5 214.2,102.0 214.2,101.9 215.8,101.5 217.6,101.4 219.3,101.0 221.0,100.6 222.3,100.2 222.7,100.4 224.5,99.7 226.2,99.1 228.0,98.3 229.8,97.7 231.5,96.9 233.3,95.8 235.1,95.1 236.9,94.4 238.4,94.2 238.8,94.0 240.6,93.3 242.4,92.7 244.3,92.3 246.1,91.9 248.0,91.4 249.9,90.8 251.8,90.5 252.6,90.3 253.7,90.0 255.6,89.8 257.5,89.1 259.4,89.0 261.4,88.4 263.3,88.1 265.3,88.1 267.3,87.5 269.2,87.3 271.2,86.9 272.4,86.8 273.2,86.5 275.2,86.2 275.8,86.0 277.2,83.7 278.8,80.9 279.3,81.1 281.3,81.6 281.7,81.4 283.3,80.4 284.6,79.5 285.4,79.7 287.5,80.7 287.5,81.0 289.5,81.1 291.6,81.2 293.7,81.0 294.5,81.1 295.8,81.1 297.9,80.4 300.1,79.8 302.2,78.8 304.4,78.0 305.0,77.9 306.5,77.8 308.7,77.2 310.8,76.9 313.0,76.3 315.2,75.8 316.7,75.7 317.4,75.6 319.6,74.7 321.9,74.3 324.1,73.5 326.3,72.9 328.4,72.9 328.6,72.5 330.8,72.2 333.1,72.2 335.4,71.8" stroke="#000"/>
<path d="M205.5,129.0L216.6,122.0 219.0,125.5 208.4,133.2 205.5,129.0" stroke="#1414ee"/>
<path d="M130.3,173.2L135.3,169.6 137.2,172.6 132.2,176.2 130.3,173.2" stroke="#1414ee"/>
<path d="M164.3,151.2L169.6,147.2 172.2,150.3 167.0,154.3 164.3,151.2" stroke="#1414ee"/>
</g>
<g fill="#000">
<rect x="429.40" y="191.65" width="6.8" height="6.6"/>
<rect x="462.81" y="172.19" width="6.8" height="6.6"/>
<rect x="482.36" y="161.09" width="6.8" height="6.6"/>
<rect x="496.23" y="152.59" width="6.8" height="6.6"/>
<rect x="506.99" y="145.99" width="6.8" height="6.6"/>
<rect x="515.77" y="140.66" width="6.8" height="6.6"/>
<rect x="523.21" y="136.15" width="6.8" height="6.6"/>
<rect x="529.64" y="132.25" width="6.8" height="6.6"/>
<rect x="535.32" y="128.83" width="6.8" height="6.6"/>
<rect x="540.40" y="125.74" width="6.8" height="6.6"/>
<rect x="544.99" y="123.00" width="6.8" height="6.6"/>
<rect x="549.19" y="120.30" width="6.8" height="6.6"/>
<rect x="553.05" y="118.04" width="6.8" height="6.6"/>
<rect x="556.62" y="115.93" width="6.8" height="6.6"/>
<rect x="559.95" y="114.16" width="6.8" height="6.6"/>
<rect x="563.06" y="112.41" width="6.8" height="6.6"/>
<rect x="565.98" y="110.45" width="6.8" height="6.6"/>
<rect x="568.74" y="108.98" width="6.8" height="6.6"/>
<rect x="571.34" y="107.54" width="6.8" height="6.6"/>
<rect x="573.81" y="106.53" width="6.8" height="6.6"/>
<rect x="576.17" y="105.21" width="6.8" height="6.6"/>
<rect x="578.41" y="103.67" width="6.8" height="6.6"/>
<rect x="580.55" y="102.94" width="6.8" height="6.6"/>
<rect x="582.60" y="101.47" width="6.8" height="6.6"/>
<rect x="584.57" y="100.73" width="6.8" height="6.6"/>
<rect x="586.46" y="99.45" width="6.8" height="6.6"/>
<rect x="588.28" y="98.43" width="6.8" height="6.6"/>
<rect x="590.03" y="98.04" width="6.8" height="6.6"/>
<rect x="591.73" y="96.76" width="6.8" height="6.6"/>
<rect x="593.36" y="95.91" width="6.8" height="6.6"/>
<rect x="594.94" y="95.54" width="6.8" height="6.6"/>
<rect x="596.47" y="94.67" width="6.8" height="6.6"/>
<rect x="597.96" y="93.54" width="6.8" height="6.6"/>
<rect x="599.39" y="93.19" width="6.8" height="6.6"/>
<rect x="600.79" y="92.21" width="6.8" height="6.6"/>
<rect x="602.15" y="91.58" width="6.8" height="6.6"/>
<rect x="603.47" y="90.60" width="6.8" height="6.6"/>
<rect x="604.76" y="90.37" width="6.8" height="6.6"/>
<rect x="606.01" y="89.57" width="6.8" height="6.6"/>
<rect x="607.23" y="89.09" width="6.8" height="6.6"/>
<rect x="608.42" y="88.42" width="6.8" height="6.6"/>
<rect x="609.58" y="87.46" width="6.8" height="6.6"/>
<rect x="610.71" y="86.90" width="6.8" height="6.6"/>
<rect x="611.82" y="86.20" width="6.8" height="6.6"/>
<rect x="612.91" y="85.62" width="6.8" height="6.6"/>
<rect x="613.97" y="85.02" width="6.8" height="6.6"/>
<rect x="615.00" y="84.62" width="6.8" height="6.6"/>
<rect x="616.02" y="84.27" width="6.8" height="6.6"/>
<rect x="617.01" y="83.39" width="6.8" height="6.6"/>
<rect x="617.99" y="83.28" width="6.8" height="6.6"/>
<rect x="618.94" y="82.60" width="6.8" height="6.6"/>
<rect x="619.88" y="82.12" width="6.8" height="6.6"/>
<rect x="620.79" y="81.97" width="6.8" height="6.6"/>
<rect x="621.70" y="81.32" width="6.8" height="6.6"/>
<rect x="622.58" y="80.78" width="6.8" height="6.6"/>
<rect x="623.45" y="80.45" width="6.8" height="6.6"/>
<rect x="624.30" y="80.16" width="6.8" height="6.6"/>
<rect x="625.14" y="79.36" width="6.8" height="6.6"/>
<rect x="625.96" y="79.50" width="6.8" height="6.6"/>
<rect x="626.77" y="78.53" width="6.8" height="6.6"/>
<rect x="627.57" y="78.57" width="6.8" height="6.6"/>
<rect x="628.36" y="78.24" width="6.8" height="6.6"/>
<rect x="629.13" y="77.36" width="6.8" height="6.6"/>
<rect x="629.89" y="77.44" width="6.8" height="6.6"/>
<rect x="630.63" y="76.82" width="6.8" height="6.6"/>
<rect x="631.37" y="76.58" width="6.8" height="6.6"/>
<rect x="632.09" y="75.88" width="6.8" height="6.6"/>
<rect x="632.81" y="75.55" width="6.8" height="6.6"/>
<rect x="633.51" y="75.28" width="6.8" height="6.6"/>
<rect x="634.21" y="75.40" width="6.8" height="6.6"/>
<rect x="634.89" y="74.61" width="6.8" height="6.6"/>
<rect x="635.56" y="74.61" width="6.8" height="6.6"/>
<rect x="636.23" y="74.38" width="6.8" height="6.6"/>
<rect x="636.88" y="74.06" width="6.8" height="6.6"/>
<rect x="637.53" y="73.38" width="6.8" height="6.6"/>
<rect x="638.17" y="73.07" width="6.8" height="6.6"/>
<rect x="638.80" y="72.86" width="6.8" height="6.6"/>
<rect x="639.42" y="72.70" width="6.8" height="6.6"/>
<rect x="640.04" y="72.00" width="6.8" height="6.6"/>
<rect x="640.64" y="72.08" width="6.8" height="6.6"/>
<rect x="641.24" y="71.81" width="6.8" height="6.6"/>
<rect x="641.83" y="71.56" width="6.8" height="6.6"/>
<rect x="642.42" y="70.77" width="6.8" height="6.6"/>
<rect x="643.00" y="71.03" width="6.8" height="6.6"/>
<rect x="643.57" y="70.24" width="6.8" height="6.6"/>
<rect x="644.13" y="70.11" width="6.8" height="6.6"/>
<rect x="644.69" y="69.99" width="6.8" height="6.6"/>
</g>
<line x1="410.50" y1="204.47" x2="676.50" y2="57.53" stroke="#e82830" stroke-width="1.8" />
<g fill="#ff0000">
<circle cx="432.80" cy="206.27" r="3.9"/>
<circle cx="466.21" cy="181.46" r="3.9"/>
<circle cx="485.76" cy="167.01" r="3.9"/>
<circle cx="499.63" cy="159.45" r="3.9"/>
<circle cx="510.39" cy="153.59" r="3.9"/>
<circle cx="519.17" cy="148.80" r="3.9"/>
<circle cx="526.61" cy="144.27" r="3.9"/>
<circle cx="533.04" cy="140.36" r="3.9"/>
<circle cx="538.72" cy="136.86" r="3.9"/>
<circle cx="543.80" cy="133.86" r="3.9"/>
<circle cx="548.39" cy="131.20" r="3.9"/>
<circle cx="552.59" cy="128.30" r="3.9"/>
<circle cx="556.45" cy="125.85" r="3.9"/>
<circle cx="560.02" cy="124.39" r="3.9"/>
<circle cx="563.35" cy="122.12" r="3.9"/>
<circle cx="566.46" cy="120.19" r="3.9"/>
<circle cx="569.38" cy="118.29" r="3.9"/>
<circle cx="572.14" cy="117.17" r="3.9"/>
<circle cx="574.74" cy="116.02" r="3.9"/>
<circle cx="577.21" cy="114.21" r="3.9"/>
<circle cx="579.57" cy="112.87" r="3.9"/>
<circle cx="581.81" cy="111.20" r="3.9"/>
<circle cx="583.95" cy="111.05" r="3.9"/>
<circle cx="586.00" cy="108.86" r="3.9"/>
<circle cx="587.97" cy="108.33" r="3.9"/>
<circle cx="589.86" cy="107.71" r="3.9"/>
<circle cx="591.68" cy="105.86" r="3.9"/>
<circle cx="593.43" cy="105.61" r="3.9"/>
<circle cx="595.13" cy="104.94" r="3.9"/>
<circle cx="596.76" cy="103.66" r="3.9"/>
<circle cx="598.34" cy="102.98" r="3.9"/>
<circle cx="599.87" cy="101.32" r="3.9"/>
<circle cx="601.36" cy="100.89" r="3.9"/>
<circle cx="602.79" cy="99.76" r="3.9"/>
<circle cx="604.19" cy="99.83" r="3.9"/>
<circle cx="605.55" cy="98.42" r="3.9"/>
<circle cx="606.87" cy="97.88" r="3.9"/>
<circle cx="608.16" cy="97.83" r="3.9"/>
<circle cx="609.41" cy="96.96" r="3.9"/>
<circle cx="610.63" cy="96.44" r="3.9"/>
<circle cx="611.82" cy="95.16" r="3.9"/>
<circle cx="612.98" cy="94.56" r="3.9"/>
<circle cx="614.11" cy="94.22" r="3.9"/>
<circle cx="615.22" cy="93.31" r="3.9"/>
<circle cx="616.31" cy="92.49" r="3.9"/>
<circle cx="617.37" cy="92.04" r="3.9"/>
<circle cx="618.40" cy="91.16" r="3.9"/>
<circle cx="619.42" cy="90.88" r="3.9"/>
<circle cx="620.41" cy="91.07" r="3.9"/>
<circle cx="621.39" cy="90.50" r="3.9"/>
<circle cx="622.34" cy="89.58" r="3.9"/>
<circle cx="623.28" cy="88.92" r="3.9"/>
<circle cx="624.19" cy="88.22" r="3.9"/>
<circle cx="625.10" cy="87.43" r="3.9"/>
<circle cx="625.98" cy="87.17" r="3.9"/>
<circle cx="626.85" cy="87.31" r="3.9"/>
<circle cx="627.70" cy="86.95" r="3.9"/>
<circle cx="628.54" cy="85.88" r="3.9"/>
<circle cx="629.36" cy="85.94" r="3.9"/>
<circle cx="630.17" cy="85.49" r="3.9"/>
<circle cx="630.97" cy="84.96" r="3.9"/>
<circle cx="631.76" cy="84.50" r="3.9"/>
<circle cx="632.53" cy="84.19" r="3.9"/>
<circle cx="633.29" cy="83.30" r="3.9"/>
<circle cx="634.03" cy="83.30" r="3.9"/>
<circle cx="634.77" cy="82.39" r="3.9"/>
<circle cx="635.49" cy="82.24" r="3.9"/>
<circle cx="636.21" cy="82.20" r="3.9"/>
<circle cx="636.91" cy="81.72" r="3.9"/>
<circle cx="637.61" cy="80.86" r="3.9"/>
<circle cx="638.29" cy="81.27" r="3.9"/>
<circle cx="638.96" cy="80.55" r="3.9"/>
<circle cx="639.63" cy="80.11" r="3.9"/>
<circle cx="640.28" cy="79.07" r="3.9"/>
<circle cx="640.93" cy="79.36" r="3.9"/>
<circle cx="641.57" cy="78.65" r="3.9"/>
<circle cx="642.20" cy="78.82" r="3.9"/>
<circle cx="642.82" cy="78.23" r="3.9"/>
<circle cx="643.44" cy="78.32" r="3.9"/>
<circle cx="644.04" cy="77.78" r="3.9"/>
<circle cx="644.64" cy="77.64" r="3.9"/>
<circle cx="645.23" cy="76.77" r="3.9"/>
<circle cx="645.82" cy="76.81" r="3.9"/>
<circle cx="646.40" cy="76.61" r="3.9"/>
<circle cx="646.97" cy="76.41" r="3.9"/>
<circle cx="647.53" cy="75.53" r="3.9"/>
<circle cx="648.09" cy="75.81" r="3.9"/>
<circle cx="648.64" cy="75.55" r="3.9"/>
<circle cx="649.18" cy="75.03" r="3.9"/>
<circle cx="649.72" cy="75.08" r="3.9"/>
<circle cx="650.25" cy="74.77" r="3.9"/>
<circle cx="650.78" cy="73.96" r="3.9"/>
<circle cx="651.30" cy="73.69" r="3.9"/>
<circle cx="651.82" cy="72.97" r="3.9"/>
<circle cx="652.33" cy="73.50" r="3.9"/>
<circle cx="652.83" cy="73.34" r="3.9"/>
<circle cx="653.33" cy="72.52" r="3.9"/>
<circle cx="653.83" cy="72.51" r="3.9"/>
</g>
<line x1="410.50" y1="213.06" x2="681.20" y2="61.44" stroke="#e82830" stroke-width="1.8" />
<g fill="#0000f5">
<path d="M428.20,217.20L437.40,217.20L432.80,226.40Z"/>
<path d="M461.61,189.85L470.81,189.85L466.21,199.05Z"/>
<path d="M481.16,176.58L490.36,176.58L485.76,185.78Z"/>
<path d="M495.03,167.20L504.23,167.20L499.63,176.40Z"/>
<path d="M505.79,160.49L514.99,160.49L510.39,169.69Z"/>
<path d="M514.57,155.43L523.77,155.43L519.17,164.63Z"/>
<path d="M522.01,151.53L531.21,151.53L526.61,160.73Z"/>
<path d="M528.44,148.25L537.64,148.25L533.04,157.45Z"/>
<path d="M534.12,145.13L543.32,145.13L538.72,154.33Z"/>
<path d="M539.20,142.30L548.40,142.30L543.80,151.50Z"/>
<path d="M543.79,139.83L552.99,139.83L548.39,149.03Z"/>
<path d="M547.99,137.00L557.19,137.00L552.59,146.20Z"/>
<path d="M551.85,134.63L561.05,134.63L556.45,143.83Z"/>
<path d="M555.42,132.66L564.62,132.66L560.02,141.86Z"/>
<path d="M558.75,130.87L567.95,130.87L563.35,140.07Z"/>
<path d="M561.86,128.26L571.06,128.26L566.46,137.46Z"/>
<path d="M564.78,127.22L573.98,127.22L569.38,136.42Z"/>
<path d="M567.54,125.43L576.74,125.43L572.14,134.63Z"/>
<path d="M570.14,122.62L579.34,122.62L574.74,131.82Z"/>
<path d="M572.61,121.93L581.81,121.93L577.21,131.13Z"/>
<path d="M574.97,119.93L584.17,119.93L579.57,129.13Z"/>
<path d="M577.21,118.14L586.41,118.14L581.81,127.34Z"/>
<path d="M579.35,116.92L588.55,116.92L583.95,126.12Z"/>
<path d="M581.40,115.96L590.60,115.96L586.00,125.16Z"/>
<path d="M583.37,114.42L592.57,114.42L587.97,123.62Z"/>
<path d="M585.26,113.23L594.46,113.23L589.86,122.43Z"/>
<path d="M587.08,111.74L596.28,111.74L591.68,120.94Z"/>
<path d="M588.83,111.47L598.03,111.47L593.43,120.67Z"/>
<path d="M590.53,110.21L599.73,110.21L595.13,119.41Z"/>
<path d="M592.16,109.62L601.36,109.62L596.76,118.82Z"/>
<path d="M593.74,108.56L602.94,108.56L598.34,117.76Z"/>
<path d="M595.27,106.87L604.47,106.87L599.87,116.07Z"/>
<path d="M596.76,107.24L605.96,107.24L601.36,116.44Z"/>
<path d="M598.19,104.51L607.39,104.51L602.79,113.71Z"/>
<path d="M599.59,104.42L608.79,104.42L604.19,113.62Z"/>
<path d="M600.95,103.29L610.15,103.29L605.55,112.49Z"/>
<path d="M602.27,102.70L611.47,102.70L606.87,111.90Z"/>
<path d="M603.56,101.28L612.76,101.28L608.16,110.48Z"/>
<path d="M604.81,101.91L614.01,101.91L609.41,111.11Z"/>
<path d="M606.03,100.21L615.23,100.21L610.63,109.41Z"/>
<path d="M607.22,98.77L616.42,98.77L611.82,107.97Z"/>
<path d="M608.38,99.17L617.58,99.17L612.98,108.37Z"/>
<path d="M609.51,97.40L618.71,97.40L614.11,106.60Z"/>
<path d="M610.62,97.59L619.82,97.59L615.22,106.79Z"/>
<path d="M611.71,96.48L620.91,96.48L616.31,105.68Z"/>
<path d="M612.77,96.28L621.97,96.28L617.37,105.48Z"/>
<path d="M613.80,96.37L623.00,96.37L618.40,105.57Z"/>
<path d="M614.82,95.43L624.02,95.43L619.42,104.63Z"/>
<path d="M615.81,94.00L625.01,94.00L620.41,103.20Z"/>
<path d="M616.79,94.16L625.99,94.16L621.39,103.36Z"/>
<path d="M617.74,93.18L626.94,93.18L622.34,102.38Z"/>
<path d="M618.68,92.02L627.88,92.02L623.28,101.22Z"/>
<path d="M619.59,90.96L628.79,90.96L624.19,100.16Z"/>
<path d="M620.50,91.27L629.70,91.27L625.10,100.47Z"/>
<path d="M621.38,90.62L630.58,90.62L625.98,99.82Z"/>
<path d="M622.25,90.83L631.45,90.83L626.85,100.03Z"/>
<path d="M623.10,90.29L632.30,90.29L627.70,99.49Z"/>
<path d="M623.94,89.01L633.14,89.01L628.54,98.21Z"/>
<path d="M624.76,87.95L633.96,87.95L629.36,97.15Z"/>
<path d="M625.57,88.50L634.77,88.50L630.17,97.70Z"/>
<path d="M626.37,86.19L635.57,86.19L630.97,95.39Z"/>
<path d="M627.16,85.88L636.36,85.88L631.76,95.08Z"/>
<path d="M627.93,86.29L637.13,86.29L632.53,95.49Z"/>
<path d="M628.69,85.89L637.89,85.89L633.29,95.09Z"/>
<path d="M629.43,84.44L638.63,84.44L634.03,93.64Z"/>
<path d="M630.17,84.93L639.37,84.93L634.77,94.13Z"/>
<path d="M630.89,84.98L640.09,84.98L635.49,94.18Z"/>
<path d="M631.61,83.47L640.81,83.47L636.21,92.67Z"/>
<path d="M632.31,83.12L641.51,83.12L636.91,92.32Z"/>
<path d="M633.01,82.25L642.21,82.25L637.61,91.45Z"/>
<path d="M633.69,81.93L642.89,81.93L638.29,91.13Z"/>
<path d="M634.36,82.84L643.56,82.84L638.96,92.04Z"/>
<path d="M635.03,81.22L644.23,81.22L639.63,90.42Z"/>
<path d="M635.68,81.95L644.88,81.95L640.28,91.15Z"/>
<path d="M636.33,81.42L645.53,81.42L640.93,90.62Z"/>
<path d="M636.97,80.36L646.17,80.36L641.57,89.56Z"/>
<path d="M637.60,79.28L646.80,79.28L642.20,88.48Z"/>
<path d="M638.22,80.31L647.42,80.31L642.82,89.51Z"/>
<path d="M638.84,78.93L648.04,78.93L643.44,88.13Z"/>
<path d="M639.44,78.37L648.64,78.37L644.04,87.57Z"/>
<path d="M640.04,77.78L649.24,77.78L644.64,86.98Z"/>
<path d="M640.63,78.72L649.83,78.72L645.23,87.92Z"/>
<path d="M641.22,77.35L650.42,77.35L645.82,86.55Z"/>
<path d="M641.80,76.55L651.00,76.55L646.40,85.75Z"/>
<path d="M642.37,76.56L651.57,76.56L646.97,85.76Z"/>
<path d="M642.93,75.47L652.13,75.47L647.53,84.67Z"/>
<path d="M643.49,76.10L652.69,76.10L648.09,85.30Z"/>
<path d="M644.04,75.38L653.24,75.38L648.64,84.58Z"/>
<path d="M644.58,74.72L653.78,74.72L649.18,83.92Z"/>
<path d="M645.12,75.34L654.32,75.34L649.72,84.54Z"/>
<path d="M645.65,75.08L654.85,75.08L650.25,84.28Z"/>
<path d="M646.18,73.11L655.38,73.11L650.78,82.31Z"/>
<path d="M646.70,73.80L655.90,73.80L651.30,83.00Z"/>
<path d="M647.22,72.94L656.42,72.94L651.82,82.14Z"/>
<path d="M647.73,73.93L656.93,73.93L652.33,83.13Z"/>
<path d="M648.23,73.29L657.43,73.29L652.83,82.49Z"/>
<path d="M648.73,71.88L657.93,71.88L653.33,81.08Z"/>
<path d="M649.23,71.60L658.43,71.60L653.83,80.80Z"/>
<path d="M649.72,71.05L658.92,71.05L654.32,80.25Z"/>
<path d="M650.20,72.40L659.40,72.40L654.80,81.60Z"/>
<path d="M650.68,70.69L659.88,70.69L655.28,79.89Z"/>
<path d="M651.15,71.00L660.35,71.00L655.75,80.20Z"/>
<path d="M651.62,70.43L660.82,70.43L656.22,79.63Z"/>
</g>
<line x1="410.50" y1="230.62" x2="659.50" y2="73.00" stroke="#e82830" stroke-width="1.8" />
<line x1="94.30" y1="311.70" x2="94.30" y2="471.50" stroke="#505050" stroke-width="1.5" />
<line x1="93.60" y1="470.80" x2="331.30" y2="470.80" stroke="#505050" stroke-width="1.5" />
<line x1="90.10" y1="470.80" x2="94.30" y2="470.80" stroke="#505050" stroke-width="1.4" />
<text x="89.40" y="475.12" font-size="12" text-anchor="end" font-weight="bold" fill="#000" >0.0</text>
<line x1="90.10" y1="439.12" x2="94.30" y2="439.12" stroke="#505050" stroke-width="1.4" />
<text x="89.40" y="443.44" font-size="12" text-anchor="end" font-weight="bold" fill="#000" >0.2</text>
<line x1="90.10" y1="407.44" x2="94.30" y2="407.44" stroke="#505050" stroke-width="1.4" />
<text x="89.40" y="411.76" font-size="12" text-anchor="end" font-weight="bold" fill="#000" >0.4</text>
<line x1="90.10" y1="375.76" x2="94.30" y2="375.76" stroke="#505050" stroke-width="1.4" />
<text x="89.40" y="380.08" font-size="12" text-anchor="end" font-weight="bold" fill="#000" >0.6</text>
<line x1="90.10" y1="344.08" x2="94.30" y2="344.08" stroke="#505050" stroke-width="1.4" />
<text x="89.40" y="348.40" font-size="12" text-anchor="end" font-weight="bold" fill="#000" >0.8</text>
<line x1="90.10" y1="312.40" x2="94.30" y2="312.40" stroke="#505050" stroke-width="1.4" />
<text x="89.40" y="316.72" font-size="12" text-anchor="end" font-weight="bold" fill="#000" >1.0</text>
<line x1="133.95" y1="401.10" x2="133.95" y2="386.06" stroke="#505050" stroke-width="1.4" />
<line x1="120.65" y1="386.06" x2="147.25" y2="386.06" stroke="#505050" stroke-width="1.4" />
<rect x="107.90" y="401.80" width="52.10" height="69.00" fill="#fff" stroke="#505050" stroke-width="1.4"/>
<line x1="133.95" y1="470.80" x2="133.95" y2="474.60" stroke="#505050" stroke-width="1.3" />
<text transform="translate(138.75,483.00) rotate(-45)" font-size="13" font-weight="bold" text-anchor="end" fill="#000">Control</text>
<line x1="212.85" y1="393.18" x2="212.85" y2="378.93" stroke="#505050" stroke-width="1.4" />
<line x1="199.55" y1="378.93" x2="226.15" y2="378.93" stroke="#505050" stroke-width="1.4" />
<rect x="187.00" y="393.88" width="51.70" height="76.92" fill="#8a8b8e" stroke="#8a8b8e" stroke-width="1.4"/>
<line x1="212.85" y1="470.80" x2="212.85" y2="474.60" stroke="#505050" stroke-width="1.3" />
<text transform="translate(217.65,483.00) rotate(-45)" font-size="13" font-weight="bold" text-anchor="end" fill="#000">T24</text>
<line x1="292.20" y1="380.51" x2="292.20" y2="359.92" stroke="#505050" stroke-width="1.4" />
<line x1="278.90" y1="359.92" x2="305.50" y2="359.92" stroke="#505050" stroke-width="1.4" />
<rect x="266.40" y="381.21" width="51.60" height="89.59" fill="#000" stroke="#000" stroke-width="1.4"/>
<line x1="292.20" y1="470.80" x2="292.20" y2="474.60" stroke="#505050" stroke-width="1.3" />
<text transform="translate(297.00,483.00) rotate(-45)" font-size="13" font-weight="bold" text-anchor="end" fill="#000">T48</text>
<line x1="131.70" y1="340.20" x2="294.20" y2="340.20" stroke="#505050" stroke-width="1.4" />
<line x1="131.70" y1="336.80" x2="131.70" y2="343.60" stroke="#505050" stroke-width="1.4" />
<line x1="294.20" y1="336.80" x2="294.20" y2="343.60" stroke="#505050" stroke-width="1.4" />
<text x="209.20" y="330.40" font-size="12" text-anchor="middle" font-weight="bold" fill="#000" >**</text>
<line x1="436.70" y1="313.20" x2="436.70" y2="472.10" stroke="#505050" stroke-width="1.5" />
<line x1="436.00" y1="471.40" x2="673.00" y2="471.40" stroke="#505050" stroke-width="1.5" />
<line x1="432.50" y1="471.40" x2="436.70" y2="471.40" stroke="#505050" stroke-width="1.4" />
<text x="431.80" y="475.54" font-size="11.5" text-anchor="end" font-weight="bold" fill="#000" >0</text>
<line x1="432.50" y1="432.00" x2="436.70" y2="432.00" stroke="#505050" stroke-width="1.4" />
<text x="431.80" y="436.14" font-size="11.5" text-anchor="end" font-weight="bold" fill="#000" >50</text>
<line x1="432.50" y1="392.60" x2="436.70" y2="392.60" stroke="#505050" stroke-width="1.4" />
<text x="431.80" y="396.74" font-size="11.5" text-anchor="end" font-weight="bold" fill="#000" >100</text>
<line x1="432.50" y1="353.20" x2="436.70" y2="353.20" stroke="#505050" stroke-width="1.4" />
<text x="431.80" y="357.34" font-size="11.5" text-anchor="end" font-weight="bold" fill="#000" >150</text>
<line x1="432.50" y1="313.80" x2="436.70" y2="313.80" stroke="#505050" stroke-width="1.4" />
<text x="431.80" y="317.94" font-size="11.5" text-anchor="end" font-weight="bold" fill="#000" >200</text>
<line x1="475.90" y1="399.46" x2="475.90" y2="394.33" stroke="#505050" stroke-width="1.4" />
<line x1="462.60" y1="394.33" x2="489.20" y2="394.33" stroke="#505050" stroke-width="1.4" />
<rect x="449.90" y="400.16" width="52.00" height="71.24" fill="#fff" stroke="#505050" stroke-width="1.4"/>
<line x1="475.90" y1="471.40" x2="475.90" y2="475.20" stroke="#505050" stroke-width="1.3" />
<text transform="translate(480.70,483.60) rotate(-45)" font-size="13" font-weight="bold" text-anchor="end" fill="#000">Control</text>
<line x1="555.35" y1="391.73" x2="555.35" y2="382.51" stroke="#505050" stroke-width="1.4" />
<line x1="542.05" y1="382.51" x2="568.65" y2="382.51" stroke="#505050" stroke-width="1.4" />
<rect x="529.50" y="392.43" width="51.70" height="78.97" fill="#8a8b8e" stroke="#8a8b8e" stroke-width="1.4"/>
<line x1="555.35" y1="471.40" x2="555.35" y2="475.20" stroke="#505050" stroke-width="1.3" />
<text transform="translate(560.15,483.60) rotate(-45)" font-size="13" font-weight="bold" text-anchor="end" fill="#000">T24</text>
<line x1="633.95" y1="346.03" x2="633.95" y2="326.88" stroke="#505050" stroke-width="1.4" />
<line x1="620.65" y1="326.88" x2="647.25" y2="326.88" stroke="#505050" stroke-width="1.4" />
<rect x="608.30" y="346.73" width="51.30" height="124.67" fill="#000" stroke="#000" stroke-width="1.4"/>
<line x1="633.95" y1="471.40" x2="633.95" y2="475.20" stroke="#505050" stroke-width="1.3" />
<text transform="translate(638.75,483.60) rotate(-45)" font-size="13" font-weight="bold" text-anchor="end" fill="#000">T48</text>
<line x1="473.20" y1="315.40" x2="634.20" y2="315.40" stroke="#505050" stroke-width="1.4" />
<line x1="473.20" y1="312.00" x2="473.20" y2="318.80" stroke="#505050" stroke-width="1.4" />
<line x1="634.20" y1="312.00" x2="634.20" y2="318.80" stroke="#505050" stroke-width="1.4" />
<text x="552.80" y="309.20" font-size="12" text-anchor="middle" font-weight="bold" fill="#000" >*</text>
<text transform="translate(54.6,426.8) rotate(-90) scale(1.1,1)" font-size="12.5" fill="#000">α–exponent</text>
<text transform="translate(394.2,400.8) rotate(-90)" font-size="13.5" fill="#000">A<tspan font-size="10" dy="4.4">C</tspan></text>
</svg></body></html>
